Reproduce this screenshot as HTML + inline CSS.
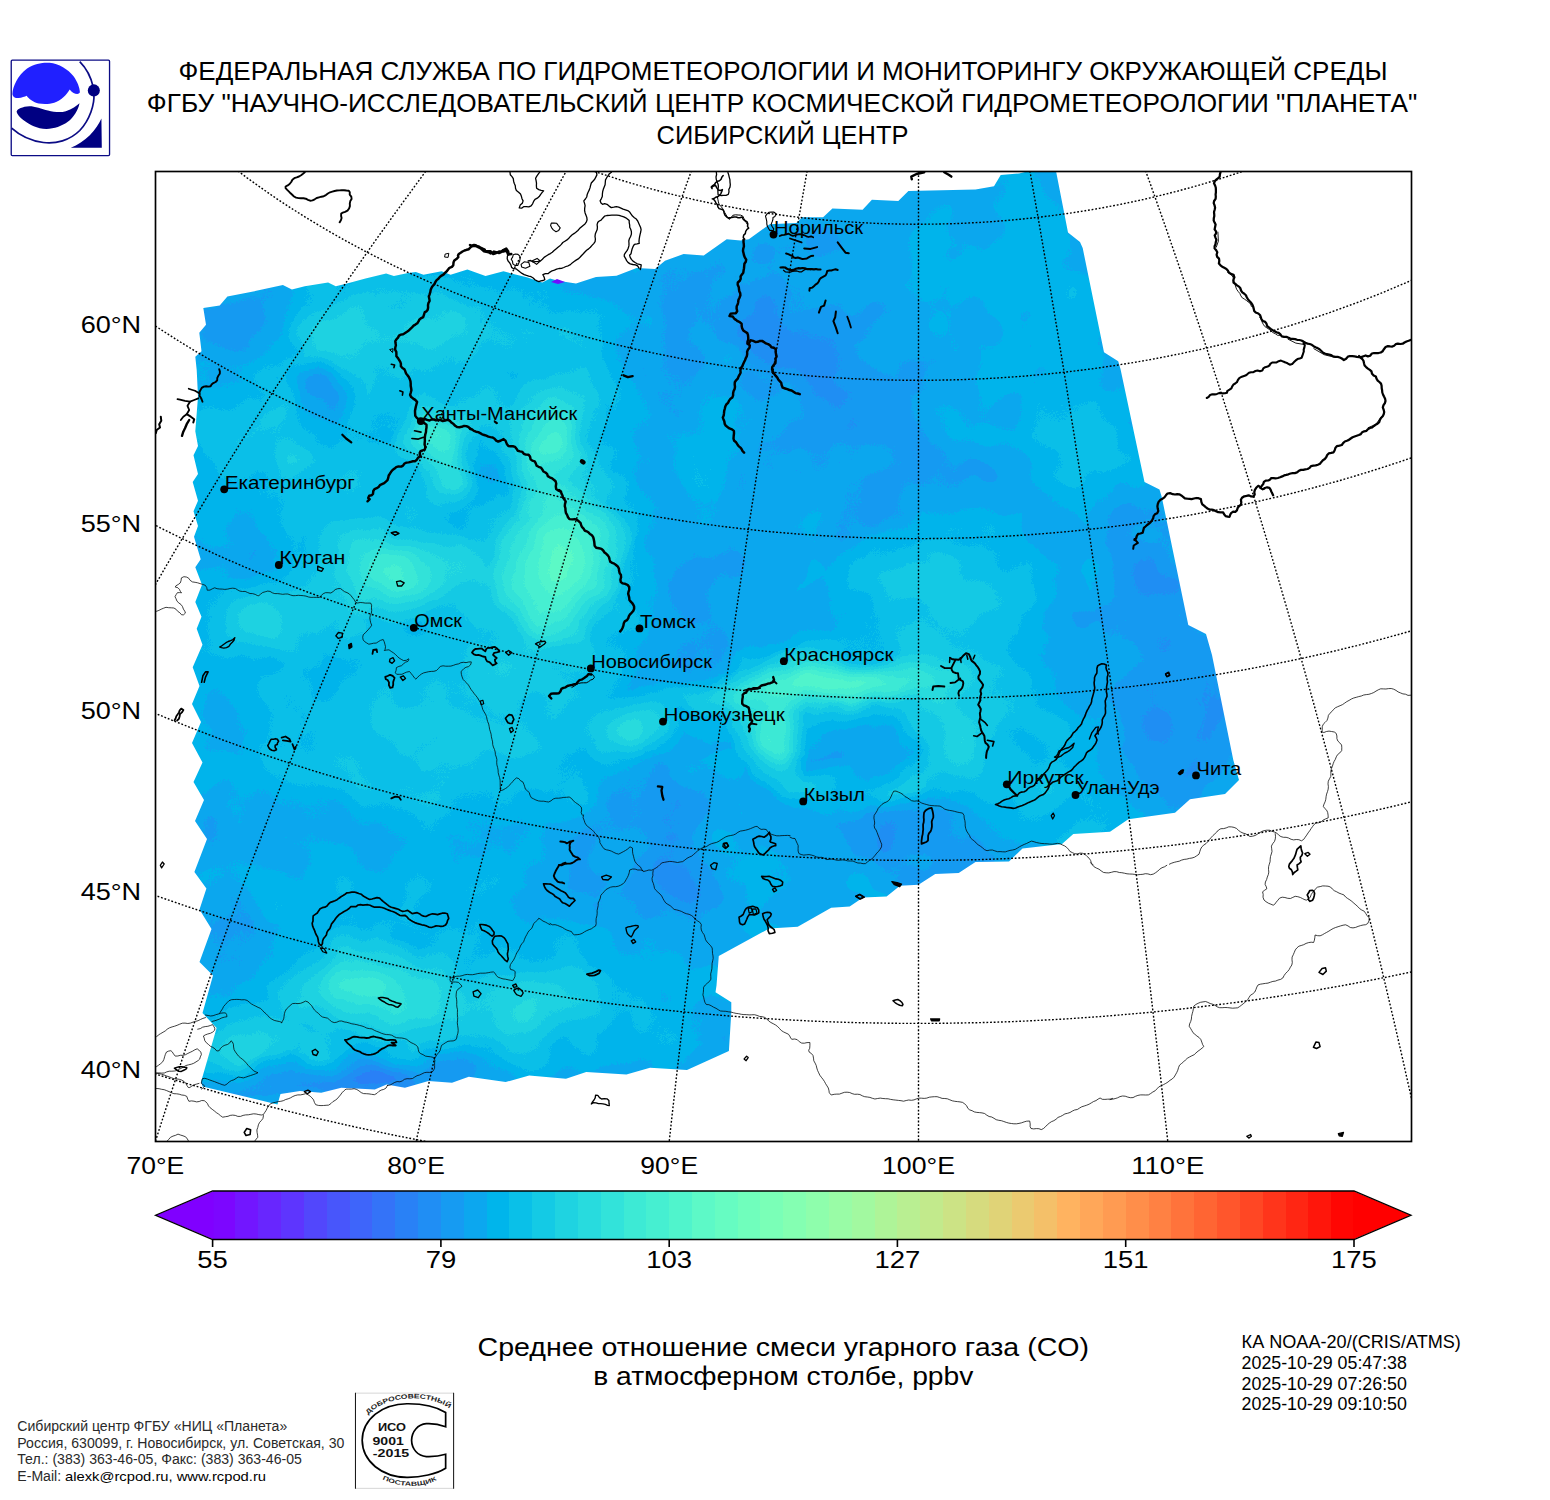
<!DOCTYPE html>
<html><head><meta charset="utf-8"><title>CO map</title>
<style>html,body{margin:0;padding:0;background:#fff;width:1550px;height:1500px;overflow:hidden}svg{display:block}text{font-family:"Liberation Sans",sans-serif}</style>
</head><body>
<svg width="1550" height="1500" viewBox="0 0 1550 1500">
<rect width="1550" height="1500" fill="#fff"/>
<g font-family="Liberation Sans, sans-serif">
<text x="783.0" y="79.7" font-size="25.50" text-anchor="middle" textLength="1209.0" lengthAdjust="spacingAndGlyphs" fill="#000" >ФЕДЕРАЛЬНАЯ СЛУЖБА ПО ГИДРОМЕТЕОРОЛОГИИ И МОНИТОРИНГУ ОКРУЖАЮЩЕЙ СРЕДЫ</text>
<text x="782.0" y="111.9" font-size="25.50" text-anchor="middle" textLength="1270.4" lengthAdjust="spacingAndGlyphs" fill="#000" >ФГБУ &quot;НАУЧНО-ИССЛЕДОВАТЕЛЬСКИЙ ЦЕНТР КОСМИЧЕСКОЙ ГИДРОМЕТЕОРОЛОГИИ &quot;ПЛАНЕТА&quot;</text>
<text x="782.5" y="144.0" font-size="25.50" text-anchor="middle" textLength="252.0" lengthAdjust="spacingAndGlyphs" fill="#000" >СИБИРСКИЙ ЦЕНТР</text>
<text x="783.3" y="1355.6" font-size="25.50" text-anchor="middle" textLength="611.4" lengthAdjust="spacingAndGlyphs" fill="#000" >Среднее отношение смеси угарного газа (CO)</text>
<text x="783.3" y="1385.0" font-size="25.50" text-anchor="middle" textLength="380.2" lengthAdjust="spacingAndGlyphs" fill="#000" >в атмосферном столбе, ppbv</text>
</g>
<g transform="translate(0,50) scale(0.077419)">
<rect x="145" y="130" width="1270" height="1235" rx="14" fill="#fff" stroke="#0b0b85" stroke-width="17"/>
<path d="M160 570 C165 470 230 330 350 240 C450 170 560 160 640 165 C760 175 880 250 950 340 C1000 410 1030 490 1032 545 C1020 575 985 570 950 555 C930 545 915 525 900 510 C860 580 790 650 700 680 C640 700 560 700 500 690 C430 675 370 630 345 590 C320 600 280 615 240 620 C200 622 165 610 160 570Z" fill="#2020ff"/>
<path d="M215 790 C225 760 290 730 380 725 C450 725 540 760 620 780 C700 800 780 810 850 790 C930 765 990 720 1027 688 C1010 780 950 870 880 925 C800 985 700 1020 600 1020 C480 1020 380 960 310 910 C250 865 215 820 215 790Z" fill="#000082"/>
<path d="M1030 150 C1120 240 1180 370 1205 480" fill="none" stroke="#0b0b85" stroke-width="22"/>
<path d="M1212 560 C1225 700 1160 900 1030 1040 C900 1170 720 1215 560 1195 C400 1175 250 1100 150 1010" fill="none" stroke="#0b0b85" stroke-width="22"/>
<circle cx="1212" cy="522" r="78" fill="#000082"/>
<path d="M1310 885 L1315 1262 L915 1262 C1000 1225 1090 1170 1160 1100 C1230 1030 1280 950 1310 885Z" fill="#000082"/>
</g>
<defs>
<clipPath id="frameclip"><rect x="155.5" y="171.5" width="1256.0" height="970.0"/></clipPath>
<clipPath id="dataclip"><path d="M203.3 308.1 L219.7 305.6 L227.4 296.6 L253.2 291.5 L282.9 285.0 L291.9 289.4 L304.8 286.3 L328.1 282.4 L335.8 286.3 L346.1 283.7 L365.5 278.5 L386.1 273.4 L393.9 276.0 L408.1 272.9 L415.8 272.1 L423.5 274.7 L441.6 271.3 L450.6 274.7 L467.4 269.5 L485.5 276.0 L503.5 271.3 L511.3 273.4 L526.8 277.3 L542.3 282.4 L550.0 278.5 L557.8 280.8 L576.0 283.5 L596.0 277.0 L616.5 275.8 L636.6 268.0 L655.0 269.0 L665.0 260.7 L683.6 254.0 L703.7 255.6 L726.7 239.3 L740.6 240.5 L748.8 239.3 L769.7 224.2 L796.4 223.1 L802.2 217.3 L823.1 217.3 L832.4 208.6 L862.6 209.7 L871.9 199.8 L898.3 200.9 L908.4 190.9 L975.5 189.5 L994.0 186.2 L1000.7 175.1 L1019.0 173.4 L1029.0 171.0 L1056.0 171.0 L1068.0 232.5 L1080.0 242.0 L1082.7 248.0 L1104.0 352.3 L1118.2 361.2 L1120.5 369.0 L1144.5 482.0 L1159.5 489.5 L1161.7 496.7 L1188.3 625.0 L1206.0 634.0 L1212.0 655.0 L1233.3 760.0 L1239.0 780.0 L1225.0 794.0 L1190.0 799.3 L1175.0 812.7 L1128.3 819.3 L1110.0 831.7 L1073.3 834.0 L1062.0 844.0 L1022.5 848.6 L1009.0 861.4 L975.5 862.0 L958.7 873.1 L935.2 874.1 L918.5 884.8 L900.0 885.8 L886.6 896.6 L863.0 897.6 L849.7 906.6 L831.2 907.7 L797.7 926.8 L769.2 928.5 L718.8 956.0 L716.5 985.5 L715.5 992.2 L731.3 1002.3 L731.3 1012.3 L728.9 1050.9 L687.0 1070.0 L650.0 1067.7 L626.4 1074.4 L586.2 1072.0 L566.0 1078.7 L529.2 1075.4 L505.7 1082.1 L468.8 1076.7 L452.0 1082.8 L428.5 1081.1 L405.0 1087.8 L386.6 1084.4 L374.8 1089.5 L341.3 1087.8 L321.2 1092.8 L300.0 1091.0 L280.5 1094.0 L277.5 1104.5 L202.5 1086.5 L201.0 1082.0 L216.6 1028.0 L202.5 1013.0 L213.0 975.5 L199.5 962.0 L211.5 929.0 L199.5 909.5 L206.4 888.5 L194.4 872.0 L207.0 839.0 L195.0 821.0 L204.0 800.0 L193.5 782.0 L202.5 762.5 L192.0 743.0 L201.0 722.0 L192.0 704.0 L199.5 686.0 L192.7 667.3 L202.5 644.7 L196.7 628.7 L201.5 616.7 L195.3 602.0 L202.0 584.7 L195.3 567.3 L200.7 559.3 L194.0 536.7 L198.0 526.0 L193.5 511.3 L198.0 500.7 L192.7 482.0 L198.0 474.0 L193.5 455.3 L198.0 446.0 L195.3 431.3 L198.0 396.7 L196.7 370.0 L195.3 356.7 L201.5 351.3 L199.3 332.7 L206.0 324.7Z"/></clipPath>
<filter id="cm" filterUnits="userSpaceOnUse" x="90" y="100" width="1390" height="1110" color-interpolation-filters="sRGB">
<feTurbulence type="fractalNoise" baseFrequency="0.011" numOctaves="3" seed="11" result="n"/>
<feDisplacementMap in="SourceGraphic" in2="n" scale="46" xChannelSelector="R" yChannelSelector="G" result="d"/>
<feTurbulence type="fractalNoise" baseFrequency="0.02" numOctaves="2" seed="5" result="n2"/>
<feColorMatrix in="n2" type="matrix" values="1 0 0 0 0  1 0 0 0 0  1 0 0 0 0  0 0 0 0 1" result="n3"/>
<feComposite in="d" in2="n3" operator="arithmetic" k1="0" k2="1" k3="0.10" k4="-0.05" result="e"/>
<feComponentTransfer in="e"><feFuncR type="discrete" tableValues="0.3196 0.2804 0.2412 0.2020 0.1627 0.1235 0.0843 0.0451 0.0020 0.0412 0.0804 0.1196 0.1588 0.1980 0.2373 0.2765 0.3157 0.3627 0.4020 0.4412 0.4804 0.5196 0.5588 0.5980 0.6373"/><feFuncG type="discrete" tableValues="0.2796 0.3382 0.3955 0.4512 0.5053 0.5575 0.6075 0.6553 0.7093 0.7513 0.7905 0.8267 0.8598 0.8896 0.9160 0.9390 0.9584 0.9768 0.9882 0.9957 0.9995 0.9995 0.9957 0.9882 0.9768"/><feFuncB type="discrete" tableValues="0.9900 0.9852 0.9794 0.9727 0.9651 0.9566 0.9472 0.9369 0.9233 0.9110 0.8979 0.8839 0.8691 0.8534 0.8370 0.8197 0.8017 0.7791 0.7594 0.7390 0.7179 0.6961 0.6737 0.6506 0.6269"/><feFuncA type="linear" slope="0" intercept="1"/></feComponentTransfer></filter>
<radialGradient id="b0"><stop offset="0" stop-color="#686868" stop-opacity="0.820"/><stop offset="0.15" stop-color="#686868" stop-opacity="0.777"/><stop offset="0.3" stop-color="#686868" stop-opacity="0.660"/><stop offset="0.45" stop-color="#686868" stop-opacity="0.502"/><stop offset="0.6" stop-color="#686868" stop-opacity="0.343"/><stop offset="0.75" stop-color="#686868" stop-opacity="0.210"/><stop offset="0.9" stop-color="#686868" stop-opacity="0.115"/><stop offset="1" stop-color="#686868" stop-opacity="0"/></radialGradient>
<radialGradient id="b1"><stop offset="0" stop-color="#4a4a4a" stop-opacity="0.600"/><stop offset="0.15" stop-color="#4a4a4a" stop-opacity="0.568"/><stop offset="0.3" stop-color="#4a4a4a" stop-opacity="0.483"/><stop offset="0.45" stop-color="#4a4a4a" stop-opacity="0.368"/><stop offset="0.6" stop-color="#4a4a4a" stop-opacity="0.251"/><stop offset="0.75" stop-color="#4a4a4a" stop-opacity="0.154"/><stop offset="0.9" stop-color="#4a4a4a" stop-opacity="0.084"/><stop offset="1" stop-color="#4a4a4a" stop-opacity="0"/></radialGradient>
<radialGradient id="b2"><stop offset="0" stop-color="#707070" stop-opacity="0.900"/><stop offset="0.15" stop-color="#707070" stop-opacity="0.852"/><stop offset="0.3" stop-color="#707070" stop-opacity="0.724"/><stop offset="0.45" stop-color="#707070" stop-opacity="0.551"/><stop offset="0.6" stop-color="#707070" stop-opacity="0.377"/><stop offset="0.75" stop-color="#707070" stop-opacity="0.231"/><stop offset="0.9" stop-color="#707070" stop-opacity="0.127"/><stop offset="1" stop-color="#707070" stop-opacity="0"/></radialGradient>
<radialGradient id="b3"><stop offset="0" stop-color="#636363" stop-opacity="0.800"/><stop offset="0.15" stop-color="#636363" stop-opacity="0.758"/><stop offset="0.3" stop-color="#636363" stop-opacity="0.643"/><stop offset="0.45" stop-color="#636363" stop-opacity="0.490"/><stop offset="0.6" stop-color="#636363" stop-opacity="0.335"/><stop offset="0.75" stop-color="#636363" stop-opacity="0.205"/><stop offset="0.9" stop-color="#636363" stop-opacity="0.113"/><stop offset="1" stop-color="#636363" stop-opacity="0"/></radialGradient>
<radialGradient id="b4"><stop offset="0" stop-color="#3d3d3d" stop-opacity="0.850"/><stop offset="0.15" stop-color="#3d3d3d" stop-opacity="0.805"/><stop offset="0.3" stop-color="#3d3d3d" stop-opacity="0.684"/><stop offset="0.45" stop-color="#3d3d3d" stop-opacity="0.521"/><stop offset="0.6" stop-color="#3d3d3d" stop-opacity="0.356"/><stop offset="0.75" stop-color="#3d3d3d" stop-opacity="0.218"/><stop offset="0.9" stop-color="#3d3d3d" stop-opacity="0.120"/><stop offset="1" stop-color="#3d3d3d" stop-opacity="0"/></radialGradient>
<radialGradient id="b5"><stop offset="0" stop-color="#393939" stop-opacity="0.850"/><stop offset="0.15" stop-color="#393939" stop-opacity="0.805"/><stop offset="0.3" stop-color="#393939" stop-opacity="0.684"/><stop offset="0.45" stop-color="#393939" stop-opacity="0.521"/><stop offset="0.6" stop-color="#393939" stop-opacity="0.356"/><stop offset="0.75" stop-color="#393939" stop-opacity="0.218"/><stop offset="0.9" stop-color="#393939" stop-opacity="0.120"/><stop offset="1" stop-color="#393939" stop-opacity="0"/></radialGradient>
<radialGradient id="b6"><stop offset="0" stop-color="#7d7d7d" stop-opacity="0.700"/><stop offset="0.15" stop-color="#7d7d7d" stop-opacity="0.663"/><stop offset="0.3" stop-color="#7d7d7d" stop-opacity="0.563"/><stop offset="0.45" stop-color="#7d7d7d" stop-opacity="0.429"/><stop offset="0.6" stop-color="#7d7d7d" stop-opacity="0.293"/><stop offset="0.75" stop-color="#7d7d7d" stop-opacity="0.179"/><stop offset="0.9" stop-color="#7d7d7d" stop-opacity="0.099"/><stop offset="1" stop-color="#7d7d7d" stop-opacity="0"/></radialGradient>
<radialGradient id="b7"><stop offset="0" stop-color="#7d7d7d" stop-opacity="0.700"/><stop offset="0.15" stop-color="#7d7d7d" stop-opacity="0.663"/><stop offset="0.3" stop-color="#7d7d7d" stop-opacity="0.563"/><stop offset="0.45" stop-color="#7d7d7d" stop-opacity="0.429"/><stop offset="0.6" stop-color="#7d7d7d" stop-opacity="0.293"/><stop offset="0.75" stop-color="#7d7d7d" stop-opacity="0.179"/><stop offset="0.9" stop-color="#7d7d7d" stop-opacity="0.099"/><stop offset="1" stop-color="#7d7d7d" stop-opacity="0"/></radialGradient>
<radialGradient id="b8"><stop offset="0" stop-color="#6c6c6c" stop-opacity="0.800"/><stop offset="0.15" stop-color="#6c6c6c" stop-opacity="0.758"/><stop offset="0.3" stop-color="#6c6c6c" stop-opacity="0.643"/><stop offset="0.45" stop-color="#6c6c6c" stop-opacity="0.490"/><stop offset="0.6" stop-color="#6c6c6c" stop-opacity="0.335"/><stop offset="0.75" stop-color="#6c6c6c" stop-opacity="0.205"/><stop offset="0.9" stop-color="#6c6c6c" stop-opacity="0.113"/><stop offset="1" stop-color="#6c6c6c" stop-opacity="0"/></radialGradient>
<radialGradient id="b9"><stop offset="0" stop-color="#444444" stop-opacity="0.800"/><stop offset="0.15" stop-color="#444444" stop-opacity="0.758"/><stop offset="0.3" stop-color="#444444" stop-opacity="0.643"/><stop offset="0.45" stop-color="#444444" stop-opacity="0.490"/><stop offset="0.6" stop-color="#444444" stop-opacity="0.335"/><stop offset="0.75" stop-color="#444444" stop-opacity="0.205"/><stop offset="0.9" stop-color="#444444" stop-opacity="0.113"/><stop offset="1" stop-color="#444444" stop-opacity="0"/></radialGradient>
<radialGradient id="b10"><stop offset="0" stop-color="#505050" stop-opacity="0.800"/><stop offset="0.15" stop-color="#505050" stop-opacity="0.758"/><stop offset="0.3" stop-color="#505050" stop-opacity="0.643"/><stop offset="0.45" stop-color="#505050" stop-opacity="0.490"/><stop offset="0.6" stop-color="#505050" stop-opacity="0.335"/><stop offset="0.75" stop-color="#505050" stop-opacity="0.205"/><stop offset="0.9" stop-color="#505050" stop-opacity="0.113"/><stop offset="1" stop-color="#505050" stop-opacity="0"/></radialGradient>
<radialGradient id="b11"><stop offset="0" stop-color="#a7a7a7" stop-opacity="0.920"/><stop offset="0.15" stop-color="#a7a7a7" stop-opacity="0.871"/><stop offset="0.3" stop-color="#a7a7a7" stop-opacity="0.740"/><stop offset="0.45" stop-color="#a7a7a7" stop-opacity="0.564"/><stop offset="0.6" stop-color="#a7a7a7" stop-opacity="0.385"/><stop offset="0.75" stop-color="#a7a7a7" stop-opacity="0.236"/><stop offset="0.9" stop-color="#a7a7a7" stop-opacity="0.130"/><stop offset="1" stop-color="#a7a7a7" stop-opacity="0"/></radialGradient>
<radialGradient id="b12"><stop offset="0" stop-color="#8e8e8e" stop-opacity="0.800"/><stop offset="0.15" stop-color="#8e8e8e" stop-opacity="0.758"/><stop offset="0.3" stop-color="#8e8e8e" stop-opacity="0.643"/><stop offset="0.45" stop-color="#8e8e8e" stop-opacity="0.490"/><stop offset="0.6" stop-color="#8e8e8e" stop-opacity="0.335"/><stop offset="0.75" stop-color="#8e8e8e" stop-opacity="0.205"/><stop offset="0.9" stop-color="#8e8e8e" stop-opacity="0.113"/><stop offset="1" stop-color="#8e8e8e" stop-opacity="0"/></radialGradient>
<radialGradient id="b13"><stop offset="0" stop-color="#9b9b9b" stop-opacity="0.920"/><stop offset="0.15" stop-color="#9b9b9b" stop-opacity="0.871"/><stop offset="0.3" stop-color="#9b9b9b" stop-opacity="0.740"/><stop offset="0.45" stop-color="#9b9b9b" stop-opacity="0.564"/><stop offset="0.6" stop-color="#9b9b9b" stop-opacity="0.385"/><stop offset="0.75" stop-color="#9b9b9b" stop-opacity="0.236"/><stop offset="0.9" stop-color="#9b9b9b" stop-opacity="0.130"/><stop offset="1" stop-color="#9b9b9b" stop-opacity="0"/></radialGradient>
<radialGradient id="b14"><stop offset="0" stop-color="#8a8a8a" stop-opacity="0.700"/><stop offset="0.15" stop-color="#8a8a8a" stop-opacity="0.663"/><stop offset="0.3" stop-color="#8a8a8a" stop-opacity="0.563"/><stop offset="0.45" stop-color="#8a8a8a" stop-opacity="0.429"/><stop offset="0.6" stop-color="#8a8a8a" stop-opacity="0.293"/><stop offset="0.75" stop-color="#8a8a8a" stop-opacity="0.179"/><stop offset="0.9" stop-color="#8a8a8a" stop-opacity="0.099"/><stop offset="1" stop-color="#8a8a8a" stop-opacity="0"/></radialGradient>
<radialGradient id="b15"><stop offset="0" stop-color="#858585" stop-opacity="0.900"/><stop offset="0.15" stop-color="#858585" stop-opacity="0.852"/><stop offset="0.3" stop-color="#858585" stop-opacity="0.724"/><stop offset="0.45" stop-color="#858585" stop-opacity="0.551"/><stop offset="0.6" stop-color="#858585" stop-opacity="0.377"/><stop offset="0.75" stop-color="#858585" stop-opacity="0.231"/><stop offset="0.9" stop-color="#858585" stop-opacity="0.127"/><stop offset="1" stop-color="#858585" stop-opacity="0"/></radialGradient>
<radialGradient id="b16"><stop offset="0" stop-color="#b6b6b6" stop-opacity="0.940"/><stop offset="0.15" stop-color="#b6b6b6" stop-opacity="0.890"/><stop offset="0.3" stop-color="#b6b6b6" stop-opacity="0.756"/><stop offset="0.45" stop-color="#b6b6b6" stop-opacity="0.576"/><stop offset="0.6" stop-color="#b6b6b6" stop-opacity="0.393"/><stop offset="0.75" stop-color="#b6b6b6" stop-opacity="0.241"/><stop offset="0.9" stop-color="#b6b6b6" stop-opacity="0.132"/><stop offset="1" stop-color="#b6b6b6" stop-opacity="0"/></radialGradient>
<radialGradient id="b17"><stop offset="0" stop-color="#9f9f9f" stop-opacity="0.900"/><stop offset="0.15" stop-color="#9f9f9f" stop-opacity="0.852"/><stop offset="0.3" stop-color="#9f9f9f" stop-opacity="0.724"/><stop offset="0.45" stop-color="#9f9f9f" stop-opacity="0.551"/><stop offset="0.6" stop-color="#9f9f9f" stop-opacity="0.377"/><stop offset="0.75" stop-color="#9f9f9f" stop-opacity="0.231"/><stop offset="0.9" stop-color="#9f9f9f" stop-opacity="0.127"/><stop offset="1" stop-color="#9f9f9f" stop-opacity="0"/></radialGradient>
<radialGradient id="b18"><stop offset="0" stop-color="#7d7d7d" stop-opacity="0.880"/><stop offset="0.15" stop-color="#7d7d7d" stop-opacity="0.833"/><stop offset="0.3" stop-color="#7d7d7d" stop-opacity="0.708"/><stop offset="0.45" stop-color="#7d7d7d" stop-opacity="0.539"/><stop offset="0.6" stop-color="#7d7d7d" stop-opacity="0.368"/><stop offset="0.75" stop-color="#7d7d7d" stop-opacity="0.226"/><stop offset="0.9" stop-color="#7d7d7d" stop-opacity="0.124"/><stop offset="1" stop-color="#7d7d7d" stop-opacity="0"/></radialGradient>
<radialGradient id="b19"><stop offset="0" stop-color="#707070" stop-opacity="0.700"/><stop offset="0.15" stop-color="#707070" stop-opacity="0.663"/><stop offset="0.3" stop-color="#707070" stop-opacity="0.563"/><stop offset="0.45" stop-color="#707070" stop-opacity="0.429"/><stop offset="0.6" stop-color="#707070" stop-opacity="0.293"/><stop offset="0.75" stop-color="#707070" stop-opacity="0.179"/><stop offset="0.9" stop-color="#707070" stop-opacity="0.099"/><stop offset="1" stop-color="#707070" stop-opacity="0"/></radialGradient>
<radialGradient id="b20"><stop offset="0" stop-color="#747474" stop-opacity="0.700"/><stop offset="0.15" stop-color="#747474" stop-opacity="0.663"/><stop offset="0.3" stop-color="#747474" stop-opacity="0.563"/><stop offset="0.45" stop-color="#747474" stop-opacity="0.429"/><stop offset="0.6" stop-color="#747474" stop-opacity="0.293"/><stop offset="0.75" stop-color="#747474" stop-opacity="0.179"/><stop offset="0.9" stop-color="#747474" stop-opacity="0.099"/><stop offset="1" stop-color="#747474" stop-opacity="0"/></radialGradient>
<radialGradient id="b21"><stop offset="0" stop-color="#6c6c6c" stop-opacity="0.850"/><stop offset="0.15" stop-color="#6c6c6c" stop-opacity="0.805"/><stop offset="0.3" stop-color="#6c6c6c" stop-opacity="0.684"/><stop offset="0.45" stop-color="#6c6c6c" stop-opacity="0.521"/><stop offset="0.6" stop-color="#6c6c6c" stop-opacity="0.356"/><stop offset="0.75" stop-color="#6c6c6c" stop-opacity="0.218"/><stop offset="0.9" stop-color="#6c6c6c" stop-opacity="0.120"/><stop offset="1" stop-color="#6c6c6c" stop-opacity="0"/></radialGradient>
<radialGradient id="b22"><stop offset="0" stop-color="#707070" stop-opacity="0.600"/><stop offset="0.15" stop-color="#707070" stop-opacity="0.568"/><stop offset="0.3" stop-color="#707070" stop-opacity="0.483"/><stop offset="0.45" stop-color="#707070" stop-opacity="0.368"/><stop offset="0.6" stop-color="#707070" stop-opacity="0.251"/><stop offset="0.75" stop-color="#707070" stop-opacity="0.154"/><stop offset="0.9" stop-color="#707070" stop-opacity="0.084"/><stop offset="1" stop-color="#707070" stop-opacity="0"/></radialGradient>
<radialGradient id="b23"><stop offset="0" stop-color="#858585" stop-opacity="0.850"/><stop offset="0.15" stop-color="#858585" stop-opacity="0.805"/><stop offset="0.3" stop-color="#858585" stop-opacity="0.684"/><stop offset="0.45" stop-color="#858585" stop-opacity="0.521"/><stop offset="0.6" stop-color="#858585" stop-opacity="0.356"/><stop offset="0.75" stop-color="#858585" stop-opacity="0.218"/><stop offset="0.9" stop-color="#858585" stop-opacity="0.120"/><stop offset="1" stop-color="#858585" stop-opacity="0"/></radialGradient>
<radialGradient id="b24"><stop offset="0" stop-color="#3d3d3d" stop-opacity="0.700"/><stop offset="0.15" stop-color="#3d3d3d" stop-opacity="0.663"/><stop offset="0.3" stop-color="#3d3d3d" stop-opacity="0.563"/><stop offset="0.45" stop-color="#3d3d3d" stop-opacity="0.429"/><stop offset="0.6" stop-color="#3d3d3d" stop-opacity="0.293"/><stop offset="0.75" stop-color="#3d3d3d" stop-opacity="0.179"/><stop offset="0.9" stop-color="#3d3d3d" stop-opacity="0.099"/><stop offset="1" stop-color="#3d3d3d" stop-opacity="0"/></radialGradient>
<radialGradient id="b25"><stop offset="0" stop-color="#636363" stop-opacity="0.700"/><stop offset="0.15" stop-color="#636363" stop-opacity="0.663"/><stop offset="0.3" stop-color="#636363" stop-opacity="0.563"/><stop offset="0.45" stop-color="#636363" stop-opacity="0.429"/><stop offset="0.6" stop-color="#636363" stop-opacity="0.293"/><stop offset="0.75" stop-color="#636363" stop-opacity="0.179"/><stop offset="0.9" stop-color="#636363" stop-opacity="0.099"/><stop offset="1" stop-color="#636363" stop-opacity="0"/></radialGradient>
<radialGradient id="b26"><stop offset="0" stop-color="#444444" stop-opacity="0.700"/><stop offset="0.15" stop-color="#444444" stop-opacity="0.663"/><stop offset="0.3" stop-color="#444444" stop-opacity="0.563"/><stop offset="0.45" stop-color="#444444" stop-opacity="0.429"/><stop offset="0.6" stop-color="#444444" stop-opacity="0.293"/><stop offset="0.75" stop-color="#444444" stop-opacity="0.179"/><stop offset="0.9" stop-color="#444444" stop-opacity="0.099"/><stop offset="1" stop-color="#444444" stop-opacity="0"/></radialGradient>
<radialGradient id="b27"><stop offset="0" stop-color="#444444" stop-opacity="0.600"/><stop offset="0.15" stop-color="#444444" stop-opacity="0.568"/><stop offset="0.3" stop-color="#444444" stop-opacity="0.483"/><stop offset="0.45" stop-color="#444444" stop-opacity="0.368"/><stop offset="0.6" stop-color="#444444" stop-opacity="0.251"/><stop offset="0.75" stop-color="#444444" stop-opacity="0.154"/><stop offset="0.9" stop-color="#444444" stop-opacity="0.084"/><stop offset="1" stop-color="#444444" stop-opacity="0"/></radialGradient>
<radialGradient id="b28"><stop offset="0" stop-color="#2e2e2e" stop-opacity="0.950"/><stop offset="0.15" stop-color="#2e2e2e" stop-opacity="0.900"/><stop offset="0.3" stop-color="#2e2e2e" stop-opacity="0.764"/><stop offset="0.45" stop-color="#2e2e2e" stop-opacity="0.582"/><stop offset="0.6" stop-color="#2e2e2e" stop-opacity="0.398"/><stop offset="0.75" stop-color="#2e2e2e" stop-opacity="0.244"/><stop offset="0.9" stop-color="#2e2e2e" stop-opacity="0.134"/><stop offset="1" stop-color="#2e2e2e" stop-opacity="0"/></radialGradient>
<radialGradient id="b29"><stop offset="0" stop-color="#333333" stop-opacity="0.800"/><stop offset="0.15" stop-color="#333333" stop-opacity="0.758"/><stop offset="0.3" stop-color="#333333" stop-opacity="0.643"/><stop offset="0.45" stop-color="#333333" stop-opacity="0.490"/><stop offset="0.6" stop-color="#333333" stop-opacity="0.335"/><stop offset="0.75" stop-color="#333333" stop-opacity="0.205"/><stop offset="0.9" stop-color="#333333" stop-opacity="0.113"/><stop offset="1" stop-color="#333333" stop-opacity="0"/></radialGradient>
<radialGradient id="b30"><stop offset="0" stop-color="#595959" stop-opacity="0.800"/><stop offset="0.15" stop-color="#595959" stop-opacity="0.758"/><stop offset="0.3" stop-color="#595959" stop-opacity="0.643"/><stop offset="0.45" stop-color="#595959" stop-opacity="0.490"/><stop offset="0.6" stop-color="#595959" stop-opacity="0.335"/><stop offset="0.75" stop-color="#595959" stop-opacity="0.205"/><stop offset="0.9" stop-color="#595959" stop-opacity="0.113"/><stop offset="1" stop-color="#595959" stop-opacity="0"/></radialGradient>
<radialGradient id="b31"><stop offset="0" stop-color="#464646" stop-opacity="0.600"/><stop offset="0.15" stop-color="#464646" stop-opacity="0.568"/><stop offset="0.3" stop-color="#464646" stop-opacity="0.483"/><stop offset="0.45" stop-color="#464646" stop-opacity="0.368"/><stop offset="0.6" stop-color="#464646" stop-opacity="0.251"/><stop offset="0.75" stop-color="#464646" stop-opacity="0.154"/><stop offset="0.9" stop-color="#464646" stop-opacity="0.084"/><stop offset="1" stop-color="#464646" stop-opacity="0"/></radialGradient>
<radialGradient id="b32"><stop offset="0" stop-color="#686868" stop-opacity="0.800"/><stop offset="0.15" stop-color="#686868" stop-opacity="0.758"/><stop offset="0.3" stop-color="#686868" stop-opacity="0.643"/><stop offset="0.45" stop-color="#686868" stop-opacity="0.490"/><stop offset="0.6" stop-color="#686868" stop-opacity="0.335"/><stop offset="0.75" stop-color="#686868" stop-opacity="0.205"/><stop offset="0.9" stop-color="#686868" stop-opacity="0.113"/><stop offset="1" stop-color="#686868" stop-opacity="0"/></radialGradient>
<radialGradient id="b33"><stop offset="0" stop-color="#666666" stop-opacity="0.700"/><stop offset="0.15" stop-color="#666666" stop-opacity="0.663"/><stop offset="0.3" stop-color="#666666" stop-opacity="0.563"/><stop offset="0.45" stop-color="#666666" stop-opacity="0.429"/><stop offset="0.6" stop-color="#666666" stop-opacity="0.293"/><stop offset="0.75" stop-color="#666666" stop-opacity="0.179"/><stop offset="0.9" stop-color="#666666" stop-opacity="0.099"/><stop offset="1" stop-color="#666666" stop-opacity="0"/></radialGradient>
<radialGradient id="b34"><stop offset="0" stop-color="#747474" stop-opacity="0.850"/><stop offset="0.15" stop-color="#747474" stop-opacity="0.805"/><stop offset="0.3" stop-color="#747474" stop-opacity="0.684"/><stop offset="0.45" stop-color="#747474" stop-opacity="0.521"/><stop offset="0.6" stop-color="#747474" stop-opacity="0.356"/><stop offset="0.75" stop-color="#747474" stop-opacity="0.218"/><stop offset="0.9" stop-color="#747474" stop-opacity="0.120"/><stop offset="1" stop-color="#747474" stop-opacity="0"/></radialGradient>
<radialGradient id="b35"><stop offset="0" stop-color="#393939" stop-opacity="0.700"/><stop offset="0.15" stop-color="#393939" stop-opacity="0.663"/><stop offset="0.3" stop-color="#393939" stop-opacity="0.563"/><stop offset="0.45" stop-color="#393939" stop-opacity="0.429"/><stop offset="0.6" stop-color="#393939" stop-opacity="0.293"/><stop offset="0.75" stop-color="#393939" stop-opacity="0.179"/><stop offset="0.9" stop-color="#393939" stop-opacity="0.099"/><stop offset="1" stop-color="#393939" stop-opacity="0"/></radialGradient>
<radialGradient id="b36"><stop offset="0" stop-color="#7d7d7d" stop-opacity="0.900"/><stop offset="0.15" stop-color="#7d7d7d" stop-opacity="0.852"/><stop offset="0.3" stop-color="#7d7d7d" stop-opacity="0.724"/><stop offset="0.45" stop-color="#7d7d7d" stop-opacity="0.551"/><stop offset="0.6" stop-color="#7d7d7d" stop-opacity="0.377"/><stop offset="0.75" stop-color="#7d7d7d" stop-opacity="0.231"/><stop offset="0.9" stop-color="#7d7d7d" stop-opacity="0.127"/><stop offset="1" stop-color="#7d7d7d" stop-opacity="0"/></radialGradient>
<radialGradient id="b37"><stop offset="0" stop-color="#acacac" stop-opacity="0.950"/><stop offset="0.15" stop-color="#acacac" stop-opacity="0.900"/><stop offset="0.3" stop-color="#acacac" stop-opacity="0.764"/><stop offset="0.45" stop-color="#acacac" stop-opacity="0.582"/><stop offset="0.6" stop-color="#acacac" stop-opacity="0.398"/><stop offset="0.75" stop-color="#acacac" stop-opacity="0.244"/><stop offset="0.9" stop-color="#acacac" stop-opacity="0.134"/><stop offset="1" stop-color="#acacac" stop-opacity="0"/></radialGradient>
<radialGradient id="b38"><stop offset="0" stop-color="#a3a3a3" stop-opacity="0.900"/><stop offset="0.15" stop-color="#a3a3a3" stop-opacity="0.852"/><stop offset="0.3" stop-color="#a3a3a3" stop-opacity="0.724"/><stop offset="0.45" stop-color="#a3a3a3" stop-opacity="0.551"/><stop offset="0.6" stop-color="#a3a3a3" stop-opacity="0.377"/><stop offset="0.75" stop-color="#a3a3a3" stop-opacity="0.231"/><stop offset="0.9" stop-color="#a3a3a3" stop-opacity="0.127"/><stop offset="1" stop-color="#a3a3a3" stop-opacity="0"/></radialGradient>
<radialGradient id="b39"><stop offset="0" stop-color="#797979" stop-opacity="0.800"/><stop offset="0.15" stop-color="#797979" stop-opacity="0.758"/><stop offset="0.3" stop-color="#797979" stop-opacity="0.643"/><stop offset="0.45" stop-color="#797979" stop-opacity="0.490"/><stop offset="0.6" stop-color="#797979" stop-opacity="0.335"/><stop offset="0.75" stop-color="#797979" stop-opacity="0.205"/><stop offset="0.9" stop-color="#797979" stop-opacity="0.113"/><stop offset="1" stop-color="#797979" stop-opacity="0"/></radialGradient>
<radialGradient id="b40"><stop offset="0" stop-color="#464646" stop-opacity="0.850"/><stop offset="0.15" stop-color="#464646" stop-opacity="0.805"/><stop offset="0.3" stop-color="#464646" stop-opacity="0.684"/><stop offset="0.45" stop-color="#464646" stop-opacity="0.521"/><stop offset="0.6" stop-color="#464646" stop-opacity="0.356"/><stop offset="0.75" stop-color="#464646" stop-opacity="0.218"/><stop offset="0.9" stop-color="#464646" stop-opacity="0.120"/><stop offset="1" stop-color="#464646" stop-opacity="0"/></radialGradient>
<radialGradient id="b41"><stop offset="0" stop-color="#747474" stop-opacity="0.800"/><stop offset="0.15" stop-color="#747474" stop-opacity="0.758"/><stop offset="0.3" stop-color="#747474" stop-opacity="0.643"/><stop offset="0.45" stop-color="#747474" stop-opacity="0.490"/><stop offset="0.6" stop-color="#747474" stop-opacity="0.335"/><stop offset="0.75" stop-color="#747474" stop-opacity="0.205"/><stop offset="0.9" stop-color="#747474" stop-opacity="0.113"/><stop offset="1" stop-color="#747474" stop-opacity="0"/></radialGradient>
<radialGradient id="b42"><stop offset="0" stop-color="#707070" stop-opacity="0.750"/><stop offset="0.15" stop-color="#707070" stop-opacity="0.710"/><stop offset="0.3" stop-color="#707070" stop-opacity="0.603"/><stop offset="0.45" stop-color="#707070" stop-opacity="0.459"/><stop offset="0.6" stop-color="#707070" stop-opacity="0.314"/><stop offset="0.75" stop-color="#707070" stop-opacity="0.192"/><stop offset="0.9" stop-color="#707070" stop-opacity="0.106"/><stop offset="1" stop-color="#707070" stop-opacity="0"/></radialGradient>
<radialGradient id="b43"><stop offset="0" stop-color="#797979" stop-opacity="0.700"/><stop offset="0.15" stop-color="#797979" stop-opacity="0.663"/><stop offset="0.3" stop-color="#797979" stop-opacity="0.563"/><stop offset="0.45" stop-color="#797979" stop-opacity="0.429"/><stop offset="0.6" stop-color="#797979" stop-opacity="0.293"/><stop offset="0.75" stop-color="#797979" stop-opacity="0.179"/><stop offset="0.9" stop-color="#797979" stop-opacity="0.099"/><stop offset="1" stop-color="#797979" stop-opacity="0"/></radialGradient>
<radialGradient id="b44"><stop offset="0" stop-color="#3d3d3d" stop-opacity="0.700"/><stop offset="0.15" stop-color="#3d3d3d" stop-opacity="0.663"/><stop offset="0.3" stop-color="#3d3d3d" stop-opacity="0.563"/><stop offset="0.45" stop-color="#3d3d3d" stop-opacity="0.429"/><stop offset="0.6" stop-color="#3d3d3d" stop-opacity="0.293"/><stop offset="0.75" stop-color="#3d3d3d" stop-opacity="0.179"/><stop offset="0.9" stop-color="#3d3d3d" stop-opacity="0.099"/><stop offset="1" stop-color="#3d3d3d" stop-opacity="0"/></radialGradient>
<radialGradient id="b45"><stop offset="0" stop-color="#3f3f3f" stop-opacity="0.700"/><stop offset="0.15" stop-color="#3f3f3f" stop-opacity="0.663"/><stop offset="0.3" stop-color="#3f3f3f" stop-opacity="0.563"/><stop offset="0.45" stop-color="#3f3f3f" stop-opacity="0.429"/><stop offset="0.6" stop-color="#3f3f3f" stop-opacity="0.293"/><stop offset="0.75" stop-color="#3f3f3f" stop-opacity="0.179"/><stop offset="0.9" stop-color="#3f3f3f" stop-opacity="0.099"/><stop offset="1" stop-color="#3f3f3f" stop-opacity="0"/></radialGradient>
<radialGradient id="b46"><stop offset="0" stop-color="#3b3b3b" stop-opacity="0.750"/><stop offset="0.15" stop-color="#3b3b3b" stop-opacity="0.710"/><stop offset="0.3" stop-color="#3b3b3b" stop-opacity="0.603"/><stop offset="0.45" stop-color="#3b3b3b" stop-opacity="0.459"/><stop offset="0.6" stop-color="#3b3b3b" stop-opacity="0.314"/><stop offset="0.75" stop-color="#3b3b3b" stop-opacity="0.192"/><stop offset="0.9" stop-color="#3b3b3b" stop-opacity="0.106"/><stop offset="1" stop-color="#3b3b3b" stop-opacity="0"/></radialGradient>
<radialGradient id="b47"><stop offset="0" stop-color="#393939" stop-opacity="0.850"/><stop offset="0.15" stop-color="#393939" stop-opacity="0.805"/><stop offset="0.3" stop-color="#393939" stop-opacity="0.684"/><stop offset="0.45" stop-color="#393939" stop-opacity="0.521"/><stop offset="0.6" stop-color="#393939" stop-opacity="0.356"/><stop offset="0.75" stop-color="#393939" stop-opacity="0.218"/><stop offset="0.9" stop-color="#393939" stop-opacity="0.120"/><stop offset="1" stop-color="#393939" stop-opacity="0"/></radialGradient>
<radialGradient id="b48"><stop offset="0" stop-color="#686868" stop-opacity="0.800"/><stop offset="0.15" stop-color="#686868" stop-opacity="0.758"/><stop offset="0.3" stop-color="#686868" stop-opacity="0.643"/><stop offset="0.45" stop-color="#686868" stop-opacity="0.490"/><stop offset="0.6" stop-color="#686868" stop-opacity="0.335"/><stop offset="0.75" stop-color="#686868" stop-opacity="0.205"/><stop offset="0.9" stop-color="#686868" stop-opacity="0.113"/><stop offset="1" stop-color="#686868" stop-opacity="0"/></radialGradient>
<radialGradient id="b49"><stop offset="0" stop-color="#666666" stop-opacity="0.700"/><stop offset="0.15" stop-color="#666666" stop-opacity="0.663"/><stop offset="0.3" stop-color="#666666" stop-opacity="0.563"/><stop offset="0.45" stop-color="#666666" stop-opacity="0.429"/><stop offset="0.6" stop-color="#666666" stop-opacity="0.293"/><stop offset="0.75" stop-color="#666666" stop-opacity="0.179"/><stop offset="0.9" stop-color="#666666" stop-opacity="0.099"/><stop offset="1" stop-color="#666666" stop-opacity="0"/></radialGradient>
<radialGradient id="b50"><stop offset="0" stop-color="#393939" stop-opacity="0.800"/><stop offset="0.15" stop-color="#393939" stop-opacity="0.758"/><stop offset="0.3" stop-color="#393939" stop-opacity="0.643"/><stop offset="0.45" stop-color="#393939" stop-opacity="0.490"/><stop offset="0.6" stop-color="#393939" stop-opacity="0.335"/><stop offset="0.75" stop-color="#393939" stop-opacity="0.205"/><stop offset="0.9" stop-color="#393939" stop-opacity="0.113"/><stop offset="1" stop-color="#393939" stop-opacity="0"/></radialGradient>
<radialGradient id="b51"><stop offset="0" stop-color="#5b5b5b" stop-opacity="0.600"/><stop offset="0.15" stop-color="#5b5b5b" stop-opacity="0.568"/><stop offset="0.3" stop-color="#5b5b5b" stop-opacity="0.483"/><stop offset="0.45" stop-color="#5b5b5b" stop-opacity="0.368"/><stop offset="0.6" stop-color="#5b5b5b" stop-opacity="0.251"/><stop offset="0.75" stop-color="#5b5b5b" stop-opacity="0.154"/><stop offset="0.9" stop-color="#5b5b5b" stop-opacity="0.084"/><stop offset="1" stop-color="#5b5b5b" stop-opacity="0"/></radialGradient>
<radialGradient id="b52"><stop offset="0" stop-color="#303030" stop-opacity="0.800"/><stop offset="0.15" stop-color="#303030" stop-opacity="0.758"/><stop offset="0.3" stop-color="#303030" stop-opacity="0.643"/><stop offset="0.45" stop-color="#303030" stop-opacity="0.490"/><stop offset="0.6" stop-color="#303030" stop-opacity="0.335"/><stop offset="0.75" stop-color="#303030" stop-opacity="0.205"/><stop offset="0.9" stop-color="#303030" stop-opacity="0.113"/><stop offset="1" stop-color="#303030" stop-opacity="0"/></radialGradient>
<radialGradient id="b53"><stop offset="0" stop-color="#414141" stop-opacity="0.500"/><stop offset="0.15" stop-color="#414141" stop-opacity="0.474"/><stop offset="0.3" stop-color="#414141" stop-opacity="0.402"/><stop offset="0.45" stop-color="#414141" stop-opacity="0.306"/><stop offset="0.6" stop-color="#414141" stop-opacity="0.209"/><stop offset="0.75" stop-color="#414141" stop-opacity="0.128"/><stop offset="0.9" stop-color="#414141" stop-opacity="0.070"/><stop offset="1" stop-color="#414141" stop-opacity="0"/></radialGradient>
<radialGradient id="b54"><stop offset="0" stop-color="#464646" stop-opacity="0.600"/><stop offset="0.15" stop-color="#464646" stop-opacity="0.568"/><stop offset="0.3" stop-color="#464646" stop-opacity="0.483"/><stop offset="0.45" stop-color="#464646" stop-opacity="0.368"/><stop offset="0.6" stop-color="#464646" stop-opacity="0.251"/><stop offset="0.75" stop-color="#464646" stop-opacity="0.154"/><stop offset="0.9" stop-color="#464646" stop-opacity="0.084"/><stop offset="1" stop-color="#464646" stop-opacity="0"/></radialGradient>
<radialGradient id="b55"><stop offset="0" stop-color="#393939" stop-opacity="0.700"/><stop offset="0.15" stop-color="#393939" stop-opacity="0.663"/><stop offset="0.3" stop-color="#393939" stop-opacity="0.563"/><stop offset="0.45" stop-color="#393939" stop-opacity="0.429"/><stop offset="0.6" stop-color="#393939" stop-opacity="0.293"/><stop offset="0.75" stop-color="#393939" stop-opacity="0.179"/><stop offset="0.9" stop-color="#393939" stop-opacity="0.099"/><stop offset="1" stop-color="#393939" stop-opacity="0"/></radialGradient>
<radialGradient id="b56"><stop offset="0" stop-color="#747474" stop-opacity="0.850"/><stop offset="0.15" stop-color="#747474" stop-opacity="0.805"/><stop offset="0.3" stop-color="#747474" stop-opacity="0.684"/><stop offset="0.45" stop-color="#747474" stop-opacity="0.521"/><stop offset="0.6" stop-color="#747474" stop-opacity="0.356"/><stop offset="0.75" stop-color="#747474" stop-opacity="0.218"/><stop offset="0.9" stop-color="#747474" stop-opacity="0.120"/><stop offset="1" stop-color="#747474" stop-opacity="0"/></radialGradient>
<radialGradient id="b57"><stop offset="0" stop-color="#616161" stop-opacity="0.600"/><stop offset="0.15" stop-color="#616161" stop-opacity="0.568"/><stop offset="0.3" stop-color="#616161" stop-opacity="0.483"/><stop offset="0.45" stop-color="#616161" stop-opacity="0.368"/><stop offset="0.6" stop-color="#616161" stop-opacity="0.251"/><stop offset="0.75" stop-color="#616161" stop-opacity="0.154"/><stop offset="0.9" stop-color="#616161" stop-opacity="0.084"/><stop offset="1" stop-color="#616161" stop-opacity="0"/></radialGradient>
<radialGradient id="b58"><stop offset="0" stop-color="#999999" stop-opacity="0.880"/><stop offset="0.15" stop-color="#999999" stop-opacity="0.833"/><stop offset="0.3" stop-color="#999999" stop-opacity="0.708"/><stop offset="0.45" stop-color="#999999" stop-opacity="0.539"/><stop offset="0.6" stop-color="#999999" stop-opacity="0.368"/><stop offset="0.75" stop-color="#999999" stop-opacity="0.226"/><stop offset="0.9" stop-color="#999999" stop-opacity="0.124"/><stop offset="1" stop-color="#999999" stop-opacity="0"/></radialGradient>
<radialGradient id="b59"><stop offset="0" stop-color="#818181" stop-opacity="0.800"/><stop offset="0.15" stop-color="#818181" stop-opacity="0.758"/><stop offset="0.3" stop-color="#818181" stop-opacity="0.643"/><stop offset="0.45" stop-color="#818181" stop-opacity="0.490"/><stop offset="0.6" stop-color="#818181" stop-opacity="0.335"/><stop offset="0.75" stop-color="#818181" stop-opacity="0.205"/><stop offset="0.9" stop-color="#818181" stop-opacity="0.113"/><stop offset="1" stop-color="#818181" stop-opacity="0"/></radialGradient>
<radialGradient id="b60"><stop offset="0" stop-color="#818181" stop-opacity="0.800"/><stop offset="0.15" stop-color="#818181" stop-opacity="0.758"/><stop offset="0.3" stop-color="#818181" stop-opacity="0.643"/><stop offset="0.45" stop-color="#818181" stop-opacity="0.490"/><stop offset="0.6" stop-color="#818181" stop-opacity="0.335"/><stop offset="0.75" stop-color="#818181" stop-opacity="0.205"/><stop offset="0.9" stop-color="#818181" stop-opacity="0.113"/><stop offset="1" stop-color="#818181" stop-opacity="0"/></radialGradient>
<radialGradient id="b61"><stop offset="0" stop-color="#2c2c2c" stop-opacity="0.900"/><stop offset="0.15" stop-color="#2c2c2c" stop-opacity="0.852"/><stop offset="0.3" stop-color="#2c2c2c" stop-opacity="0.724"/><stop offset="0.45" stop-color="#2c2c2c" stop-opacity="0.551"/><stop offset="0.6" stop-color="#2c2c2c" stop-opacity="0.377"/><stop offset="0.75" stop-color="#2c2c2c" stop-opacity="0.231"/><stop offset="0.9" stop-color="#2c2c2c" stop-opacity="0.127"/><stop offset="1" stop-color="#2c2c2c" stop-opacity="0"/></radialGradient>
<radialGradient id="b62"><stop offset="0" stop-color="#5f5f5f" stop-opacity="0.600"/><stop offset="0.15" stop-color="#5f5f5f" stop-opacity="0.568"/><stop offset="0.3" stop-color="#5f5f5f" stop-opacity="0.483"/><stop offset="0.45" stop-color="#5f5f5f" stop-opacity="0.368"/><stop offset="0.6" stop-color="#5f5f5f" stop-opacity="0.251"/><stop offset="0.75" stop-color="#5f5f5f" stop-opacity="0.154"/><stop offset="0.9" stop-color="#5f5f5f" stop-opacity="0.084"/><stop offset="1" stop-color="#5f5f5f" stop-opacity="0"/></radialGradient>
</defs>
<g clip-path="url(#dataclip)"><g filter="url(#cm)">
<rect x="90" y="100" width="1390" height="1110" fill="#4e4e4e"/>
<ellipse cx="400" cy="560" rx="330" ry="380" transform="rotate(0 400 560)" fill="url(#b0)"/>
<ellipse cx="640" cy="420" rx="60" ry="260" transform="rotate(0 640 420)" fill="url(#b1)"/>
<ellipse cx="390" cy="335" rx="175" ry="95" transform="rotate(-10 390 335)" fill="url(#b2)"/>
<ellipse cx="260" cy="445" rx="110" ry="110" transform="rotate(0 260 445)" fill="url(#b3)"/>
<ellipse cx="235" cy="320" rx="85" ry="60" transform="rotate(0 235 320)" fill="url(#b4)"/>
<ellipse cx="320" cy="388" rx="42" ry="36" transform="rotate(0 320 388)" fill="url(#b5)"/>
<ellipse cx="349" cy="332" rx="60" ry="40" transform="rotate(0 349 332)" fill="url(#b6)"/>
<ellipse cx="434" cy="335" rx="30" ry="35" transform="rotate(0 434 335)" fill="url(#b7)"/>
<ellipse cx="540" cy="400" rx="120" ry="120" transform="rotate(0 540 400)" fill="url(#b8)"/>
<ellipse cx="235" cy="545" rx="75" ry="75" transform="rotate(0 235 545)" fill="url(#b9)"/>
<ellipse cx="487" cy="480" rx="62" ry="62" transform="rotate(0 487 480)" fill="url(#b10)"/>
<ellipse cx="554" cy="449" rx="62" ry="78" transform="rotate(0 554 449)" fill="url(#b11)"/>
<ellipse cx="560" cy="505" rx="45" ry="60" transform="rotate(0 560 505)" fill="url(#b12)"/>
<ellipse cx="441" cy="440" rx="40" ry="56" transform="rotate(0 441 440)" fill="url(#b13)"/>
<ellipse cx="443" cy="472" rx="30" ry="42" transform="rotate(0 443 472)" fill="url(#b14)"/>
<ellipse cx="552" cy="582" rx="112" ry="138" transform="rotate(15 552 582)" fill="url(#b15)"/>
<ellipse cx="560" cy="566" rx="74" ry="84" transform="rotate(15 560 566)" fill="url(#b16)"/>
<ellipse cx="391" cy="566" rx="92" ry="50" transform="rotate(0 391 566)" fill="url(#b17)"/>
<ellipse cx="270" cy="617" rx="92" ry="50" transform="rotate(0 270 617)" fill="url(#b18)"/>
<ellipse cx="274" cy="417" rx="30" ry="30" transform="rotate(0 274 417)" fill="url(#b19)"/>
<ellipse cx="296" cy="452" rx="30" ry="35" transform="rotate(0 296 452)" fill="url(#b20)"/>
<ellipse cx="455" cy="745" rx="225" ry="95" transform="rotate(-5 455 745)" fill="url(#b21)"/>
<ellipse cx="512" cy="686" rx="65" ry="42" transform="rotate(0 512 686)" fill="url(#b22)"/>
<ellipse cx="632" cy="727" rx="58" ry="46" transform="rotate(0 632 727)" fill="url(#b23)"/>
<ellipse cx="682" cy="320" rx="40" ry="60" transform="rotate(0 682 320)" fill="url(#b24)"/>
<ellipse cx="707" cy="450" rx="50" ry="75" transform="rotate(0 707 450)" fill="url(#b25)"/>
<ellipse cx="790" cy="330" rx="150" ry="210" transform="rotate(0 790 330)" fill="url(#b26)"/>
<ellipse cx="880" cy="500" rx="120" ry="70" transform="rotate(20 880 500)" fill="url(#b27)"/>
<ellipse cx="822" cy="368" rx="172" ry="38" transform="rotate(38 822 368)" fill="url(#b28)"/>
<ellipse cx="878" cy="415" rx="62" ry="30" transform="rotate(35 878 415)" fill="url(#b29)"/>
<ellipse cx="1030" cy="300" rx="130" ry="170" transform="rotate(0 1030 300)" fill="url(#b30)"/>
<ellipse cx="830" cy="430" rx="150" ry="130" transform="rotate(0 830 430)" fill="url(#b31)"/>
<ellipse cx="1091" cy="435" rx="65" ry="78" transform="rotate(0 1091 435)" fill="url(#b32)"/>
<ellipse cx="958" cy="675" rx="105" ry="175" transform="rotate(0 958 675)" fill="url(#b33)"/>
<ellipse cx="938" cy="588" rx="120" ry="78" transform="rotate(0 938 588)" fill="url(#b34)"/>
<ellipse cx="1150" cy="575" rx="70" ry="80" transform="rotate(0 1150 575)" fill="url(#b35)"/>
<ellipse cx="850" cy="690" rx="205" ry="66" transform="rotate(-3 850 690)" fill="url(#b36)"/>
<ellipse cx="828" cy="685" rx="168" ry="33" transform="rotate(-3 828 685)" fill="url(#b37)"/>
<ellipse cx="768" cy="735" rx="42" ry="72" transform="rotate(-10 768 735)" fill="url(#b38)"/>
<ellipse cx="965" cy="725" rx="52" ry="62" transform="rotate(0 965 725)" fill="url(#b39)"/>
<ellipse cx="867" cy="742" rx="72" ry="36" transform="rotate(10 867 742)" fill="url(#b40)"/>
<ellipse cx="815" cy="790" rx="75" ry="32" transform="rotate(5 815 790)" fill="url(#b41)"/>
<ellipse cx="915" cy="776" rx="62" ry="30" transform="rotate(-20 915 776)" fill="url(#b42)"/>
<ellipse cx="968" cy="740" rx="40" ry="55" transform="rotate(0 968 740)" fill="url(#b43)"/>
<ellipse cx="707" cy="630" rx="40" ry="50" transform="rotate(0 707 630)" fill="url(#b44)"/>
<ellipse cx="689" cy="590" rx="70" ry="105" transform="rotate(0 689 590)" fill="url(#b45)"/>
<ellipse cx="664" cy="802" rx="75" ry="45" transform="rotate(0 664 802)" fill="url(#b46)"/>
<ellipse cx="1180" cy="700" rx="90" ry="165" transform="rotate(0 1180 700)" fill="url(#b47)"/>
<ellipse cx="1050" cy="800" rx="115" ry="70" transform="rotate(0 1050 800)" fill="url(#b48)"/>
<ellipse cx="1032" cy="742" rx="62" ry="52" transform="rotate(0 1032 742)" fill="url(#b49)"/>
<ellipse cx="920" cy="840" rx="95" ry="60" transform="rotate(0 920 840)" fill="url(#b50)"/>
<ellipse cx="761" cy="872" rx="50" ry="40" transform="rotate(0 761 872)" fill="url(#b51)"/>
<ellipse cx="675" cy="884" rx="52" ry="52" transform="rotate(0 675 884)" fill="url(#b52)"/>
<ellipse cx="620" cy="900" rx="90" ry="110" transform="rotate(0 620 900)" fill="url(#b53)"/>
<ellipse cx="330" cy="850" rx="235" ry="70" transform="rotate(0 330 850)" fill="url(#b54)"/>
<ellipse cx="230" cy="960" rx="62" ry="85" transform="rotate(0 230 960)" fill="url(#b55)"/>
<ellipse cx="430" cy="1000" rx="310" ry="92" transform="rotate(0 430 1000)" fill="url(#b56)"/>
<ellipse cx="380" cy="905" rx="200" ry="90" transform="rotate(0 380 905)" fill="url(#b57)"/>
<ellipse cx="370" cy="983" rx="105" ry="56" transform="rotate(0 370 983)" fill="url(#b58)"/>
<ellipse cx="533" cy="1006" rx="100" ry="40" transform="rotate(0 533 1006)" fill="url(#b59)"/>
<ellipse cx="256" cy="1047" rx="82" ry="46" transform="rotate(0 256 1047)" fill="url(#b60)"/>
<ellipse cx="370" cy="1076" rx="165" ry="28" transform="rotate(-3 370 1076)" fill="url(#b61)"/>
<ellipse cx="600" cy="1040" rx="150" ry="50" transform="rotate(0 600 1040)" fill="url(#b62)"/>
</g></g>
<path d="M551 282 L557 279 L565 282 L558 284Z" fill="#7010ff"/>
<g clip-path="url(#frameclip)">
<g fill="none" stroke="#000" stroke-width="1.4" stroke-dasharray="1.8 1.85">
<path d="M-744.6 746.0 L-736.1 754.7 L-727.5 763.4 L-718.9 771.9 L-710.2 780.4 L-701.4 788.9 L-692.5 797.2 L-683.6 805.5 L-674.6 813.8 L-665.5 822.0 L-656.3 830.1 L-647.1 838.1 L-637.8 846.1 L-628.4 854.1 L-619.0 861.9 L-609.5 869.7 L-599.9 877.5 L-590.3 885.1 L-580.6 892.7 L-570.8 900.3 L-561.0 907.8 L-551.1 915.2 L-541.1 922.5 L-531.1 929.8 L-521.0 937.0 L-510.8 944.2 L-500.6 951.3 L-490.3 958.4 L-480.0 965.3 L-469.6 972.2 L-459.2 979.1 L-448.6 985.9 L-438.1 992.6 L-427.5 999.2 L-416.8 1005.8 L-406.0 1012.4 L-395.3 1018.8 L-384.4 1025.2 L-373.5 1031.6 L-362.6 1037.9 L-351.6 1044.1 L-340.5 1050.2 L-329.4 1056.3 L-318.2 1062.4 L-307.0 1068.3 L-295.8 1074.2 L-284.5 1080.1 L-273.1 1085.8 L-261.7 1091.5 L-250.3 1097.2 L-238.8 1102.8 L-227.3 1108.3 L-215.7 1113.8 L-204.0 1119.2 L-192.4 1124.5 L-180.7 1129.8 L-168.9 1135.0 L-157.1 1140.1 L-145.2 1145.2 L-133.4 1150.3 L-121.4 1155.2 L-109.5 1160.1 L-97.5 1165.0 L-85.4 1169.7 L-73.3 1174.4 L-61.2 1179.1 L-49.1 1183.7 L-36.9 1188.2 L-24.6 1192.7 L-12.4 1197.1 L-0.1 1201.4 L12.3 1205.7 L24.7 1209.9 L37.1 1214.0 L49.5 1218.1 L62.0 1222.2 L74.5 1226.1 L87.0 1230.0 L99.6 1233.9 L112.2 1237.7 L124.8 1241.4 L137.5 1245.0 L150.1 1248.6 L162.9 1252.2 L175.6 1255.6 L188.4 1259.0 L201.2 1262.4 L214.0 1265.7 L226.8 1268.9 L239.7 1272.1 L252.6 1275.2 L265.5 1278.2 L278.5 1281.2 L291.5 1284.1 L304.5 1286.9 L317.5 1289.7 L330.5 1292.5 L343.6 1295.1 L356.7 1297.7 L369.8 1300.3 L382.9 1302.8 L396.0 1305.2 L409.2 1307.5 L422.4 1309.8 L435.6 1312.1 L448.8 1314.3 L462.0 1316.4 L475.3 1318.4 L488.5 1320.4 L501.8 1322.3 L515.1 1324.2 L528.4 1326.0 L541.7 1327.8 L555.1 1329.5 L568.4 1331.1 L581.8 1332.6 L595.2 1334.1 L608.5 1335.6 L621.9 1337.0 L635.3 1338.3 L648.8 1339.5 L662.2 1340.7 L675.6 1341.9 L689.1 1342.9 L702.5 1343.9 L716.0 1344.9 L729.5 1345.8 L742.9 1346.6 L756.4 1347.4 L769.9 1348.1 L783.4 1348.7 L796.9 1349.3 L810.4 1349.8 L823.9 1350.3 L837.4 1350.7 L850.9 1351.0 L864.4 1351.3 L877.9 1351.5 L891.5 1351.7 L905.0 1351.7 L918.5 1351.8 L932.0 1351.7 L945.5 1351.7 L959.0 1351.5 L972.6 1351.3 L986.1 1351.0 L999.6 1350.7 L1013.1 1350.3 L1026.6 1349.8 L1040.1 1349.3 L1053.6 1348.7 L1067.1 1348.1 L1080.6 1347.4 L1094.1 1346.6 L1107.5 1345.8 L1121.0 1344.9 L1134.5 1343.9 L1147.9 1342.9 L1161.4 1341.9 L1174.8 1340.7 L1188.2 1339.5 L1201.6 1338.3 L1215.1 1337.0 L1228.4 1335.6 L1241.8 1334.1 L1255.2 1332.6 L1268.6 1331.1 L1281.9 1329.5 L1295.3 1327.8 L1308.6 1326.0 L1321.9 1324.2 L1335.2 1322.3 L1348.5 1320.4 L1361.7 1318.4 L1375.0 1316.4 L1388.2 1314.3 L1401.4 1312.1 L1414.6 1309.8 L1427.8 1307.5 L1441.0 1305.2 L1454.1 1302.8 L1467.2 1300.3 L1480.3 1297.7 L1493.4 1295.1 L1506.5 1292.5 L1519.5 1289.7 L1532.5 1286.9 L1545.5 1284.1 L1558.5 1281.2 L1571.4 1278.2 L1584.4 1275.2 L1597.3 1272.1 L1610.1 1268.9 L1623.0 1265.7 L1635.8 1262.4 L1648.6 1259.0 L1661.4 1255.6 L1674.1 1252.2 L1686.8 1248.6 L1699.5 1245.0 L1712.2 1241.4 L1724.8 1237.7 L1737.4 1233.9 L1750.0 1230.0 L1762.5 1226.1 L1775.0 1222.2 L1787.5 1218.1 L1799.9 1214.0 L1812.3 1209.9 L1824.7 1205.7 L1837.0 1201.4 L1849.4 1197.1 L1861.6 1192.7 L1873.9 1188.2 L1886.0 1183.7 L1898.2 1179.1 L1910.3 1174.4 L1922.4 1169.7 L1934.5 1165.0 L1946.5 1160.1 L1958.4 1155.2 L1970.4 1150.3 L1982.2 1145.2 L1994.1 1140.1 L2005.9 1135.0 L2017.6 1129.8 L2029.4 1124.5 L2041.0 1119.2 L2052.7 1113.8 L2064.2 1108.3 L2075.8 1102.8 L2087.3 1097.2 L2098.7 1091.5 L2110.1 1085.8 L2121.5 1080.1 L2132.8 1074.2 L2144.0 1068.3 L2155.2 1062.4 L2166.4 1056.3 L2177.5 1050.2 L2188.5 1044.1 L2199.5 1037.9 L2210.5 1031.6 L2221.4 1025.2 L2232.2 1018.8 L2243.0 1012.4 L2253.8 1005.8 L2264.4 999.2 L2275.1 992.6 L2285.6 985.9 L2296.1 979.1 L2306.6 972.2 L2317.0 965.3 L2327.3 958.4 L2337.6 951.3 L2347.8 944.2 L2358.0 937.0 L2368.1 929.8 L2378.1 922.5 L2388.0 915.2 L2397.9 907.8 L2407.8 900.3 L2417.6 892.7 L2427.3 885.1 L2436.9 877.5 L2446.5 869.7 L2456.0 861.9 L2465.4 854.1 L2474.8 846.1 L2484.1 838.1 L2493.3 830.1 L2502.5 822.0 L2511.6 813.8 L2520.6 805.5 L2529.5 797.2 L2538.4 788.9 L2547.2 780.4 L2555.9 771.9 L2564.5 763.4 L2573.1 754.7 L2581.6 746.0"/>
<path d="M-627.3 602.6 L-619.6 610.9 L-611.8 619.1 L-604.0 627.3 L-596.1 635.5 L-588.2 643.6 L-580.1 651.6 L-572.0 659.6 L-563.8 667.5 L-555.6 675.3 L-547.2 683.1 L-538.8 690.8 L-530.4 698.5 L-521.8 706.1 L-513.2 713.7 L-504.5 721.2 L-495.8 728.6 L-487.0 736.0 L-478.1 743.3 L-469.2 750.6 L-460.2 757.7 L-451.1 764.9 L-442.0 772.0 L-432.8 779.0 L-423.5 785.9 L-414.2 792.8 L-404.8 799.7 L-395.4 806.5 L-385.9 813.2 L-376.3 819.8 L-366.7 826.4 L-357.0 833.0 L-347.3 839.4 L-337.5 845.9 L-327.7 852.2 L-317.8 858.5 L-307.8 864.8 L-297.8 870.9 L-287.8 877.1 L-277.7 883.1 L-267.5 889.1 L-257.3 895.1 L-247.0 901.0 L-236.7 906.8 L-226.3 912.5 L-215.9 918.2 L-205.5 923.9 L-195.0 929.5 L-184.4 935.0 L-173.8 940.4 L-163.1 945.8 L-152.4 951.2 L-141.7 956.5 L-130.9 961.7 L-120.1 966.9 L-109.2 972.0 L-98.3 977.0 L-87.3 982.0 L-76.3 986.9 L-65.3 991.8 L-54.2 996.6 L-43.1 1001.3 L-31.9 1006.0 L-20.7 1010.6 L-9.4 1015.2 L1.8 1019.7 L13.1 1024.1 L24.5 1028.5 L35.9 1032.8 L47.3 1037.1 L58.8 1041.3 L70.3 1045.5 L81.8 1049.5 L93.4 1053.6 L105.0 1057.5 L116.6 1061.4 L128.3 1065.3 L140.0 1069.1 L151.7 1072.8 L163.5 1076.5 L175.2 1080.1 L187.1 1083.6 L198.9 1087.1 L210.8 1090.5 L222.7 1093.9 L234.6 1097.2 L246.6 1100.4 L258.5 1103.6 L270.6 1106.8 L282.6 1109.8 L294.6 1112.8 L306.7 1115.8 L318.8 1118.7 L331.0 1121.5 L343.1 1124.3 L355.3 1127.0 L367.5 1129.6 L379.7 1132.2 L392.0 1134.8 L404.2 1137.2 L416.5 1139.6 L428.8 1142.0 L441.1 1144.3 L453.5 1146.5 L465.8 1148.7 L478.2 1150.8 L490.6 1152.9 L503.0 1154.9 L515.4 1156.8 L527.9 1158.7 L540.3 1160.5 L552.8 1162.2 L565.3 1163.9 L577.8 1165.6 L590.3 1167.1 L602.8 1168.7 L615.3 1170.1 L627.9 1171.5 L640.4 1172.9 L653.0 1174.1 L665.6 1175.4 L678.2 1176.5 L690.7 1177.6 L703.4 1178.7 L716.0 1179.6 L728.6 1180.6 L741.2 1181.4 L753.8 1182.2 L766.5 1183.0 L779.1 1183.7 L791.8 1184.3 L804.4 1184.9 L817.1 1185.4 L829.8 1185.8 L842.4 1186.2 L855.1 1186.5 L867.8 1186.8 L880.5 1187.0 L893.1 1187.1 L905.8 1187.2 L918.5 1187.3 L931.2 1187.2 L943.8 1187.1 L956.5 1187.0 L969.2 1186.8 L981.9 1186.5 L994.5 1186.2 L1007.2 1185.8 L1019.9 1185.4 L1032.5 1184.9 L1045.2 1184.3 L1057.9 1183.7 L1070.5 1183.0 L1083.1 1182.2 L1095.8 1181.4 L1108.4 1180.6 L1121.0 1179.6 L1133.6 1178.7 L1146.2 1177.6 L1158.8 1176.5 L1171.4 1175.4 L1184.0 1174.1 L1196.6 1172.9 L1209.1 1171.5 L1221.7 1170.1 L1234.2 1168.7 L1246.7 1167.1 L1259.2 1165.6 L1271.7 1163.9 L1284.2 1162.2 L1296.7 1160.5 L1309.1 1158.7 L1321.6 1156.8 L1334.0 1154.9 L1346.4 1152.9 L1358.8 1150.8 L1371.2 1148.7 L1383.5 1146.5 L1395.9 1144.3 L1408.2 1142.0 L1420.5 1139.6 L1432.8 1137.2 L1445.0 1134.8 L1457.3 1132.2 L1469.5 1129.6 L1481.7 1127.0 L1493.9 1124.3 L1506.0 1121.5 L1518.1 1118.7 L1530.3 1115.8 L1542.3 1112.8 L1554.4 1109.8 L1566.4 1106.8 L1578.4 1103.6 L1590.4 1100.4 L1602.4 1097.2 L1614.3 1093.9 L1626.2 1090.5 L1638.1 1087.1 L1649.9 1083.6 L1661.7 1080.1 L1673.5 1076.5 L1685.3 1072.8 L1697.0 1069.1 L1708.7 1065.3 L1720.4 1061.4 L1732.0 1057.5 L1743.6 1053.6 L1755.2 1049.5 L1766.7 1045.5 L1778.2 1041.3 L1789.7 1037.1 L1801.1 1032.8 L1812.5 1028.5 L1823.8 1024.1 L1835.2 1019.7 L1846.4 1015.2 L1857.7 1010.6 L1868.9 1006.0 L1880.0 1001.3 L1891.2 996.6 L1902.3 991.8 L1913.3 986.9 L1924.3 982.0 L1935.3 977.0 L1946.2 972.0 L1957.1 966.9 L1967.9 961.7 L1978.7 956.5 L1989.4 951.2 L2000.1 945.8 L2010.8 940.4 L2021.4 935.0 L2031.9 929.5 L2042.5 923.9 L2052.9 918.2 L2063.3 912.5 L2073.7 906.8 L2084.0 901.0 L2094.3 895.1 L2104.5 889.1 L2114.7 883.1 L2124.8 877.1 L2134.8 870.9 L2144.8 864.8 L2154.8 858.5 L2164.7 852.2 L2174.5 845.9 L2184.3 839.4 L2194.0 833.0 L2203.7 826.4 L2213.3 819.8 L2222.9 813.2 L2232.4 806.5 L2241.8 799.7 L2251.2 792.8 L2260.5 785.9 L2269.8 779.0 L2279.0 772.0 L2288.1 764.9 L2297.2 757.7 L2306.2 750.6 L2315.1 743.3 L2324.0 736.0 L2332.8 728.6 L2341.5 721.2 L2350.2 713.7 L2358.8 706.1 L2367.4 698.5 L2375.8 690.8 L2384.2 683.1 L2392.6 675.3 L2400.8 667.5 L2409.0 659.6 L2417.1 651.6 L2425.2 643.6 L2433.1 635.5 L2441.0 627.3 L2448.8 619.1 L2456.6 610.9 L2464.2 602.6"/>
<path d="M-501.6 466.3 L-494.8 474.1 L-487.9 481.9 L-480.9 489.7 L-473.8 497.4 L-466.7 505.0 L-459.5 512.6 L-452.2 520.1 L-444.9 527.6 L-437.5 535.1 L-430.0 542.4 L-422.5 549.8 L-414.9 557.0 L-407.2 564.2 L-399.4 571.4 L-391.6 578.5 L-383.7 585.5 L-375.8 592.5 L-367.8 599.5 L-359.7 606.4 L-351.6 613.2 L-343.4 620.0 L-335.1 626.7 L-326.8 633.3 L-318.4 639.9 L-309.9 646.5 L-301.4 653.0 L-292.9 659.4 L-284.3 665.8 L-275.6 672.2 L-266.8 678.4 L-258.0 684.7 L-249.2 690.8 L-240.3 696.9 L-231.3 703.0 L-222.3 709.0 L-213.3 714.9 L-204.1 720.8 L-195.0 726.6 L-185.7 732.4 L-176.5 738.1 L-167.1 743.8 L-157.8 749.4 L-148.3 754.9 L-138.9 760.4 L-129.3 765.9 L-119.8 771.3 L-110.1 776.6 L-100.5 781.8 L-90.8 787.1 L-81.0 792.2 L-71.2 797.3 L-61.4 802.4 L-51.5 807.3 L-41.5 812.3 L-31.6 817.1 L-21.5 822.0 L-11.5 826.7 L-1.4 831.4 L8.8 836.1 L18.9 840.7 L29.2 845.2 L39.4 849.7 L49.7 854.1 L60.1 858.5 L70.4 862.8 L80.9 867.0 L91.3 871.2 L101.8 875.3 L112.3 879.4 L122.9 883.4 L133.5 887.4 L144.1 891.3 L154.7 895.2 L165.4 899.0 L176.2 902.7 L186.9 906.4 L197.7 910.0 L208.5 913.6 L219.4 917.1 L230.2 920.5 L241.1 923.9 L252.1 927.3 L263.0 930.6 L274.0 933.8 L285.0 937.0 L296.1 940.1 L307.2 943.1 L318.3 946.1 L329.4 949.1 L340.5 952.0 L351.7 954.8 L362.9 957.6 L374.1 960.3 L385.3 962.9 L396.6 965.5 L407.9 968.1 L419.2 970.6 L430.5 973.0 L441.9 975.4 L453.2 977.7 L464.6 979.9 L476.0 982.1 L487.4 984.3 L498.9 986.4 L510.3 988.4 L521.8 990.4 L533.3 992.3 L544.8 994.1 L556.3 995.9 L567.9 997.7 L579.4 999.4 L591.0 1001.0 L602.6 1002.6 L614.2 1004.1 L625.8 1005.5 L637.4 1006.9 L649.0 1008.3 L660.6 1009.6 L672.3 1010.8 L683.9 1012.0 L695.6 1013.1 L707.3 1014.1 L719.0 1015.1 L730.7 1016.1 L742.4 1017.0 L754.1 1017.8 L765.8 1018.6 L777.5 1019.3 L789.2 1019.9 L801.0 1020.5 L812.7 1021.1 L824.5 1021.6 L836.2 1022.0 L848.0 1022.4 L859.7 1022.7 L871.5 1022.9 L883.2 1023.1 L895.0 1023.3 L906.7 1023.4 L918.5 1023.4 L930.3 1023.4 L942.0 1023.3 L953.8 1023.1 L965.5 1022.9 L977.3 1022.7 L989.0 1022.4 L1000.8 1022.0 L1012.5 1021.6 L1024.3 1021.1 L1036.0 1020.5 L1047.7 1019.9 L1059.5 1019.3 L1071.2 1018.6 L1082.9 1017.8 L1094.6 1017.0 L1106.3 1016.1 L1118.0 1015.1 L1129.7 1014.1 L1141.4 1013.1 L1153.0 1012.0 L1164.7 1010.8 L1176.3 1009.6 L1188.0 1008.3 L1199.6 1006.9 L1211.2 1005.5 L1222.8 1004.1 L1234.4 1002.6 L1246.0 1001.0 L1257.6 999.4 L1269.1 997.7 L1280.7 995.9 L1292.2 994.1 L1303.7 992.3 L1315.2 990.4 L1326.6 988.4 L1338.1 986.4 L1349.5 984.3 L1361.0 982.1 L1372.4 979.9 L1383.8 977.7 L1395.1 975.4 L1406.5 973.0 L1417.8 970.6 L1429.1 968.1 L1440.4 965.5 L1451.6 962.9 L1462.9 960.3 L1474.1 957.6 L1485.3 954.8 L1496.5 952.0 L1507.6 949.1 L1518.7 946.1 L1529.8 943.1 L1540.9 940.1 L1551.9 937.0 L1563.0 933.8 L1574.0 930.6 L1584.9 927.3 L1595.8 923.9 L1606.8 920.5 L1617.6 917.1 L1628.5 913.6 L1639.3 910.0 L1650.1 906.4 L1660.8 902.7 L1671.6 899.0 L1682.2 895.2 L1692.9 891.3 L1703.5 887.4 L1714.1 883.4 L1724.7 879.4 L1735.2 875.3 L1745.7 871.2 L1756.1 867.0 L1766.5 862.8 L1776.9 858.5 L1787.3 854.1 L1797.6 849.7 L1807.8 845.2 L1818.0 840.7 L1828.2 836.1 L1838.4 831.4 L1848.5 826.7 L1858.5 822.0 L1868.6 817.1 L1878.5 812.3 L1888.5 807.3 L1898.4 802.4 L1908.2 797.3 L1918.0 792.2 L1927.8 787.1 L1937.5 781.8 L1947.1 776.6 L1956.8 771.3 L1966.3 765.9 L1975.8 760.4 L1985.3 754.9 L1994.7 749.4 L2004.1 743.8 L2013.4 738.1 L2022.7 732.4 L2031.9 726.6 L2041.1 720.8 L2050.2 714.9 L2059.3 709.0 L2068.3 703.0 L2077.3 696.9 L2086.2 690.8 L2095.0 684.7 L2103.8 678.4 L2112.6 672.2 L2121.2 665.8 L2129.9 659.4 L2138.4 653.0 L2146.9 646.5 L2155.4 639.9 L2163.8 633.3 L2172.1 626.7 L2180.3 620.0 L2188.5 613.2 L2196.7 606.4 L2204.8 599.5 L2212.8 592.5 L2220.7 585.5 L2228.6 578.5 L2236.4 571.4 L2244.2 564.2 L2251.8 557.0 L2259.5 549.8 L2267.0 542.4 L2274.5 535.1 L2281.9 527.6 L2289.2 520.1 L2296.5 512.6 L2303.7 505.0 L2310.8 497.4 L2317.9 489.7 L2324.9 481.9 L2331.8 474.1 L2338.6 466.3"/>
<path d="M-368.1 337.6 L-362.2 344.9 L-356.1 352.2 L-350.0 359.4 L-343.8 366.5 L-337.5 373.6 L-331.2 380.7 L-324.7 387.7 L-318.3 394.7 L-311.7 401.6 L-305.1 408.5 L-298.4 415.3 L-291.7 422.1 L-284.9 428.8 L-278.0 435.5 L-271.1 442.1 L-264.1 448.7 L-257.0 455.2 L-249.9 461.7 L-242.7 468.1 L-235.5 474.5 L-228.2 480.8 L-220.8 487.1 L-213.4 493.3 L-205.9 499.5 L-198.4 505.6 L-190.8 511.7 L-183.1 517.7 L-175.4 523.7 L-167.6 529.6 L-159.8 535.5 L-151.9 541.3 L-144.0 547.1 L-136.0 552.8 L-128.0 558.5 L-119.9 564.1 L-111.7 569.7 L-103.6 575.2 L-95.3 580.7 L-87.0 586.1 L-78.7 591.5 L-70.3 596.8 L-61.8 602.1 L-53.4 607.3 L-44.8 612.4 L-36.2 617.5 L-27.6 622.6 L-18.9 627.6 L-10.2 632.5 L-1.4 637.4 L7.4 642.3 L16.2 647.1 L25.1 651.8 L34.1 656.5 L43.0 661.2 L52.1 665.7 L61.1 670.3 L70.2 674.8 L79.4 679.2 L88.6 683.6 L97.8 687.9 L107.1 692.2 L116.4 696.4 L125.7 700.5 L135.1 704.6 L144.5 708.7 L153.9 712.7 L163.4 716.7 L172.9 720.6 L182.5 724.4 L192.1 728.2 L201.7 731.9 L211.3 735.6 L221.0 739.3 L230.7 742.8 L240.5 746.4 L250.3 749.8 L260.1 753.3 L269.9 756.6 L279.8 759.9 L289.7 763.2 L299.6 766.4 L309.6 769.6 L319.6 772.7 L329.6 775.7 L339.6 778.7 L349.7 781.7 L359.8 784.5 L369.9 787.4 L380.0 790.1 L390.2 792.9 L400.4 795.5 L410.6 798.2 L420.8 800.7 L431.1 803.2 L441.3 805.7 L451.6 808.1 L462.0 810.5 L472.3 812.7 L482.6 815.0 L493.0 817.2 L503.4 819.3 L513.8 821.4 L524.3 823.4 L534.7 825.4 L545.2 827.3 L555.7 829.2 L566.2 831.0 L576.7 832.7 L587.2 834.4 L597.8 836.1 L608.3 837.7 L618.9 839.2 L629.5 840.7 L640.1 842.2 L650.7 843.5 L661.3 844.9 L671.9 846.1 L682.6 847.3 L693.2 848.5 L703.9 849.6 L714.6 850.7 L725.2 851.7 L735.9 852.6 L746.6 853.5 L757.3 854.4 L768.0 855.1 L778.8 855.9 L789.5 856.5 L800.2 857.2 L811.0 857.7 L821.7 858.2 L832.4 858.7 L843.2 859.1 L853.9 859.5 L864.7 859.8 L875.5 860.0 L886.2 860.2 L897.0 860.3 L907.7 860.4 L918.5 860.4 L929.3 860.4 L940.0 860.3 L950.8 860.2 L961.5 860.0 L972.3 859.8 L983.0 859.5 L993.8 859.1 L1004.5 858.7 L1015.3 858.2 L1026.0 857.7 L1036.8 857.2 L1047.5 856.5 L1058.2 855.9 L1068.9 855.1 L1079.7 854.4 L1090.4 853.5 L1101.1 852.6 L1111.7 851.7 L1122.4 850.7 L1133.1 849.6 L1143.8 848.5 L1154.4 847.3 L1165.1 846.1 L1175.7 844.9 L1186.3 843.5 L1196.9 842.2 L1207.5 840.7 L1218.1 839.2 L1228.7 837.7 L1239.2 836.1 L1249.8 834.4 L1260.3 832.7 L1270.8 831.0 L1281.3 829.2 L1291.8 827.3 L1302.3 825.4 L1312.7 823.4 L1323.2 821.4 L1333.6 819.3 L1344.0 817.2 L1354.3 815.0 L1364.7 812.7 L1375.0 810.5 L1385.4 808.1 L1395.7 805.7 L1405.9 803.2 L1416.2 800.7 L1426.4 798.2 L1436.6 795.5 L1446.8 792.9 L1457.0 790.1 L1467.1 787.4 L1477.2 784.5 L1487.3 781.7 L1497.4 778.7 L1507.4 775.7 L1517.4 772.7 L1527.4 769.6 L1537.4 766.4 L1547.3 763.2 L1557.2 759.9 L1567.1 756.6 L1576.9 753.3 L1586.7 749.8 L1596.5 746.4 L1606.2 742.8 L1616.0 739.3 L1625.6 735.6 L1635.3 731.9 L1644.9 728.2 L1654.5 724.4 L1664.1 720.6 L1673.6 716.7 L1683.1 712.7 L1692.5 708.7 L1701.9 704.6 L1711.3 700.5 L1720.6 696.4 L1729.9 692.2 L1739.2 687.9 L1748.4 683.6 L1757.6 679.2 L1766.8 674.8 L1775.9 670.3 L1784.9 665.7 L1793.9 661.2 L1802.9 656.5 L1811.9 651.8 L1820.8 647.1 L1829.6 642.3 L1838.4 637.4 L1847.2 632.5 L1855.9 627.6 L1864.6 622.6 L1873.2 617.5 L1881.8 612.4 L1890.3 607.3 L1898.8 602.1 L1907.3 596.8 L1915.7 591.5 L1924.0 586.1 L1932.3 580.7 L1940.5 575.2 L1948.7 569.7 L1956.9 564.1 L1965.0 558.5 L1973.0 552.8 L1981.0 547.1 L1988.9 541.3 L1996.8 535.5 L2004.6 529.6 L2012.4 523.7 L2020.1 517.7 L2027.7 511.7 L2035.3 505.6 L2042.9 499.5 L2050.4 493.3 L2057.8 487.1 L2065.2 480.8 L2072.5 474.5 L2079.7 468.1 L2086.9 461.7 L2094.0 455.2 L2101.1 448.7 L2108.1 442.1 L2115.0 435.5 L2121.9 428.8 L2128.7 422.1 L2135.4 415.3 L2142.1 408.5 L2148.7 401.6 L2155.3 394.7 L2161.7 387.7 L2168.1 380.7 L2174.5 373.6 L2180.8 366.5 L2187.0 359.4 L2193.1 352.2 L2199.1 344.9 L2205.1 337.6"/>
<path d="M-227.4 216.9 L-222.3 223.6 L-217.0 230.2 L-211.8 236.8 L-206.4 243.3 L-201.0 249.8 L-195.5 256.2 L-190.0 262.6 L-184.4 269.0 L-178.7 275.3 L-173.0 281.6 L-167.2 287.9 L-161.3 294.0 L-155.4 300.2 L-149.4 306.3 L-143.4 312.4 L-137.3 318.4 L-131.1 324.4 L-124.9 330.3 L-118.6 336.2 L-112.3 342.1 L-105.9 347.9 L-99.4 353.6 L-92.9 359.3 L-86.4 365.0 L-79.8 370.6 L-73.1 376.2 L-66.4 381.8 L-59.6 387.3 L-52.8 392.7 L-45.9 398.1 L-39.0 403.5 L-32.0 408.8 L-25.0 414.0 L-17.9 419.3 L-10.8 424.4 L-3.6 429.6 L3.6 434.7 L10.9 439.7 L18.2 444.7 L25.6 449.6 L33.0 454.5 L40.5 459.4 L48.0 464.2 L55.6 468.9 L63.2 473.6 L70.8 478.3 L78.5 482.9 L86.2 487.5 L94.0 492.0 L101.8 496.5 L109.7 500.9 L117.6 505.3 L125.5 509.6 L133.5 513.9 L141.5 518.2 L149.6 522.3 L157.7 526.5 L165.8 530.6 L174.0 534.6 L182.2 538.6 L190.5 542.6 L198.7 546.5 L207.1 550.3 L215.4 554.1 L223.8 557.9 L232.2 561.6 L240.7 565.3 L249.2 568.9 L257.7 572.4 L266.3 575.9 L274.9 579.4 L283.5 582.8 L292.1 586.2 L300.8 589.5 L309.5 592.8 L318.3 596.0 L327.1 599.2 L335.9 602.3 L344.7 605.4 L353.5 608.4 L362.4 611.4 L371.3 614.3 L380.3 617.2 L389.2 620.0 L398.2 622.8 L407.3 625.5 L416.3 628.2 L425.4 630.8 L434.4 633.4 L443.6 635.9 L452.7 638.4 L461.8 640.8 L471.0 643.2 L480.2 645.6 L489.4 647.8 L498.7 650.1 L507.9 652.3 L517.2 654.4 L526.5 656.5 L535.8 658.5 L545.2 660.5 L554.5 662.4 L563.9 664.3 L573.3 666.1 L582.7 667.9 L592.1 669.7 L601.5 671.3 L611.0 673.0 L620.4 674.6 L629.9 676.1 L639.4 677.6 L648.9 679.0 L658.4 680.4 L668.0 681.7 L677.5 683.0 L687.1 684.2 L696.6 685.4 L706.2 686.6 L715.8 687.6 L725.4 688.7 L735.0 689.7 L744.6 690.6 L754.2 691.5 L763.8 692.3 L773.4 693.1 L783.1 693.8 L792.7 694.5 L802.4 695.1 L812.0 695.7 L821.7 696.2 L831.4 696.7 L841.0 697.1 L850.7 697.5 L860.4 697.8 L870.1 698.1 L879.8 698.3 L889.4 698.5 L899.1 698.6 L908.8 698.7 L918.5 698.7 L928.2 698.7 L937.9 698.6 L947.6 698.5 L957.2 698.3 L966.9 698.1 L976.6 697.8 L986.3 697.5 L995.9 697.1 L1005.6 696.7 L1015.3 696.2 L1024.9 695.7 L1034.6 695.1 L1044.3 694.5 L1053.9 693.8 L1063.5 693.1 L1073.2 692.3 L1082.8 691.5 L1092.4 690.6 L1102.0 689.7 L1111.6 688.7 L1121.2 687.6 L1130.8 686.6 L1140.4 685.4 L1149.9 684.2 L1159.5 683.0 L1169.0 681.7 L1178.6 680.4 L1188.1 679.0 L1197.6 677.6 L1207.1 676.1 L1216.5 674.6 L1226.0 673.0 L1235.5 671.3 L1244.9 669.7 L1254.3 667.9 L1263.7 666.1 L1273.1 664.3 L1282.5 662.4 L1291.8 660.5 L1301.2 658.5 L1310.5 656.5 L1319.8 654.4 L1329.0 652.3 L1338.3 650.1 L1347.5 647.8 L1356.8 645.6 L1366.0 643.2 L1375.1 640.8 L1384.3 638.4 L1393.4 635.9 L1402.5 633.4 L1411.6 630.8 L1420.7 628.2 L1429.7 625.5 L1438.7 622.8 L1447.7 620.0 L1456.7 617.2 L1465.6 614.3 L1474.6 611.4 L1483.4 608.4 L1492.3 605.4 L1501.1 602.3 L1509.9 599.2 L1518.7 596.0 L1527.4 592.8 L1536.2 589.5 L1544.8 586.2 L1553.5 582.8 L1562.1 579.4 L1570.7 575.9 L1579.3 572.4 L1587.8 568.9 L1596.3 565.3 L1604.8 561.6 L1613.2 557.9 L1621.6 554.1 L1629.9 550.3 L1638.2 546.5 L1646.5 542.6 L1654.8 538.6 L1663.0 534.6 L1671.2 530.6 L1679.3 526.5 L1687.4 522.3 L1695.5 518.2 L1703.5 513.9 L1711.5 509.6 L1719.4 505.3 L1727.3 500.9 L1735.2 496.5 L1743.0 492.0 L1750.8 487.5 L1758.5 482.9 L1766.2 478.3 L1773.8 473.6 L1781.4 468.9 L1789.0 464.2 L1796.5 459.4 L1803.9 454.5 L1811.4 449.6 L1818.7 444.7 L1826.1 439.7 L1833.3 434.7 L1840.6 429.6 L1847.8 424.4 L1854.9 419.3 L1862.0 414.0 L1869.0 408.8 L1876.0 403.5 L1882.9 398.1 L1889.8 392.7 L1896.6 387.3 L1903.4 381.8 L1910.1 376.2 L1916.8 370.6 L1923.4 365.0 L1929.9 359.3 L1936.4 353.6 L1942.9 347.9 L1949.3 342.1 L1955.6 336.2 L1961.9 330.3 L1968.1 324.4 L1974.2 318.4 L1980.3 312.4 L1986.4 306.3 L1992.4 300.2 L1998.3 294.0 L2004.1 287.9 L2009.9 281.6 L2015.7 275.3 L2021.3 269.0 L2027.0 262.6 L2032.5 256.2 L2038.0 249.8 L2043.4 243.3 L2048.7 236.8 L2054.0 230.2 L2059.2 223.6 L2064.4 216.9"/>
<path d="M-79.9 104.6 L-75.6 110.5 L-71.2 116.4 L-66.7 122.3 L-62.2 128.1 L-57.7 133.9 L-53.1 139.6 L-48.4 145.3 L-43.6 151.0 L-38.8 156.7 L-34.0 162.3 L-29.1 167.9 L-24.1 173.4 L-19.1 178.9 L-14.0 184.4 L-8.8 189.8 L-3.7 195.2 L1.6 200.5 L6.9 205.8 L12.2 211.1 L17.7 216.4 L23.1 221.6 L28.6 226.7 L34.2 231.8 L39.8 236.9 L45.5 242.0 L51.2 247.0 L56.9 252.0 L62.8 256.9 L68.6 261.8 L74.5 266.6 L80.5 271.4 L86.5 276.2 L92.5 281.0 L98.6 285.6 L104.8 290.3 L111.0 294.9 L117.2 299.5 L123.5 304.0 L129.8 308.5 L136.2 313.0 L142.6 317.4 L149.0 321.7 L155.5 326.1 L162.1 330.4 L168.7 334.6 L175.3 338.8 L181.9 343.0 L188.7 347.1 L195.4 351.2 L202.2 355.2 L209.0 359.2 L215.9 363.2 L222.8 367.1 L229.7 371.0 L236.7 374.8 L243.7 378.6 L250.7 382.3 L257.8 386.0 L264.9 389.7 L272.1 393.3 L279.2 396.9 L286.5 400.4 L293.7 403.9 L301.0 407.3 L308.3 410.7 L315.7 414.1 L323.1 417.4 L330.5 420.7 L337.9 423.9 L345.4 427.1 L352.9 430.2 L360.4 433.3 L368.0 436.4 L375.6 439.4 L383.2 442.3 L390.8 445.2 L398.5 448.1 L406.2 451.0 L414.0 453.7 L421.7 456.5 L429.5 459.2 L437.3 461.8 L445.1 464.4 L453.0 467.0 L460.9 469.5 L468.8 472.0 L476.7 474.4 L484.6 476.8 L492.6 479.2 L500.6 481.5 L508.6 483.7 L516.7 485.9 L524.7 488.1 L532.8 490.2 L540.9 492.3 L549.0 494.3 L557.1 496.3 L565.3 498.2 L573.4 500.1 L581.6 502.0 L589.8 503.8 L598.1 505.6 L606.3 507.3 L614.5 508.9 L622.8 510.6 L631.1 512.1 L639.4 513.7 L647.7 515.2 L656.0 516.6 L664.4 518.0 L672.7 519.3 L681.1 520.6 L689.4 521.9 L697.8 523.1 L706.2 524.3 L714.6 525.4 L723.1 526.5 L731.5 527.5 L739.9 528.5 L748.4 529.4 L756.8 530.3 L765.3 531.2 L773.8 532.0 L782.2 532.7 L790.7 533.4 L799.2 534.1 L807.7 534.7 L816.2 535.3 L824.7 535.8 L833.2 536.3 L841.7 536.7 L850.3 537.1 L858.8 537.5 L867.3 537.8 L875.8 538.0 L884.4 538.2 L892.9 538.4 L901.4 538.5 L910.0 538.6 L918.5 538.6 L927.0 538.6 L935.6 538.5 L944.1 538.4 L952.6 538.2 L961.2 538.0 L969.7 537.8 L978.2 537.5 L986.7 537.1 L995.3 536.7 L1003.8 536.3 L1012.3 535.8 L1020.8 535.3 L1029.3 534.7 L1037.8 534.1 L1046.3 533.4 L1054.8 532.7 L1063.2 532.0 L1071.7 531.2 L1080.2 530.3 L1088.6 529.4 L1097.1 528.5 L1105.5 527.5 L1113.9 526.5 L1122.3 525.4 L1130.8 524.3 L1139.2 523.1 L1147.5 521.9 L1155.9 520.6 L1164.3 519.3 L1172.6 518.0 L1181.0 516.6 L1189.3 515.2 L1197.6 513.7 L1205.9 512.1 L1214.2 510.6 L1222.4 508.9 L1230.7 507.3 L1238.9 505.6 L1247.1 503.8 L1255.4 502.0 L1263.5 500.1 L1271.7 498.2 L1279.9 496.3 L1288.0 494.3 L1296.1 492.3 L1304.2 490.2 L1312.3 488.1 L1320.3 485.9 L1328.4 483.7 L1336.4 481.5 L1344.4 479.2 L1352.3 476.8 L1360.3 474.4 L1368.2 472.0 L1376.1 469.5 L1384.0 467.0 L1391.9 464.4 L1399.7 461.8 L1407.5 459.2 L1415.3 456.5 L1423.0 453.7 L1430.8 451.0 L1438.5 448.1 L1446.1 445.2 L1453.8 442.3 L1461.4 439.4 L1469.0 436.4 L1476.6 433.3 L1484.1 430.2 L1491.6 427.1 L1499.1 423.9 L1506.5 420.7 L1513.9 417.4 L1521.3 414.1 L1528.7 410.7 L1536.0 407.3 L1543.3 403.9 L1550.5 400.4 L1557.7 396.9 L1564.9 393.3 L1572.1 389.7 L1579.2 386.0 L1586.3 382.3 L1593.3 378.6 L1600.3 374.8 L1607.3 371.0 L1614.2 367.1 L1621.1 363.2 L1628.0 359.2 L1634.8 355.2 L1641.6 351.2 L1648.3 347.1 L1655.0 343.0 L1661.7 338.8 L1668.3 334.6 L1674.9 330.4 L1681.4 326.1 L1687.9 321.7 L1694.4 317.4 L1700.8 313.0 L1707.2 308.5 L1713.5 304.0 L1719.8 299.5 L1726.0 294.9 L1732.2 290.3 L1738.4 285.6 L1744.4 281.0 L1750.5 276.2 L1756.5 271.4 L1762.5 266.6 L1768.4 261.8 L1774.2 256.9 L1780.0 252.0 L1785.8 247.0 L1791.5 242.0 L1797.2 236.9 L1802.8 231.8 L1808.4 226.7 L1813.9 221.6 L1819.3 216.4 L1824.7 211.1 L1830.1 205.8 L1835.4 200.5 L1840.6 195.2 L1845.8 189.8 L1851.0 184.4 L1856.0 178.9 L1861.1 173.4 L1866.0 167.9 L1871.0 162.3 L1875.8 156.7 L1880.6 151.0 L1885.4 145.3 L1890.0 139.6 L1894.7 133.9 L1899.2 128.1 L1903.7 122.3 L1908.2 116.4 L1912.6 110.5 L1916.9 104.6"/>
<path d="M73.9 1.0 L77.4 6.1 L81.0 11.2 L84.6 16.3 L88.2 21.3 L92.0 26.3 L95.8 31.3 L99.6 36.2 L103.5 41.1 L107.4 46.0 L111.4 50.9 L115.4 55.7 L119.5 60.5 L123.6 65.3 L127.8 70.0 L132.1 74.7 L136.4 79.4 L140.7 84.0 L145.1 88.6 L149.5 93.2 L154.0 97.8 L158.5 102.3 L163.1 106.8 L167.7 111.2 L172.3 115.7 L177.0 120.0 L181.8 124.4 L186.6 128.7 L191.4 133.0 L196.3 137.3 L201.2 141.5 L206.2 145.7 L211.2 149.9 L216.3 154.0 L221.4 158.1 L226.5 162.2 L231.7 166.2 L236.9 170.2 L242.1 174.1 L247.4 178.1 L252.8 181.9 L258.2 185.8 L263.6 189.6 L269.0 193.4 L274.5 197.2 L280.0 200.9 L285.6 204.5 L291.2 208.2 L296.9 211.8 L302.5 215.4 L308.2 218.9 L314.0 222.4 L319.8 225.9 L325.6 229.3 L331.4 232.7 L337.3 236.0 L343.2 239.4 L349.2 242.7 L355.2 245.9 L361.2 249.1 L367.2 252.3 L373.3 255.4 L379.4 258.5 L385.5 261.6 L391.7 264.6 L397.9 267.6 L404.1 270.5 L410.4 273.4 L416.7 276.3 L423.0 279.2 L429.3 282.0 L435.7 284.7 L442.1 287.4 L448.5 290.1 L454.9 292.8 L461.4 295.4 L467.9 297.9 L474.4 300.5 L481.0 303.0 L487.5 305.4 L494.1 307.8 L500.7 310.2 L507.4 312.6 L514.0 314.9 L520.7 317.1 L527.4 319.3 L534.2 321.5 L540.9 323.7 L547.7 325.8 L554.5 327.8 L561.3 329.9 L568.1 331.9 L575.0 333.8 L581.8 335.7 L588.7 337.6 L595.6 339.4 L602.5 341.2 L609.5 343.0 L616.4 344.7 L623.4 346.3 L630.4 348.0 L637.4 349.6 L644.4 351.1 L651.4 352.6 L658.5 354.1 L665.6 355.5 L672.6 356.9 L679.7 358.3 L686.8 359.6 L693.9 360.9 L701.1 362.1 L708.2 363.3 L715.3 364.4 L722.5 365.6 L729.7 366.6 L736.9 367.7 L744.0 368.7 L751.2 369.6 L758.4 370.5 L765.7 371.4 L772.9 372.2 L780.1 373.0 L787.4 373.8 L794.6 374.5 L801.9 375.1 L809.1 375.8 L816.4 376.4 L823.7 376.9 L830.9 377.4 L838.2 377.9 L845.5 378.3 L852.8 378.7 L860.1 379.0 L867.4 379.3 L874.7 379.6 L882.0 379.8 L889.3 380.0 L896.6 380.1 L903.9 380.2 L911.2 380.3 L918.5 380.3 L925.8 380.3 L933.1 380.2 L940.4 380.1 L947.7 380.0 L955.0 379.8 L962.3 379.6 L969.6 379.3 L976.9 379.0 L984.2 378.7 L991.5 378.3 L998.8 377.9 L1006.1 377.4 L1013.3 376.9 L1020.6 376.4 L1027.9 375.8 L1035.1 375.1 L1042.4 374.5 L1049.6 373.8 L1056.9 373.0 L1064.1 372.2 L1071.3 371.4 L1078.5 370.5 L1085.7 369.6 L1092.9 368.7 L1100.1 367.7 L1107.3 366.6 L1114.5 365.6 L1121.6 364.4 L1128.8 363.3 L1135.9 362.1 L1143.1 360.9 L1150.2 359.6 L1157.3 358.3 L1164.4 356.9 L1171.4 355.5 L1178.5 354.1 L1185.5 352.6 L1192.6 351.1 L1199.6 349.6 L1206.6 348.0 L1213.6 346.3 L1220.6 344.7 L1227.5 343.0 L1234.4 341.2 L1241.4 339.4 L1248.3 337.6 L1255.2 335.7 L1262.0 333.8 L1268.9 331.9 L1275.7 329.9 L1282.5 327.8 L1289.3 325.8 L1296.1 323.7 L1302.8 321.5 L1309.5 319.3 L1316.3 317.1 L1322.9 314.9 L1329.6 312.6 L1336.2 310.2 L1342.9 307.8 L1349.5 305.4 L1356.0 303.0 L1362.6 300.5 L1369.1 297.9 L1375.6 295.4 L1382.1 292.8 L1388.5 290.1 L1394.9 287.4 L1401.3 284.7 L1407.7 282.0 L1414.0 279.2 L1420.3 276.3 L1426.6 273.4 L1432.9 270.5 L1439.1 267.6 L1445.3 264.6 L1451.5 261.6 L1457.6 258.5 L1463.7 255.4 L1469.8 252.3 L1475.8 249.1 L1481.8 245.9 L1487.8 242.7 L1493.8 239.4 L1499.7 236.0 L1505.6 232.7 L1511.4 229.3 L1517.2 225.9 L1523.0 222.4 L1528.8 218.9 L1534.5 215.4 L1540.1 211.8 L1545.8 208.2 L1551.4 204.5 L1556.9 200.9 L1562.5 197.2 L1568.0 193.4 L1573.4 189.6 L1578.8 185.8 L1584.2 181.9 L1589.5 178.1 L1594.8 174.1 L1600.1 170.2 L1605.3 166.2 L1610.5 162.2 L1615.6 158.1 L1620.7 154.0 L1625.8 149.9 L1630.8 145.7 L1635.8 141.5 L1640.7 137.3 L1645.6 133.0 L1650.4 128.7 L1655.2 124.4 L1660.0 120.0 L1664.7 115.7 L1669.3 111.2 L1673.9 106.8 L1678.5 102.3 L1683.0 97.8 L1687.5 93.2 L1691.9 88.6 L1696.3 84.0 L1700.6 79.4 L1704.9 74.7 L1709.2 70.0 L1713.3 65.3 L1717.5 60.5 L1721.6 55.7 L1725.6 50.9 L1729.6 46.0 L1733.5 41.1 L1737.4 36.2 L1741.2 31.3 L1745.0 26.3 L1748.7 21.3 L1752.4 16.3 L1756.0 11.2 L1759.6 6.1 L1763.1 1.0"/>
<path d="M233.4 -93.5 L236.1 -89.2 L238.9 -85.0 L241.7 -80.8 L244.6 -76.7 L247.5 -72.6 L250.4 -68.4 L253.4 -64.3 L256.5 -60.3 L259.6 -56.2 L262.7 -52.2 L265.9 -48.2 L269.1 -44.2 L272.3 -40.3 L275.6 -36.3 L279.0 -32.4 L282.4 -28.5 L285.8 -24.7 L289.2 -20.8 L292.8 -17.0 L296.3 -13.3 L299.9 -9.5 L303.5 -5.8 L307.2 -2.0 L310.9 1.6 L314.6 5.3 L318.4 8.9 L322.2 12.5 L326.1 16.1 L330.0 19.7 L333.9 23.2 L337.9 26.7 L341.9 30.2 L345.9 33.6 L350.0 37.0 L354.1 40.4 L358.2 43.8 L362.4 47.1 L366.6 50.5 L370.9 53.7 L375.2 57.0 L379.5 60.2 L383.9 63.4 L388.2 66.6 L392.7 69.7 L397.1 72.8 L401.6 75.9 L406.1 79.0 L410.7 82.0 L415.2 85.0 L419.8 88.0 L424.5 90.9 L429.1 93.8 L433.8 96.7 L438.6 99.6 L443.3 102.4 L448.1 105.2 L452.9 107.9 L457.8 110.7 L462.6 113.4 L467.5 116.0 L472.5 118.7 L477.4 121.3 L482.4 123.8 L487.4 126.4 L492.4 128.9 L497.5 131.4 L502.6 133.8 L507.7 136.3 L512.8 138.7 L517.9 141.0 L523.1 143.3 L528.3 145.6 L533.5 147.9 L538.8 150.1 L544.1 152.3 L549.4 154.5 L554.7 156.6 L560.0 158.7 L565.4 160.8 L570.7 162.9 L576.1 164.9 L581.5 166.8 L587.0 168.8 L592.4 170.7 L597.9 172.6 L603.4 174.4 L608.9 176.2 L614.5 178.0 L620.0 179.8 L625.6 181.5 L631.1 183.2 L636.7 184.8 L642.4 186.4 L648.0 188.0 L653.6 189.5 L659.3 191.1 L665.0 192.5 L670.7 194.0 L676.4 195.4 L682.1 196.8 L687.8 198.1 L693.6 199.5 L699.3 200.7 L705.1 202.0 L710.9 203.2 L716.7 204.4 L722.5 205.5 L728.3 206.6 L734.2 207.7 L740.0 208.8 L745.9 209.8 L751.7 210.7 L757.6 211.7 L763.5 212.6 L769.4 213.5 L775.3 214.3 L781.2 215.1 L787.1 215.9 L793.0 216.6 L798.9 217.3 L804.9 218.0 L810.8 218.6 L816.8 219.2 L822.7 219.8 L828.7 220.3 L834.6 220.8 L840.6 221.3 L846.6 221.7 L852.6 222.1 L858.5 222.5 L864.5 222.8 L870.5 223.1 L876.5 223.4 L882.5 223.6 L888.5 223.8 L894.5 223.9 L900.5 224.1 L906.5 224.1 L912.5 224.2 L918.5 224.2 L924.5 224.2 L930.5 224.1 L936.5 224.1 L942.5 223.9 L948.5 223.8 L954.5 223.6 L960.5 223.4 L966.5 223.1 L972.5 222.8 L978.4 222.5 L984.4 222.1 L990.4 221.7 L996.4 221.3 L1002.4 220.8 L1008.3 220.3 L1014.3 219.8 L1020.2 219.2 L1026.2 218.6 L1032.1 218.0 L1038.1 217.3 L1044.0 216.6 L1049.9 215.9 L1055.8 215.1 L1061.7 214.3 L1067.6 213.5 L1073.5 212.6 L1079.4 211.7 L1085.3 210.7 L1091.1 209.8 L1097.0 208.8 L1102.8 207.7 L1108.7 206.6 L1114.5 205.5 L1120.3 204.4 L1126.1 203.2 L1131.9 202.0 L1137.6 200.7 L1143.4 199.5 L1149.2 198.1 L1154.9 196.8 L1160.6 195.4 L1166.3 194.0 L1172.0 192.5 L1177.7 191.1 L1183.3 189.5 L1189.0 188.0 L1194.6 186.4 L1200.2 184.8 L1205.8 183.2 L1211.4 181.5 L1217.0 179.8 L1222.5 178.0 L1228.1 176.2 L1233.6 174.4 L1239.1 172.6 L1244.5 170.7 L1250.0 168.8 L1255.4 166.8 L1260.9 164.9 L1266.3 162.9 L1271.6 160.8 L1277.0 158.7 L1282.3 156.6 L1287.6 154.5 L1292.9 152.3 L1298.2 150.1 L1303.4 147.9 L1308.7 145.6 L1313.9 143.3 L1319.0 141.0 L1324.2 138.7 L1329.3 136.3 L1334.4 133.8 L1339.5 131.4 L1344.6 128.9 L1349.6 126.4 L1354.6 123.8 L1359.6 121.3 L1364.5 118.7 L1369.5 116.0 L1374.3 113.4 L1379.2 110.7 L1384.1 107.9 L1388.9 105.2 L1393.7 102.4 L1398.4 99.6 L1403.1 96.7 L1407.8 93.8 L1412.5 90.9 L1417.1 88.0 L1421.8 85.0 L1426.3 82.0 L1430.9 79.0 L1435.4 75.9 L1439.9 72.8 L1444.3 69.7 L1448.7 66.6 L1453.1 63.4 L1457.5 60.2 L1461.8 57.0 L1466.1 53.7 L1470.3 50.5 L1474.6 47.1 L1478.7 43.8 L1482.9 40.4 L1487.0 37.0 L1491.1 33.6 L1495.1 30.2 L1499.1 26.7 L1503.1 23.2 L1507.0 19.7 L1510.9 16.1 L1514.8 12.5 L1518.6 8.9 L1522.4 5.3 L1526.1 1.6 L1529.8 -2.0 L1533.5 -5.8 L1537.1 -9.5 L1540.7 -13.3 L1544.2 -17.0 L1547.7 -20.8 L1551.2 -24.7 L1554.6 -28.5 L1558.0 -32.4 L1561.3 -36.3 L1564.6 -40.3 L1567.9 -44.2 L1571.1 -48.2 L1574.3 -52.2 L1577.4 -56.2 L1580.5 -60.3 L1583.5 -64.3 L1586.5 -68.4 L1589.5 -72.6 L1592.4 -76.7 L1595.3 -80.8 L1598.1 -85.0 L1600.9 -89.2 L1603.6 -93.5"/>
<path d="M398.1 -178.4 L400.1 -175.2 L402.1 -171.9 L404.2 -168.7 L406.3 -165.5 L408.4 -162.3 L410.5 -159.1 L412.7 -155.9 L415.0 -152.8 L417.2 -149.6 L419.5 -146.5 L421.8 -143.4 L424.2 -140.3 L426.6 -137.3 L429.0 -134.2 L431.5 -131.2 L434.0 -128.2 L436.5 -125.2 L439.1 -122.2 L441.7 -119.2 L444.3 -116.3 L446.9 -113.3 L449.6 -110.4 L452.4 -107.5 L455.1 -104.7 L457.9 -101.8 L460.7 -99.0 L463.5 -96.2 L466.4 -93.4 L469.3 -90.6 L472.3 -87.9 L475.2 -85.1 L478.2 -82.4 L481.2 -79.7 L484.3 -77.0 L487.4 -74.4 L490.5 -71.7 L493.6 -69.1 L496.8 -66.5 L500.0 -64.0 L503.2 -61.4 L506.4 -58.9 L509.7 -56.4 L513.0 -53.9 L516.3 -51.4 L519.7 -49.0 L523.1 -46.6 L526.5 -44.2 L529.9 -41.8 L533.3 -39.4 L536.8 -37.1 L540.3 -34.8 L543.9 -32.5 L547.4 -30.3 L551.0 -28.0 L554.6 -25.8 L558.2 -23.6 L561.9 -21.4 L565.5 -19.3 L569.2 -17.2 L572.9 -15.1 L576.7 -13.0 L580.4 -10.9 L584.2 -8.9 L588.0 -6.9 L591.8 -4.9 L595.7 -2.9 L599.5 -1.0 L603.4 0.9 L607.3 2.8 L611.2 4.6 L615.2 6.5 L619.1 8.3 L623.1 10.1 L627.1 11.8 L631.1 13.6 L635.2 15.3 L639.2 17.0 L643.3 18.6 L647.4 20.3 L651.5 21.9 L655.6 23.5 L659.8 25.1 L663.9 26.6 L668.1 28.1 L672.3 29.6 L676.5 31.0 L680.7 32.5 L684.9 33.9 L689.2 35.3 L693.4 36.6 L697.7 38.0 L702.0 39.3 L706.3 40.6 L710.6 41.8 L714.9 43.0 L719.3 44.2 L723.6 45.4 L728.0 46.6 L732.4 47.7 L736.7 48.8 L741.1 49.8 L745.6 50.9 L750.0 51.9 L754.4 52.9 L758.8 53.9 L763.3 54.8 L767.8 55.7 L772.2 56.6 L776.7 57.4 L781.2 58.3 L785.7 59.1 L790.2 59.9 L794.7 60.6 L799.2 61.3 L803.8 62.0 L808.3 62.7 L812.8 63.3 L817.4 63.9 L821.9 64.5 L826.5 65.1 L831.1 65.6 L835.6 66.1 L840.2 66.6 L844.8 67.1 L849.4 67.5 L854.0 67.9 L858.6 68.2 L863.1 68.6 L867.7 68.9 L872.4 69.2 L877.0 69.5 L881.6 69.7 L886.2 69.9 L890.8 70.1 L895.4 70.2 L900.0 70.3 L904.6 70.4 L909.3 70.5 L913.9 70.5 L918.5 70.6 L923.1 70.5 L927.7 70.5 L932.3 70.4 L937.0 70.3 L941.6 70.2 L946.2 70.1 L950.8 69.9 L955.4 69.7 L960.0 69.5 L964.6 69.2 L969.2 68.9 L973.8 68.6 L978.4 68.2 L983.0 67.9 L987.6 67.5 L992.2 67.1 L996.8 66.6 L1001.4 66.1 L1005.9 65.6 L1010.5 65.1 L1015.1 64.5 L1019.6 63.9 L1024.2 63.3 L1028.7 62.7 L1033.2 62.0 L1037.8 61.3 L1042.3 60.6 L1046.8 59.9 L1051.3 59.1 L1055.8 58.3 L1060.3 57.4 L1064.8 56.6 L1069.2 55.7 L1073.7 54.8 L1078.1 53.9 L1082.6 52.9 L1087.0 51.9 L1091.4 50.9 L1095.8 49.8 L1100.2 48.8 L1104.6 47.7 L1109.0 46.6 L1113.4 45.4 L1117.7 44.2 L1122.1 43.0 L1126.4 41.8 L1130.7 40.6 L1135.0 39.3 L1139.3 38.0 L1143.6 36.6 L1147.8 35.3 L1152.1 33.9 L1156.3 32.5 L1160.5 31.0 L1164.7 29.6 L1168.9 28.1 L1173.1 26.6 L1177.2 25.1 L1181.4 23.5 L1185.5 21.9 L1189.6 20.3 L1193.7 18.6 L1197.8 17.0 L1201.8 15.3 L1205.8 13.6 L1209.9 11.8 L1213.9 10.1 L1217.8 8.3 L1221.8 6.5 L1225.8 4.6 L1229.7 2.8 L1233.6 0.9 L1237.5 -1.0 L1241.3 -2.9 L1245.2 -4.9 L1249.0 -6.9 L1252.8 -8.9 L1256.6 -10.9 L1260.3 -13.0 L1264.1 -15.1 L1267.8 -17.2 L1271.5 -19.3 L1275.1 -21.4 L1278.8 -23.6 L1282.4 -25.8 L1286.0 -28.0 L1289.6 -30.3 L1293.1 -32.5 L1296.7 -34.8 L1300.2 -37.1 L1303.6 -39.4 L1307.1 -41.8 L1310.5 -44.2 L1313.9 -46.6 L1317.3 -49.0 L1320.7 -51.4 L1324.0 -53.9 L1327.3 -56.4 L1330.6 -58.9 L1333.8 -61.4 L1337.0 -64.0 L1340.2 -66.5 L1343.4 -69.1 L1346.5 -71.7 L1349.6 -74.4 L1352.7 -77.0 L1355.8 -79.7 L1358.8 -82.4 L1361.8 -85.1 L1364.7 -87.9 L1367.7 -90.6 L1370.6 -93.4 L1373.4 -96.2 L1376.3 -99.0 L1379.1 -101.8 L1381.9 -104.7 L1384.6 -107.5 L1387.4 -110.4 L1390.0 -113.3 L1392.7 -116.3 L1395.3 -119.2 L1397.9 -122.2 L1400.5 -125.2 L1403.0 -128.2 L1405.5 -131.2 L1408.0 -134.2 L1410.4 -137.3 L1412.8 -140.3 L1415.1 -143.4 L1417.5 -146.5 L1419.8 -149.6 L1422.0 -152.8 L1424.3 -155.9 L1426.4 -159.1 L1428.6 -162.3 L1430.7 -165.5 L1432.8 -168.7 L1434.9 -171.9 L1436.9 -175.2 L1438.8 -178.4"/>
<path d="M-182.7 1316.2 L-176.8 1300.0 L-170.9 1283.8 L-164.9 1267.7 L-158.9 1251.5 L-152.8 1235.4 L-146.7 1219.3 L-140.4 1203.3 L-134.2 1187.2 L-127.8 1171.2 L-121.4 1155.2 L-115.0 1139.2 L-108.4 1123.2 L-101.9 1107.3 L-95.2 1091.4 L-88.5 1075.5 L-81.8 1059.7 L-75.0 1043.8 L-68.1 1028.0 L-61.2 1012.3 L-54.2 996.5 L-47.1 980.8 L-40.0 965.1 L-32.8 949.4 L-25.6 933.8 L-18.3 918.2 L-11.0 902.6 L-3.6 887.0 L3.9 871.5 L11.4 856.0 L19.0 840.6 L26.6 825.1 L34.3 809.7 L42.1 794.4 L49.9 779.0 L57.7 763.7 L65.6 748.5 L73.6 733.3 L81.6 718.1 L89.7 702.9 L97.9 687.8 L106.1 672.7 L114.3 657.6 L122.6 642.6 L131.0 627.6 L139.4 612.7 L147.9 597.7 L156.4 582.9 L165.0 568.0 L173.6 553.2 L182.3 538.5 L191.0 523.8 L199.8 509.1 L208.7 494.4 L217.6 479.8 L226.6 465.3 L235.6 450.8 L244.6 436.3 L253.8 421.9 L262.9 407.5 L272.2 393.1 L281.5 378.8 L290.8 364.5 L300.2 350.3 L309.6 336.2 L319.1 322.0 L328.6 308.0 L338.2 293.9 L347.9 279.9 L357.6 266.0 L367.3 252.1 L377.1 238.2 L387.0 224.4 L396.9 210.7 L406.9 197.0 L416.9 183.3 L426.9 169.7 L437.1 156.2 L447.2 142.7 L457.4 129.2 L467.7 115.8 L478.0 102.5 L488.4 89.2 L498.8 75.9 L509.3 62.7 L519.8 49.6 L530.4 36.5 L541.0 23.5 L551.6 10.5 L562.4 -2.4 L573.1 -15.3 L583.9 -28.1 L594.8 -40.9 L605.7 -53.5 L616.7 -66.2 L627.7 -78.8 L638.8 -91.3 L649.9 -103.7 L661.0 -116.1 L672.2 -128.5 L683.5 -140.8"/>
<path d="M79.0 1404.1 L83.4 1387.8 L87.8 1371.5 L92.3 1355.2 L96.8 1338.9 L101.3 1322.6 L105.9 1306.3 L110.6 1290.0 L115.3 1273.8 L120.0 1257.6 L124.8 1241.3 L129.6 1225.1 L134.5 1208.9 L139.5 1192.8 L144.4 1176.6 L149.5 1160.5 L154.5 1144.3 L159.6 1128.2 L164.8 1112.1 L170.0 1096.1 L175.3 1080.0 L180.6 1064.0 L185.9 1047.9 L191.3 1031.9 L196.7 1015.9 L202.2 1000.0 L207.7 984.0 L213.3 968.1 L218.9 952.2 L224.6 936.3 L230.3 920.5 L236.0 904.6 L241.8 888.8 L247.6 873.0 L253.5 857.2 L259.5 841.5 L265.4 825.7 L271.4 810.0 L277.5 794.4 L283.6 778.7 L289.7 763.1 L295.9 747.5 L302.2 731.9 L308.4 716.3 L314.8 700.8 L321.1 685.3 L327.5 669.9 L334.0 654.4 L340.5 639.0 L347.0 623.6 L353.6 608.2 L360.2 592.9 L366.9 577.6 L373.6 562.3 L380.4 547.1 L387.2 531.9 L394.0 516.7 L400.9 501.6 L407.8 486.4 L414.8 471.4 L421.8 456.3 L428.9 441.3 L435.9 426.3 L443.1 411.3 L450.3 396.4 L457.5 381.5 L464.8 366.7 L472.1 351.9 L479.4 337.1 L486.8 322.3 L494.2 307.6 L501.7 293.0 L509.2 278.3 L516.8 263.7 L524.4 249.2 L532.0 234.7 L539.7 220.2 L547.4 205.7 L555.2 191.3 L563.0 177.0 L570.9 162.6 L578.8 148.3 L586.7 134.1 L594.7 119.9 L602.7 105.7 L610.7 91.6 L618.8 77.5 L627.0 63.5 L635.2 49.5 L643.4 35.6 L651.6 21.7 L659.9 7.8 L668.3 -6.0 L676.7 -19.8 L685.1 -33.5 L693.6 -47.2 L702.1 -60.8 L710.6 -74.4 L719.2 -88.0 L727.9 -101.4 L736.5 -114.9"/>
<path d="M352.4 1466.7 L355.3 1450.3 L358.3 1433.9 L361.2 1417.4 L364.2 1401.0 L367.3 1384.6 L370.3 1368.2 L373.4 1351.8 L376.5 1335.5 L379.7 1319.1 L382.9 1302.7 L386.1 1286.4 L389.4 1270.0 L392.7 1253.7 L396.0 1237.4 L399.3 1221.0 L402.7 1204.7 L406.1 1188.4 L409.5 1172.1 L413.0 1155.8 L416.5 1139.6 L420.1 1123.3 L423.6 1107.1 L427.2 1090.8 L430.8 1074.6 L434.5 1058.4 L438.2 1042.2 L441.9 1026.0 L445.7 1009.9 L449.4 993.7 L453.3 977.6 L457.1 961.4 L461.0 945.3 L464.9 929.2 L468.8 913.2 L472.8 897.1 L476.8 881.1 L480.8 865.0 L484.9 849.0 L488.9 833.0 L493.1 817.0 L497.2 801.1 L501.4 785.2 L505.6 769.2 L509.8 753.3 L514.1 737.4 L518.4 721.6 L522.7 705.7 L527.1 689.9 L531.5 674.1 L535.9 658.3 L540.3 642.6 L544.8 626.9 L549.3 611.1 L553.8 595.5 L558.4 579.8 L563.0 564.1 L567.6 548.5 L572.3 532.9 L577.0 517.4 L581.7 501.8 L586.4 486.3 L591.2 470.8 L596.0 455.3 L600.8 439.9 L605.7 424.4 L610.6 409.1 L615.5 393.7 L620.5 378.4 L625.5 363.0 L630.5 347.8 L635.5 332.5 L640.6 317.3 L645.7 302.1 L650.8 286.9 L656.0 271.8 L661.1 256.7 L666.4 241.6 L671.6 226.5 L676.9 211.5 L682.2 196.5 L687.5 181.6 L692.9 166.7 L698.3 151.8 L703.7 136.9 L709.1 122.1 L714.6 107.3 L720.1 92.6 L725.7 77.9 L731.2 63.2 L736.8 48.5 L742.5 33.9 L748.1 19.3 L753.8 4.8 L759.5 -9.7 L765.3 -24.2 L771.1 -38.6 L776.9 -53.0 L782.7 -67.4 L788.6 -81.7 L794.5 -96.0"/>
<path d="M633.6 1504.1 L635.0 1487.7 L636.5 1471.2 L637.9 1454.7 L639.4 1438.2 L641.0 1421.8 L642.5 1405.3 L644.0 1388.9 L645.6 1372.4 L647.2 1355.9 L648.8 1339.5 L650.4 1323.1 L652.0 1306.6 L653.6 1290.2 L655.3 1273.7 L657.0 1257.3 L658.7 1240.9 L660.4 1224.5 L662.1 1208.1 L663.8 1191.7 L665.6 1175.3 L667.3 1158.9 L669.1 1142.5 L670.9 1126.2 L672.7 1109.8 L674.6 1093.5 L676.4 1077.1 L678.3 1060.8 L680.2 1044.5 L682.1 1028.2 L684.0 1011.9 L685.9 995.6 L687.8 979.3 L689.8 963.0 L691.8 946.8 L693.7 930.5 L695.7 914.3 L697.8 898.1 L699.8 881.9 L701.8 865.7 L703.9 849.5 L706.0 833.3 L708.1 817.2 L710.2 801.0 L712.3 784.9 L714.5 768.8 L716.6 752.7 L718.8 736.6 L721.0 720.6 L723.2 704.5 L725.4 688.5 L727.6 672.5 L729.9 656.5 L732.1 640.5 L734.4 624.6 L736.7 608.6 L739.0 592.7 L741.3 576.8 L743.7 560.9 L746.0 545.1 L748.4 529.2 L750.8 513.4 L753.2 497.6 L755.6 481.8 L758.0 466.1 L760.5 450.4 L762.9 434.6 L765.4 418.9 L767.9 403.3 L770.4 387.6 L772.9 372.0 L775.5 356.4 L778.0 340.8 L780.6 325.3 L783.2 309.7 L785.8 294.2 L788.4 278.8 L791.0 263.3 L793.6 247.9 L796.3 232.5 L799.0 217.1 L801.7 201.7 L804.4 186.4 L807.1 171.1 L809.8 155.8 L812.6 140.6 L815.3 125.4 L818.1 110.2 L820.9 95.0 L823.7 79.9 L826.5 64.8 L829.4 49.8 L832.2 34.7 L835.1 19.7 L838.0 4.7 L840.9 -10.2 L843.8 -25.1 L846.8 -40.0 L849.7 -54.9 L852.7 -69.7 L855.6 -84.5"/>
<path d="M918.5 1516.6 L918.5 1500.1 L918.5 1483.6 L918.5 1467.1 L918.5 1450.6 L918.5 1434.2 L918.5 1417.7 L918.5 1401.2 L918.5 1384.7 L918.5 1368.2 L918.5 1351.7 L918.5 1335.3 L918.5 1318.8 L918.5 1302.3 L918.5 1285.9 L918.5 1269.4 L918.5 1253.0 L918.5 1236.5 L918.5 1220.1 L918.5 1203.6 L918.5 1187.2 L918.5 1170.8 L918.5 1154.4 L918.5 1137.9 L918.5 1121.5 L918.5 1105.1 L918.5 1088.8 L918.5 1072.4 L918.5 1056.0 L918.5 1039.6 L918.5 1023.3 L918.5 1006.9 L918.5 990.6 L918.5 974.3 L918.5 958.0 L918.5 941.7 L918.5 925.4 L918.5 909.1 L918.5 892.8 L918.5 876.6 L918.5 860.3 L918.5 844.1 L918.5 827.9 L918.5 811.6 L918.5 795.5 L918.5 779.3 L918.5 763.1 L918.5 747.0 L918.5 730.8 L918.5 714.7 L918.5 698.6 L918.5 682.5 L918.5 666.4 L918.5 650.4 L918.5 634.3 L918.5 618.3 L918.5 602.3 L918.5 586.3 L918.5 570.3 L918.5 554.4 L918.5 538.4 L918.5 522.5 L918.5 506.6 L918.5 490.7 L918.5 474.9 L918.5 459.0 L918.5 443.2 L918.5 427.4 L918.5 411.6 L918.5 395.8 L918.5 380.1 L918.5 364.4 L918.5 348.7 L918.5 333.0 L918.5 317.4 L918.5 301.7 L918.5 286.1 L918.5 270.6 L918.5 255.0 L918.5 239.5 L918.5 224.0 L918.5 208.5 L918.5 193.0 L918.5 177.6 L918.5 162.2 L918.5 146.8 L918.5 131.4 L918.5 116.1 L918.5 100.8 L918.5 85.5 L918.5 70.3 L918.5 55.1 L918.5 39.9 L918.5 24.7 L918.5 9.6 L918.5 -5.5 L918.5 -20.6 L918.5 -35.7 L918.5 -50.7 L918.5 -65.7 L918.5 -80.6"/>
<path d="M1203.4 1504.1 L1202.0 1487.7 L1200.5 1471.2 L1199.0 1454.7 L1197.5 1438.2 L1196.0 1421.8 L1194.5 1405.3 L1193.0 1388.9 L1191.4 1372.4 L1189.8 1355.9 L1188.2 1339.5 L1186.6 1323.1 L1185.0 1306.6 L1183.3 1290.2 L1181.7 1273.7 L1180.0 1257.3 L1178.3 1240.9 L1176.6 1224.5 L1174.9 1208.1 L1173.2 1191.7 L1171.4 1175.3 L1169.6 1158.9 L1167.9 1142.5 L1166.1 1126.2 L1164.2 1109.8 L1162.4 1093.5 L1160.6 1077.1 L1158.7 1060.8 L1156.8 1044.5 L1154.9 1028.2 L1153.0 1011.9 L1151.1 995.6 L1149.2 979.3 L1147.2 963.0 L1145.2 946.8 L1143.2 930.5 L1141.2 914.3 L1139.2 898.1 L1137.2 881.9 L1135.1 865.7 L1133.1 849.5 L1131.0 833.3 L1128.9 817.2 L1126.8 801.0 L1124.7 784.9 L1122.5 768.8 L1120.4 752.7 L1118.2 736.6 L1116.0 720.6 L1113.8 704.5 L1111.6 688.5 L1109.4 672.5 L1107.1 656.5 L1104.9 640.5 L1102.6 624.6 L1100.3 608.6 L1098.0 592.7 L1095.7 576.8 L1093.3 560.9 L1091.0 545.1 L1088.6 529.2 L1086.2 513.4 L1083.8 497.6 L1081.4 481.8 L1079.0 466.1 L1076.5 450.4 L1074.1 434.6 L1071.6 418.9 L1069.1 403.3 L1066.6 387.6 L1064.1 372.0 L1061.5 356.4 L1059.0 340.8 L1056.4 325.3 L1053.8 309.7 L1051.2 294.2 L1048.6 278.8 L1046.0 263.3 L1043.3 247.9 L1040.7 232.5 L1038.0 217.1 L1035.3 201.7 L1032.6 186.4 L1029.9 171.1 L1027.2 155.8 L1024.4 140.6 L1021.7 125.4 L1018.9 110.2 L1016.1 95.0 L1013.3 79.9 L1010.4 64.8 L1007.6 49.8 L1004.7 34.7 L1001.9 19.7 L999.0 4.7 L996.1 -10.2 L993.2 -25.1 L990.2 -40.0 L987.3 -54.9 L984.3 -69.7 L981.3 -84.5"/>
<path d="M1484.6 1466.7 L1481.6 1450.3 L1478.7 1433.9 L1475.7 1417.4 L1472.8 1401.0 L1469.7 1384.6 L1466.7 1368.2 L1463.6 1351.8 L1460.4 1335.5 L1457.3 1319.1 L1454.1 1302.7 L1450.9 1286.4 L1447.6 1270.0 L1444.3 1253.7 L1441.0 1237.4 L1437.7 1221.0 L1434.3 1204.7 L1430.9 1188.4 L1427.4 1172.1 L1424.0 1155.8 L1420.5 1139.6 L1416.9 1123.3 L1413.4 1107.1 L1409.8 1090.8 L1406.1 1074.6 L1402.5 1058.4 L1398.8 1042.2 L1395.1 1026.0 L1391.3 1009.9 L1387.5 993.7 L1383.7 977.6 L1379.9 961.4 L1376.0 945.3 L1372.1 929.2 L1368.2 913.2 L1364.2 897.1 L1360.2 881.1 L1356.2 865.0 L1352.1 849.0 L1348.0 833.0 L1343.9 817.0 L1339.8 801.1 L1335.6 785.2 L1331.4 769.2 L1327.2 753.3 L1322.9 737.4 L1318.6 721.6 L1314.3 705.7 L1309.9 689.9 L1305.5 674.1 L1301.1 658.3 L1296.7 642.6 L1292.2 626.9 L1287.7 611.1 L1283.1 595.5 L1278.6 579.8 L1274.0 564.1 L1269.4 548.5 L1264.7 532.9 L1260.0 517.4 L1255.3 501.8 L1250.6 486.3 L1245.8 470.8 L1241.0 455.3 L1236.1 439.9 L1231.3 424.4 L1226.4 409.1 L1221.5 393.7 L1216.5 378.4 L1211.5 363.0 L1206.5 347.8 L1201.5 332.5 L1196.4 317.3 L1191.3 302.1 L1186.2 286.9 L1181.0 271.8 L1175.8 256.7 L1170.6 241.6 L1165.4 226.5 L1160.1 211.5 L1154.8 196.5 L1149.5 181.6 L1144.1 166.7 L1138.7 151.8 L1133.3 136.9 L1127.8 122.1 L1122.4 107.3 L1116.8 92.6 L1111.3 77.9 L1105.7 63.2 L1100.1 48.5 L1094.5 33.9 L1088.9 19.3 L1083.2 4.8 L1077.5 -9.7 L1071.7 -24.2 L1065.9 -38.6 L1060.1 -53.0 L1054.3 -67.4 L1048.4 -81.7 L1042.5 -96.0"/>
</g>
<g fill="none" stroke="#000" stroke-width="0.75" stroke-linejoin="round" stroke-linecap="round">
<path d="M156.5 611.3 L158.9 610.4 L161.2 609.2 L163.6 608.2 L166.0 607.3 L168.7 607.7 L171.3 607.8 L173.9 608.0 L176.1 609.3 L177.7 611.3 L179.9 612.8 L181.6 614.8 L183.5 614.8 L185.4 613.1 L184.8 611.2 L183.4 609.1 L182.5 606.6 L181.0 604.5 L178.9 603.0 L177.0 601.2 L176.0 598.7 L175.0 596.7 L176.2 594.5 L177.4 592.7 L179.5 592.6 L181.6 592.7 L180.4 591.5 L179.4 589.3 L177.8 587.7 L175.3 587.1 L175.9 585.8 L178.2 584.5 L180.2 583.0 L181.0 580.8 L181.4 577.9 L183.9 576.7 L186.7 577.1 L188.8 578.3 L190.1 580.3 L192.4 581.9 L195.1 582.3 L197.6 582.8 L200.1 583.6 L202.6 584.4 L205.3 585.3 L206.8 587.6 L207.2 590.2 L210.0 590.1 L212.3 588.8 L214.7 587.8 L217.1 588.7 L219.7 589.0 L222.3 589.1 L224.9 589.4 L227.5 589.1 L230.1 588.5 L232.7 588.2 L235.3 588.5 L237.6 589.9 L239.9 591.1 L242.5 591.5 L245.1 591.4 L247.6 592.5 L250.0 593.5 L252.6 593.6 L255.2 594.4 L257.3 595.5 L258.8 595.7 L260.6 594.1 L262.7 592.5 L265.2 591.8 L267.6 591.1 L270.0 591.4 L272.3 592.8 L274.8 593.6 L277.5 593.6 L280.1 593.9 L282.7 594.3 L285.3 594.0 L287.9 594.0 L290.5 595.0 L293.0 595.7 L295.6 595.6 L298.3 595.3 L300.9 595.5 L303.4 595.7 L306.0 596.1 L308.6 597.0 L311.1 597.4 L313.8 597.3 L316.4 597.4 L319.1 597.5 L321.2 595.6 L323.1 593.8 L325.4 592.7 L328.1 592.7 L330.9 593.0 L333.3 591.4 L335.2 589.6 L337.7 588.7 L340.4 588.5 L342.5 590.1 L344.6 591.7 L347.0 592.6 L349.3 593.9 L351.1 595.8 L352.7 597.9 L354.3 599.8 L355.5 602.1 L357.6 603.0 L360.2 602.5 L362.8 602.7 L365.3 603.1 L367.9 603.1 L370.7 603.1 L371.6 605.2 L371.5 607.8 L371.7 610.4 L371.4 613.0 L370.3 615.4 L369.8 617.9 L370.2 620.3 L370.7 622.8 L371.7 625.2 L370.4 627.2 L368.7 629.1 L367.0 631.1 L365.2 632.9 L363.2 634.8 L362.7 637.3 L363.2 639.9 L364.5 641.5 L366.6 642.9 L368.8 644.2 L371.1 643.8 L373.6 643.2 L376.2 643.1 L378.2 641.8 L380.4 640.4 L383.2 639.5 L384.2 641.7 L384.9 644.2 L385.5 646.7 L385.1 649.4 L384.3 650.5 L386.3 650.1 L389.0 649.8 L391.2 651.4 L393.4 652.8 L395.5 654.5 L397.3 656.4 L399.1 658.0 L401.2 659.3 L403.6 660.6 L406.3 660.3 L408.4 658.9 L409.0 659.1 L407.9 661.4 L405.5 662.2 L403.4 663.9 L401.5 665.7 L398.9 666.4 L396.4 667.6 L396.1 670.3 L395.3 672.8 L396.7 674.3 L399.4 674.3 L401.9 674.3 L404.3 673.1 L406.7 672.1 L409.5 671.5 L411.3 673.7 L412.9 675.7 L414.4 677.8 L415.9 679.2 L417.5 677.3 L419.4 675.6 L421.3 674.1 L423.6 672.9 L426.1 672.3 L428.7 671.7 L431.3 671.4 L433.9 671.3 L436.5 670.5 L438.4 668.6 L440.3 666.4 L443.0 665.8 L445.7 666.2 L448.3 666.2 L450.9 666.1 L453.5 665.3 L455.9 664.4 L458.5 663.9 L460.9 662.7 L463.5 662.3 L466.1 662.6 L468.7 662.0 L471.3 661.9 L471.3 662.5 L470.5 664.9 L468.5 666.6 L465.9 667.3 L463.8 668.7 L462.2 670.3 L461.1 671.8 L461.4 674.4 L462.1 676.9 L463.1 679.4 L464.9 681.3 L466.8 683.2 L468.5 685.1 L469.8 687.4 L471.2 689.7 L472.8 691.7 L474.3 693.8 L476.0 695.8 L477.6 697.9 L478.9 700.1 L480.3 702.3 L481.5 704.6 L482.1 707.1 L482.8 709.6 L484.1 711.9 L485.5 714.2 L486.5 716.6 L487.0 719.2 L487.7 721.7 L488.7 724.1 L489.2 726.7 L489.6 729.3 L490.4 731.7 L491.1 734.2 L491.4 736.8 L492.0 739.4 L492.6 741.9 L492.7 744.5 L493.4 747.0 L494.5 749.5 L495.2 752.0 L495.4 754.6 L496.3 757.1 L496.9 759.6 L496.7 762.3 L496.9 764.9 L497.6 767.4 L498.1 770.0 L498.2 772.6 L498.8 775.1 L499.6 777.6 L500.1 780.2 L500.2 782.8 L500.2 785.4 L500.3 788.0 L500.5 790.6"/>
<path d="M500.5 790.6 L503.0 790.0 L505.3 788.6 L507.4 787.3 L509.1 785.4 L511.1 783.5 L512.7 781.6 L514.3 779.7 L516.5 777.9 L518.8 778.6 L520.5 780.7 L522.8 781.9 L523.9 784.3 L524.7 786.8 L525.5 789.3 L527.6 790.9 L529.3 792.8 L530.0 795.2 L531.3 797.7 L533.5 798.8 L535.9 800.0 L538.4 800.9 L541.1 801.2 L543.8 801.2 L546.3 801.7 L548.7 802.0 L551.0 800.8 L553.2 799.0 L555.8 798.2 L558.6 798.2 L561.2 797.9 L563.8 797.4 L566.4 797.3 L569.2 797.0 L571.6 798.5 L573.3 800.7 L575.3 802.4 L577.5 803.9 L579.6 805.5 L581.3 807.2 L581.7 809.9 L581.2 812.6 L582.3 815.2"/>
<path d="M790.0 837.1 L792.4 838.3 L795.0 838.5 L796.0 840.8 L797.1 843.2 L798.2 845.6 L798.1 848.3 L798.1 851.0 L798.9 853.5 L801.1 854.5 L803.7 855.1 L806.4 854.8 L809.0 854.6 L811.6 855.1 L814.2 855.9 L816.6 857.0 L819.2 857.4 L821.9 857.3 L824.4 858.3 L826.8 859.6 L829.5 859.3 L832.2 859.0 L834.7 859.7 L837.3 860.3 L839.9 860.2 L842.6 859.9 L845.2 860.2 L847.7 860.9 L850.4 861.0 L853.0 861.0 L855.5 862.2 L857.9 863.0 L860.6 863.1 L863.1 863.7 L865.5 863.6 L867.5 861.9 L869.6 860.3 L871.8 859.0 L873.5 857.2 L875.2 855.2 L876.8 853.1 L878.6 851.3 L880.2 849.2 L881.5 846.9 L881.7 844.2 L880.8 842.2 L879.9 839.8 L879.0 837.4 L878.0 835.0 L877.1 832.5 L876.1 830.0 L874.6 828.0 L874.2 825.6 L874.7 823.0 L874.4 820.7 L873.9 818.0 L874.2 815.3 L875.7 813.1 L877.1 810.8 L878.2 808.4 L880.0 806.4 L881.8 804.5 L884.0 803.0 L886.4 802.0 L888.7 800.6 L890.2 798.4 L891.3 796.0 L892.4 793.6 L893.7 791.2 L896.0 791.1 L898.4 792.1 L900.9 793.2 L903.1 794.6 L904.9 796.5 L907.2 797.6 L909.3 799.1 L911.5 800.7 L914.2 801.2 L916.9 800.9 L919.4 801.7 L921.8 803.1 L924.3 803.9 L926.8 804.6 L929.3 805.3 L931.9 805.6 L934.6 805.8 L937.3 805.9 L940.0 806.1 L942.3 807.4 L944.5 809.0 L947.0 809.9 L949.6 810.4 L952.1 810.8 L954.7 811.4 L957.2 812.1 L959.8 812.6 L962.6 813.1 L964.0 815.4 L964.2 818.1 L964.9 820.7 L965.2 823.2 L965.2 825.9 L965.7 828.4 L966.6 831.0 L968.0 833.2 L969.5 835.4 L970.5 837.9 L972.4 839.6 L974.5 841.1 L976.2 843.1 L978.2 844.8 L980.4 846.2 L982.5 847.8 L984.5 849.6 L987.0 850.7 L989.8 850.1 L992.4 850.0 L994.9 850.9 L997.5 851.7 L1000.1 851.6 L1002.7 851.8 L1005.3 851.9 L1007.6 851.1 L1010.0 850.4 L1012.6 850.0 L1015.1 849.4 L1017.4 848.1 L1019.6 846.7 L1021.9 845.5 L1024.3 844.4 L1026.7 843.4 L1029.1 842.2 L1031.5 841.1 L1034.2 841.8 L1036.7 842.6 L1039.3 843.1 L1041.9 843.5 L1044.5 843.7 L1047.1 843.8 L1049.7 844.1 L1052.3 844.2 L1054.9 843.8 L1057.5 843.4 L1060.1 843.8 L1062.5 845.0 L1064.6 845.9 L1066.6 847.3 L1068.4 849.2 L1069.9 851.4 L1072.3 852.6 L1074.7 853.7 L1077.3 853.9 L1080.0 853.1 L1082.7 853.3 L1085.2 854.6 L1087.1 856.5 L1089.1 858.2 L1090.6 860.4 L1091.4 863.1 L1093.2 865.0"/>
<path d="M1410.6 695.2 L1408.0 695.4 L1405.5 694.2 L1402.9 693.9 L1400.5 692.9 L1398.1 691.9 L1396.0 690.4 L1393.7 689.2 L1391.2 688.5 L1388.5 688.6 L1385.9 689.0 L1383.3 688.9 L1380.7 688.8 L1378.3 689.8 L1376.0 691.1 L1373.8 692.5 L1371.4 693.5 L1368.9 694.3 L1366.3 694.6 L1363.7 695.0 L1361.3 696.0 L1358.7 696.6 L1356.3 697.3 L1353.7 698.0 L1351.4 699.0 L1349.1 700.4 L1346.8 701.6 L1344.7 703.1 L1342.5 704.6 L1340.1 705.7 L1337.7 706.7 L1335.4 707.8 L1333.5 709.5 L1331.9 711.5 L1329.9 713.3 L1328.4 715.4 L1327.9 718.1 L1326.9 720.6 L1325.0 722.5 L1323.2 724.3 L1322.2 726.8 L1322.3 729.2 L1321.9 731.9 L1323.9 732.5 L1326.4 731.5 L1329.0 731.1 L1331.6 731.5 L1334.3 732.0 L1336.2 733.4 L1336.9 736.0 L1336.9 738.6 L1337.9 741.1 L1339.8 742.9 L1341.6 745.0 L1341.8 747.8 L1341.7 750.6 L1339.8 752.9 L1337.6 754.6 L1336.3 756.8 L1335.3 759.4 L1334.1 761.4 L1333.2 763.7 L1332.4 766.2 L1331.5 768.6 L1330.8 771.1 L1330.9 773.8 L1330.8 776.4 L1329.5 778.8 L1328.3 781.2 L1328.0 783.9 L1328.4 786.5 L1328.2 789.1 L1327.5 791.6 L1326.6 794.1 L1326.1 796.6 L1325.8 799.3 L1325.1 801.8 L1324.0 804.1 L1323.3 806.4 L1324.8 808.5 L1326.7 810.2 L1327.7 812.6 L1328.1 815.2 L1328.2 817.9 L1325.6 818.9 L1323.3 820.0 L1321.2 821.8 L1318.7 822.8 L1316.1 822.9 L1314.2 824.4 L1312.6 826.5 L1311.1 828.6 L1309.7 830.8 L1308.1 832.9 L1306.7 835.1 L1305.2 837.2 L1303.7 839.4 L1301.5 840.8 L1298.9 839.7 L1296.3 839.5 L1293.6 839.9 L1291.1 839.3 L1288.6 838.0 L1286.1 837.3 L1283.5 837.3 L1280.9 836.6 L1278.7 835.1 L1276.8 833.1 L1274.4 832.0 L1271.9 831.3 L1269.4 830.2 L1266.7 830.2 L1264.0 830.7 L1261.6 831.5 L1259.4 832.9 L1257.2 834.3 L1255.1 835.5 L1252.6 836.2 L1250.0 836.5 L1247.7 835.1 L1245.5 833.7 L1243.0 833.1 L1240.6 831.9 L1238.5 830.4 L1236.6 828.5 L1234.1 827.4 L1231.5 826.9 L1228.8 826.8 L1226.2 827.9 L1223.7 828.6 L1220.9 828.7 L1218.5 830.0 L1216.8 832.0 L1214.9 833.8 L1212.9 835.6 L1211.2 837.5 L1209.4 839.5 L1207.9 841.6 L1206.1 843.5 L1203.9 845.0 L1201.9 846.8 L1200.6 849.1 L1199.8 851.6 L1199.0 854.2 L1196.7 855.8 L1194.5 857.2 L1192.0 858.0 L1189.4 858.4 L1186.8 859.1 L1184.2 859.4 L1181.6 860.1 L1179.3 861.2 L1176.8 861.7 L1174.3 862.3 L1171.8 863.1 L1169.4 864.2"/>
<path d="M205.5 1015.0 L208.1 1015.5 L210.6 1016.0 L213.1 1015.7 L215.5 1014.8 L218.0 1014.1 L220.5 1013.3 L223.0 1012.9 L225.5 1012.9 L226.6 1014.5 L227.0 1016.7 L224.3 1017.2 L221.8 1017.9 L219.4 1019.1 L217.0 1020.0 L214.5 1020.8 L211.9 1021.5"/>
<path d="M219.7 1013.2 L221.0 1011.0 L222.5 1008.8 L223.6 1006.5 L225.3 1004.6 L227.1 1002.6 L229.0 1000.7 L231.5 999.7 L234.2 999.5 L236.8 999.4 L239.2 999.5 L241.8 999.8 L244.5 999.7 L247.1 1000.4 L249.2 1002.1 L251.2 1003.8 L253.5 1005.1 L255.8 1006.2 L258.1 1007.4 L260.5 1008.4 L262.3 1010.2 L264.1 1012.2 L266.1 1013.8 L267.9 1015.7 L269.7 1017.7 L271.9 1019.2 L274.2 1020.4 L276.8 1021.0 L279.3 1021.5 L281.6 1022.3 L281.5 1023.1 L282.4 1021.3 L283.7 1018.9 L284.1 1016.3 L284.4 1013.7 L285.2 1011.2 L286.5 1008.9 L288.5 1007.2 L290.3 1005.2 L292.5 1003.6 L295.3 1003.4 L298.0 1003.6 L300.6 1003.3 L303.0 1002.4 L305.5 1001.1 L308.0 1002.0 L309.8 1003.9 L311.7 1005.8 L313.1 1008.1 L314.6 1010.2 L316.5 1011.9 L318.6 1013.5 L320.3 1015.5 L322.5 1017.0 L325.1 1017.6 L327.6 1018.2 L329.6 1019.9 L331.7 1021.7 L334.2 1022.6 L336.8 1022.2 L339.1 1021.1 L341.7 1021.0 L344.2 1021.9 L346.8 1022.3 L349.3 1023.0 L351.8 1023.8 L354.3 1024.2 L356.9 1024.7 L359.4 1025.4 L362.0 1026.0 L364.4 1026.9 L366.8 1028.1 L369.3 1028.6 L372.0 1028.9 L374.3 1030.3 L376.6 1031.3 L379.1 1032.2 L381.5 1033.3 L384.0 1034.1 L386.6 1034.6 L389.2 1034.7 L391.8 1035.2 L394.1 1036.7 L396.6 1037.7 L399.2 1037.9 L401.8 1038.0 L404.3 1038.5 L406.8 1039.4 L408.9 1041.1 L411.0 1042.6 L413.5 1043.7 L415.8 1045.0 L417.8 1046.9 L418.3 1049.7 L419.0 1052.3 L420.9 1053.7 L423.1 1054.7 L425.4 1056.1 L428.0 1056.5 L430.7 1056.8 L433.6 1057.5 L434.9 1060.1 L434.6 1062.9 L434.6 1065.6 L434.6 1068.1 L433.7 1070.0 L432.2 1072.0 L429.5 1072.4 L426.9 1072.3 L424.3 1072.7 L421.9 1073.9 L419.6 1075.0 L417.0 1075.7 L414.8 1077.0 L412.5 1078.5 L409.9 1078.8 L407.1 1078.7 L404.5 1079.3 L402.3 1080.9 L399.9 1081.8 L397.1 1081.6 L394.7 1082.4 L392.3 1083.8 L390.1 1085.1 L387.4 1085.5"/>
<path d="M433.9 1058.9 L435.6 1056.9 L436.9 1054.5 L438.8 1052.7 L440.1 1050.5 L440.8 1047.9 L441.5 1045.4 L443.5 1044.1 L445.7 1042.6 L448.0 1041.3 L450.6 1041.0 L453.2 1040.9 L455.7 1039.9 L456.7 1038.1 L457.1 1035.7 L457.9 1033.2 L458.2 1030.6 L458.0 1028.0 L457.6 1025.4 L457.3 1022.8 L457.6 1020.2 L457.7 1017.5 L457.4 1014.9 L457.4 1012.3 L457.5 1009.7 L456.9 1007.1 L456.7 1004.5 L456.8 1001.9 L456.6 999.2 L456.1 996.6 L456.2 994.0 L456.6 991.2 L458.1 989.1 L460.3 987.6 L462.0 986.2 L460.3 984.2 L458.3 982.3 L455.6 982.0 L452.9 982.0 L450.4 981.4 L449.9 978.6 L451.9 977.6 L454.4 976.8 L456.9 976.2 L459.6 976.2 L462.1 975.7 L464.7 974.8 L467.3 974.4 L469.9 974.7 L472.6 974.7 L475.2 974.2 L477.7 973.6 L480.3 973.2 L482.9 973.2 L485.6 973.1 L488.2 972.7 L490.7 972.2 L493.4 971.9 L495.1 973.3 L496.3 975.6 L498.1 977.2 L500.5 978.1 L503.0 978.9 L505.6 979.2 L508.1 979.8 L510.7 980.3 L512.7 980.7 L514.0 978.6 L515.0 976.4 L515.0 974.2 L515.2 971.5 L513.2 970.1 L510.6 969.5 L509.9 967.3 L510.4 964.6 L511.9 962.3 L513.5 960.1 L514.7 957.8 L515.7 955.4 L516.7 953.0 L518.2 950.8 L519.5 948.5 L520.4 946.0 L521.8 943.8 L523.6 941.8 L524.5 939.3 L525.5 936.9 L526.8 934.6 L528.0 932.2 L529.6 930.2 L531.7 928.4 L532.8 926.0 L533.7 923.5 L535.7 921.7 L537.6 920.0 L538.8 918.2 L540.9 919.5 L543.0 921.1 L545.4 922.1 L547.7 923.4 L550.0 924.7"/>
<path d="M156.5 1036.9 L158.3 1035.0 L160.7 1033.6 L163.1 1032.2 L165.3 1030.9 L167.2 1029.2 L169.5 1027.8 L172.1 1026.9 L174.6 1026.2 L177.1 1025.3 L179.7 1024.2 L182.3 1023.2 L185.0 1023.1 L187.8 1023.5 L190.4 1023.1 L193.0 1022.1 L195.5 1021.4 L198.1 1020.7 L200.4 1019.5 L202.9 1018.4 L205.5 1017.6"/>
<path d="M197.7 1029.2 L200.3 1028.6 L202.6 1027.2 L205.2 1026.6 L207.8 1026.3 L210.3 1025.5 L212.6 1024.6 L213.6 1026.2 L214.8 1028.2 L214.7 1030.2 L212.7 1032.1 L210.4 1033.3 L207.7 1034.0 L205.3 1034.9 L203.4 1036.0 L204.2 1038.1 L204.8 1040.7 L206.3 1042.7 L208.4 1044.4 L210.3 1046.2 L212.7 1047.3 L214.9 1048.8 L216.8 1051.0 L219.2 1050.7 L220.6 1048.3 L222.5 1046.4 L224.9 1045.2 L227.5 1044.5 L229.7 1043.0 L231.0 1040.8 L232.3 1041.8 L233.4 1044.2 L233.6 1047.0 L234.1 1049.7 L235.4 1051.9 L237.0 1054.1 L238.6 1056.2 L240.6 1057.9 L242.7 1059.5 L244.7 1061.2 L246.4 1063.2 L248.1 1065.3 L249.9 1067.1 L251.8 1069.0 L253.7 1070.9 L256.1 1072.0 L258.0 1072.7 L255.6 1073.8 L253.1 1074.7 L250.7 1075.5 L248.2 1076.3 L245.7 1077.2 L243.4 1077.9 L240.8 1077.4 L238.2 1077.0 L236.1 1078.4 L233.9 1079.8 L231.4 1080.6 L229.2 1081.9 L227.2 1083.9 L224.8 1085.3 L222.1 1084.6 L219.6 1083.6 L217.1 1082.7 L214.7 1081.7 L212.3 1080.9 L209.8 1080.0 L207.4 1079.1 L204.8 1078.3 L202.4 1078.7 L201.7 1081.4 L201.2 1083.2 L202.9 1084.6 L204.7 1086.0 L203.6 1087.4 L201.6 1089.1"/>
<path d="M156.5 1066.6 L158.6 1065.2 L160.7 1063.6 L162.7 1061.8 L163.9 1059.4 L164.6 1056.8 L165.4 1054.3 L166.5 1052.0 L168.6 1051.1 L170.9 1050.7 L172.2 1051.8 L173.5 1053.9 L175.2 1056.1 L177.8 1056.0 L180.3 1055.3 L183.0 1055.3 L185.5 1054.7 L187.9 1053.4 L190.2 1052.3 L192.5 1051.2 L194.8 1049.8 L197.2 1048.8 L198.9 1050.1 L200.8 1052.1 L201.4 1054.5 L200.3 1056.9 L199.7 1059.1 L198.2 1060.5 L196.0 1061.9 L193.7 1063.3 L191.3 1064.2 L188.7 1064.8 L186.0 1065.5 L183.8 1066.8 L181.7 1068.1 L179.5 1069.1 L177.0 1070.5 L174.5 1071.0 L171.9 1071.2 L169.2 1071.2 L166.7 1071.9 L164.3 1073.0 L161.7 1073.1 L159.1 1072.9 L156.5 1073.1"/>
<path d="M156.5 1088.5 L159.1 1088.7 L161.6 1089.3 L164.2 1089.7 L166.6 1090.6 L169.0 1091.6 L171.4 1092.7 L173.9 1093.7 L176.6 1093.8 L179.2 1094.2 L181.7 1095.0 L184.3 1095.3 L186.8 1096.4 L187.7 1099.1 L188.9 1101.3 L191.4 1100.9 L194.0 1101.2 L196.6 1101.9 L199.2 1101.5 L201.7 1100.5 L204.3 1100.7 L205.7 1101.7 L207.5 1103.7 L208.5 1105.9 L210.1 1107.7 L212.2 1109.3 L214.3 1110.9 L216.3 1112.6 L218.5 1114.0 L220.5 1115.7 L222.7 1117.2 L225.4 1116.7 L228.0 1116.3 L230.2 1115.4 L232.7 1115.1 L235.3 1115.4 L237.8 1116.4 L240.5 1116.4 L243.1 1115.4 L245.7 1114.9 L248.3 1114.8 L250.9 1114.3 L253.5 1113.8 L256.2 1114.0 L258.8 1114.6 L261.3 1115.0 L263.3 1114.7 L264.5 1112.8 L266.0 1110.6 L267.2 1108.2 L268.6 1106.0 L270.4 1103.8 L273.0 1102.8 L275.6 1102.3 L278.2 1101.6 L280.8 1101.3 L283.3 1100.7 L285.7 1099.5 L288.2 1098.8 L290.6 1097.8 L292.8 1096.5 L295.2 1095.5 L297.8 1094.9 L300.5 1094.9 L303.0 1094.4 L305.6 1093.7 L308.0 1094.7 L310.2 1096.2 L311.9 1097.8 L313.6 1099.9 L314.4 1102.4 L315.7 1104.7 L318.3 1105.4 L321.0 1105.6 L323.5 1105.5 L326.1 1105.3 L328.7 1105.1 L330.9 1103.6 L332.8 1101.7 L335.1 1100.4 L337.1 1098.9 L338.7 1097.0 L340.4 1095.0 L341.9 1092.9 L343.7 1091.0 L346.0 1089.1 L348.8 1089.1 L351.5 1089.1 L354.1 1088.7 L356.8 1089.5 L359.0 1090.9 L361.2 1092.6 L363.6 1093.6 L366.3 1093.7 L369.0 1093.9 L371.5 1094.3 L374.4 1094.7 L376.9 1093.4 L378.9 1091.4 L381.1 1090.1 L383.8 1089.4 L386.1 1088.0 L387.4 1085.5"/>
<path d="M263.5 1115.6 L262.9 1118.5 L261.4 1120.5 L259.6 1122.4 L258.4 1124.8 L257.8 1127.4 L256.9 1129.9 L257.1 1132.6 L257.6 1135.2 L257.8 1137.5 L256.0 1139.2 L254.5 1141.5"/>
<path d="M166.8 1141.5 L168.7 1139.4 L170.5 1137.3 L173.0 1136.1 L175.6 1135.3 L178.0 1134.1 L180.4 1135.0 L183.0 1135.8 L185.6 1136.8 L187.4 1139.0 L188.7 1141.5"/>
<path d="M156.5 1073.1 L159.0 1073.6 L161.6 1074.2 L164.1 1075.0 L166.6 1076.0 L169.1 1076.8 L171.6 1077.8 L174.0 1078.7 L176.7 1078.9 L179.3 1079.3 L181.8 1080.1 L184.1 1081.5 L185.7 1083.1 L186.8 1085.3 L188.3 1087.5 L189.8 1087.5 L191.9 1086.0 L194.0 1084.8 L196.5 1084.1 L199.0 1083.4"/>
<path d="M583.5 815.0 L583.1 817.7 L584.1 820.2 L584.9 822.7 L586.0 824.8 L587.9 826.6 L589.9 828.2 L592.0 829.8 L593.9 831.7 L595.4 833.8 L597.4 835.5 L598.9 837.8 L599.8 840.3 L599.9 842.7 L601.2 844.7 L602.5 846.8 L604.0 848.8 L606.4 849.8 L609.0 850.3 L611.5 851.2 L613.8 852.4 L616.2 853.5 L618.7 854.1 L621.0 852.9 L623.3 851.7 L625.6 850.4 L627.8 848.9 L630.0 846.8 L632.5 848.1 L632.5 851.1 L632.8 853.7 L633.5 856.2 L634.1 858.7 L634.9 861.3 L636.4 863.5 L638.3 865.4 L640.4 866.9 L641.6 869.3 L643.3 871.6 L646.3 870.8 L648.9 870.0 L651.5 870.2 L653.9 869.2 L656.2 867.8 L658.2 866.4 L660.0 864.5 L662.0 862.8 L664.6 862.3 L667.2 861.8 L669.8 861.4 L672.4 861.6 L675.0 862.0 L677.5 862.5 L680.1 862.0 L682.7 861.6 L684.9 860.0 L687.0 858.3 L689.3 857.1 L691.7 856.1 L693.7 854.4 L695.6 852.7 L697.6 850.9 L699.7 849.5 L701.9 848.1 L704.4 847.2 L706.9 846.3 L709.1 844.8 L711.5 843.7 L714.0 843.0 L716.6 842.4 L719.0 841.2 L721.1 839.7 L723.4 838.3 L725.7 836.9 L728.1 836.0 L730.8 835.5 L733.4 835.0 L735.8 833.9 L737.9 832.3 L740.3 831.1 L742.9 830.7 L745.5 830.2 L748.1 829.5 L750.5 828.6 L752.9 827.6 L755.2 826.6 L757.1 826.4 L759.0 828.1 L761.1 829.4 L763.8 829.2 L766.3 829.5 L767.5 831.5 L769.5 833.3 L771.7 834.4 L774.3 835.2 L776.8 835.8 L779.5 835.8 L782.1 835.6 L784.8 835.5 L787.4 835.4 L790.0 835.6"/>
<path d="M642.9 870.5 L640.3 870.0 L637.7 870.0 L635.2 869.1 L632.5 869.0 L629.7 870.0 L629.2 872.8 L628.4 875.3 L627.3 877.6 L626.0 879.8 L624.7 882.1 L622.9 883.9 L620.7 885.2 L618.3 886.2 L615.7 886.7 L613.0 886.7 L610.5 887.2 L608.1 888.4 L605.8 889.7 L604.2 891.7 L602.3 893.5 L600.7 895.6 L600.3 898.2 L599.3 900.6 L598.2 903.0 L598.2 905.6 L597.6 908.1 L597.1 910.6 L597.2 913.3 L596.9 915.8 L596.2 918.4 L596.0 921.0 L596.2 923.6 L595.6 926.0 L593.4 927.3 L591.4 928.8 L589.2 929.6 L586.8 930.6 L584.4 931.9 L582.1 933.4 L579.7 934.3 L577.1 934.7 L574.4 934.8 L572.7 933.7 L571.5 931.6 L569.3 930.9 L566.9 930.1 L564.6 928.9 L562.3 927.4 L559.9 926.4 L557.5 925.4 L555.1 924.7 L552.2 924.8 L550.0 923.4"/>
<path d="M653.2 870.5 L652.8 873.1 L652.9 875.7 L652.0 878.3 L652.3 880.9 L653.3 883.3 L654.0 885.8 L654.5 888.4 L656.1 890.5 L658.0 892.3 L660.0 894.0 L661.7 896.0 L662.9 898.4 L664.2 900.7 L665.7 902.9 L667.9 904.4 L670.2 905.7 L672.2 907.5 L674.1 909.4 L676.7 909.9 L679.2 910.6 L681.7 911.5 L684.0 912.8 L686.4 913.7 L689.1 914.3 L691.5 915.5 L693.6 917.1 L695.3 919.2 L697.4 920.8 L699.7 922.2 L701.3 924.5 L701.0 927.4 L701.3 930.0 L702.5 932.5 L704.1 934.7 L704.9 937.2 L705.6 939.8 L707.1 942.0 L708.9 943.9 L710.7 945.8 L712.2 948.0 L712.4 950.7 L712.5 953.3 L713.0 955.9 L713.2 958.4 L712.7 960.8 L712.1 963.3 L712.0 966.0 L711.9 968.7 L711.4 971.2 L710.7 973.8 L710.8 976.5 L710.9 979.2 L709.4 981.5 L707.3 983.2 L705.3 985.0 L703.6 987.2 L703.5 989.8 L703.3 992.5 L702.9 994.9 L703.6 997.2 L704.2 999.8 L704.9 1002.3 L706.3 1004.5 L708.9 1004.7 L711.3 1005.8 L713.6 1007.2 L716.0 1008.3 L718.2 1009.7 L720.5 1011.0 L723.2 1011.2 L725.8 1011.3 L728.4 1011.8 L731.0 1012.1 L733.6 1012.8 L736.1 1013.4 L738.7 1013.7 L741.3 1014.3 L743.9 1014.6 L746.5 1014.6 L749.1 1014.9 L751.7 1014.8 L754.4 1014.7 L757.0 1015.4 L759.5 1016.4 L762.2 1016.7 L764.7 1017.4 L766.9 1019.0 L768.7 1021.0 L770.9 1022.5 L773.2 1023.7 L775.6 1025.0 L777.7 1026.6 L779.5 1028.5 L781.3 1030.5 L783.5 1031.9 L786.0 1033.1 L788.4 1034.2 L790.0 1036.4"/>
<path d="M1090.6 862.7 L1092.3 864.8 L1094.1 866.8 L1096.5 868.1 L1099.0 869.2 L1101.1 870.8 L1103.4 872.4 L1106.1 872.8 L1108.8 872.9 L1111.4 872.3 L1114.0 871.6 L1116.7 871.7 L1119.3 872.5 L1121.8 872.7 L1124.4 873.2 L1127.0 873.8 L1129.6 874.0 L1132.2 874.1 L1134.9 874.4 L1137.5 874.8 L1140.2 874.5 L1142.9 874.3 L1145.3 873.7 L1147.9 873.9 L1150.6 874.7 L1153.3 874.1 L1155.6 872.7 L1157.8 871.1 L1159.7 869.2 L1162.0 867.7 L1164.5 866.8 L1166.8 865.3"/>
<path d="M790.0 1036.9 L791.7 1039.3 L794.8 1039.0 L797.3 1039.7 L799.3 1041.7 L801.7 1043.1 L804.3 1043.2 L807.0 1042.6 L809.9 1042.5 L809.9 1045.6 L809.7 1048.3 L808.7 1050.2 L809.2 1052.1 L811.4 1053.5 L813.0 1055.5 L813.5 1058.1 L813.8 1060.8 L815.1 1063.1 L816.2 1065.4 L816.8 1068.0 L817.6 1070.5 L818.7 1072.8 L819.8 1075.2 L821.3 1077.2 L822.9 1079.2 L824.4 1081.4 L825.6 1083.7 L827.0 1085.9 L828.3 1088.0 L828.9 1090.2 L829.3 1092.8 L831.2 1095.0 L834.2 1094.3 L836.8 1094.1 L839.4 1094.1 L841.9 1093.2 L844.5 1092.3 L847.1 1092.2 L849.7 1092.5 L852.1 1093.6 L854.6 1094.3 L857.3 1094.2 L859.9 1094.5 L862.3 1095.8 L864.7 1096.7 L867.3 1097.0 L869.9 1097.4 L872.4 1098.3 L874.9 1099.0 L877.6 1098.5 L880.3 1098.1 L882.9 1098.5 L885.5 1098.7 L888.1 1098.8 L890.6 1099.4 L893.2 1099.8 L895.8 1100.1 L898.4 1100.4 L901.0 1100.7 L903.6 1101.2 L906.2 1100.5 L908.7 1100.0 L911.4 1100.3 L914.0 1099.9 L916.4 1098.9 L918.9 1098.1 L921.6 1098.2 L924.2 1098.4 L926.8 1098.1 L929.3 1097.2 L931.9 1096.9 L934.5 1096.7 L937.1 1096.7 L939.7 1097.5 L942.1 1098.4 L944.8 1098.5 L947.4 1098.8 L949.8 1099.8 L952.3 1100.8 L954.8 1101.3 L957.4 1101.6 L960.0 1101.9 L962.6 1102.4 L964.8 1104.0 L966.7 1105.8 L967.8 1108.3 L969.7 1109.9 L972.1 1110.7 L974.3 1111.9 L976.8 1112.4 L979.4 1112.6 L982.0 1112.9 L984.6 1113.5 L986.8 1115.2 L989.1 1116.5 L991.7 1117.0 L994.0 1118.3 L996.2 1119.7 L998.8 1120.3 L1001.4 1120.7 L1003.8 1121.5 L1006.3 1122.4 L1008.8 1123.1 L1011.4 1123.5 L1013.9 1123.8 L1016.5 1123.8 L1019.0 1123.4 L1021.6 1122.8 L1024.1 1121.9 L1026.6 1121.2 L1029.7 1121.0 L1030.2 1123.9 L1030.1 1126.5 L1031.0 1128.5 L1033.7 1128.9 L1036.3 1128.6 L1038.9 1128.7 L1041.3 1129.6 L1043.5 1128.5 L1045.4 1126.8 L1047.2 1124.9 L1049.2 1123.2 L1051.4 1121.7 L1053.8 1120.7 L1056.0 1119.3 L1058.0 1117.4 L1060.4 1116.5 L1062.7 1115.3 L1064.9 1113.9 L1067.5 1113.3 L1070.0 1112.5 L1072.3 1111.1 L1074.6 1110.0 L1077.3 1109.5 L1079.5 1108.1 L1081.7 1106.8 L1084.2 1106.0 L1086.7 1105.2 L1089.1 1104.2 L1091.3 1102.9 L1093.6 1101.5 L1096.0 1100.6 L1098.1 1099.1 L1100.1 1098.0 L1102.3 1099.3 L1104.9 1099.4 L1107.4 1099.2 L1110.1 1099.1 L1112.6 1098.4"/>
<path d="M1275.2 833.6 L1275.5 836.3 L1275.3 838.9 L1274.5 841.4 L1272.7 843.7 L1271.4 846.1 L1271.7 848.8 L1272.0 851.5 L1271.3 854.0 L1270.5 856.5 L1270.2 859.1 L1270.1 861.7 L1269.3 864.2 L1268.6 866.7 L1268.5 869.4 L1268.8 872.1 L1268.3 874.6 L1267.3 877.1 L1266.6 879.6 L1265.4 882.0 L1265.1 884.4 L1266.3 886.8 L1266.8 888.8 L1264.7 890.2 L1262.6 891.8 L1263.2 894.5 L1263.0 897.2 L1264.0 900.0 L1266.0 901.7 L1268.4 903.2 L1270.9 904.2 L1273.2 905.2 L1274.7 904.3 L1276.2 902.2 L1277.9 900.2 L1279.6 898.1 L1282.2 897.2 L1284.9 897.5 L1287.7 898.3 L1290.4 898.5 L1292.8 897.4 L1295.2 896.3 L1297.8 896.7 L1300.4 897.5 L1302.7 898.7 L1305.0 899.8 L1306.5 900.1 L1308.5 898.9 L1310.3 897.1 L1311.2 894.6 L1312.6 892.4 L1314.3 890.7 L1315.7 888.6 L1317.6 887.1 L1320.2 886.6 L1322.7 885.9 L1325.3 886.0 L1328.0 886.2 L1330.5 887.0 L1332.3 889.0 L1334.3 890.7 L1336.7 891.8 L1339.0 893.1 L1341.4 894.0 L1343.9 894.9 L1345.6 897.0 L1347.7 898.5 L1349.9 899.9 L1351.9 901.4 L1353.9 903.2 L1355.9 904.9 L1357.8 906.6 L1359.6 908.6 L1361.7 910.0 L1364.2 911.2 L1365.7 913.4 L1367.1 915.6 L1369.2 917.9 L1369.0 920.9 L1367.7 923.5 L1365.7 924.7 L1363.1 925.0 L1360.6 925.6 L1358.1 926.4 L1355.6 927.4 L1353.0 927.9 L1350.3 927.5 L1348.0 925.9 L1345.6 924.8 L1343.1 925.2 L1340.6 925.9 L1338.1 926.7 L1335.6 927.5 L1333.2 928.5 L1330.9 929.8 L1328.9 931.1 L1326.6 932.4 L1324.4 933.6 L1322.4 934.8 L1320.1 935.8 L1317.6 935.7 L1315.1 935.0 L1314.8 937.6 L1314.4 940.2 L1313.6 942.5 L1311.2 942.2 L1308.6 942.6 L1306.1 943.4 L1303.7 944.7 L1301.2 945.5 L1298.9 946.2 L1296.9 947.9 L1295.3 949.9 L1294.3 952.3 L1293.3 954.7 L1292.1 957.1 L1292.0 959.8 L1292.3 962.5 L1291.8 965.0 L1290.4 967.2 L1289.2 969.5 L1287.6 971.5 L1285.7 973.3 L1284.2 975.4 L1282.8 978.0 L1280.6 979.4 L1277.9 980.1 L1275.4 981.1 L1272.9 981.4 L1270.5 982.2 L1268.0 983.1 L1265.4 983.4 L1262.8 983.8 L1260.3 984.2 L1258.1 984.9 L1256.8 987.1 L1255.9 989.6 L1254.8 992.0 L1252.8 993.8 L1250.4 995.3 L1249.0 997.5 L1247.6 999.8 L1245.8 1001.6 L1243.8 1003.3 L1241.8 1004.9 L1239.7 1006.5 L1237.7 1007.8 L1235.2 1008.0 L1232.6 1008.2 L1230.0 1007.9 L1227.4 1007.6 L1224.9 1007.5 L1222.2 1007.7 L1219.6 1007.7 L1217.1 1006.8 L1215.0 1005.3 L1212.6 1004.2 L1210.1 1003.5 L1207.9 1002.4 L1205.6 1001.5 L1203.0 1001.9 L1200.5 1002.3 L1198.1 1003.3 L1195.8 1004.5 L1193.8 1006.1 L1193.4 1008.7 L1192.9 1011.3 L1192.2 1013.8 L1191.6 1016.3 L1191.4 1019.0 L1190.7 1021.5 L1189.6 1023.9 L1189.2 1026.3 L1190.5 1028.3 L1191.8 1030.5 L1193.0 1032.7 L1194.9 1034.3 L1196.9 1036.0 L1199.1 1037.5 L1200.8 1039.5 L1201.8 1042.1 L1202.6 1044.5 L1203.8 1046.5 L1202.1 1048.1 L1200.1 1049.7 L1198.0 1051.2 L1196.0 1052.9 L1194.2 1054.7 L1191.8 1055.8 L1189.5 1057.0 L1187.3 1058.3 L1185.4 1060.0 L1183.5 1061.9 L1181.5 1063.5 L1179.5 1065.2 L1178.5 1067.7 L1177.8 1070.2 L1176.7 1072.6 L1175.4 1074.9 L1174.1 1077.1 L1172.2 1079.0 L1170.0 1080.3 L1168.0 1082.0 L1165.8 1083.4 L1163.5 1084.6 L1161.2 1085.8 L1158.8 1086.9 L1157.0 1088.8 L1155.1 1090.8 L1152.8 1092.0 L1150.7 1093.5 L1148.4 1094.9 L1145.7 1095.0 L1143.1 1094.9 L1140.5 1094.9 L1137.9 1095.4 L1135.5 1096.3 L1133.0 1097.6 L1130.3 1097.7 L1127.8 1097.1 L1125.2 1096.2 L1122.5 1096.0 L1120.0 1096.6 L1117.6 1097.8 L1115.1 1098.6 L1112.6 1099.2 L1110.0 1099.6"/>
</g>
<g fill="none" stroke="#000" stroke-width="1.3" stroke-linejoin="round" stroke-linecap="round">
<path d="M304.8 172.2 L303.0 173.7 L301.1 175.2 L299.0 176.5 L296.7 177.4 L294.3 178.2 L292.4 179.7 L291.2 182.0 L289.6 184.0 L287.7 185.4 L285.6 186.5 L285.6 188.2 L287.2 189.9 L289.0 191.6 L290.6 193.3 L292.2 194.8 L294.0 196.5 L296.1 197.6 L298.5 198.1 L301.0 198.3 L303.5 198.2 L305.8 198.7 L308.0 199.8 L310.1 200.7 L312.5 200.4 L314.7 199.3 L316.7 198.0 L319.0 197.3 L321.4 196.7 L323.8 196.2 L325.9 195.1 L327.9 193.5 L330.0 192.3 L332.3 191.6 L334.6 191.0 L336.9 190.5 L339.4 190.4 L341.7 190.1 L344.0 190.2 L346.4 190.5 L348.8 190.7 L349.8 192.3 L349.7 194.6 L351.3 196.6 L351.6 199.0 L350.3 201.1 L349.8 203.4 L349.9 206.1 L349.1 208.5 L347.5 210.6 L345.1 211.9 L342.8 212.6 L341.2 213.5 L341.1 216.0 L341.6 218.0 L340.9 220.2 L339.7 222.3" stroke-width="1.9"/>
<path d="M510.0 172.2 L510.3 174.8 L512.0 176.6 L513.3 178.7 L513.6 181.2 L514.3 183.5 L515.3 185.7 L515.5 188.2 L516.4 190.5 L518.6 192.2 L520.5 194.0 L521.4 196.3 L522.0 198.7 L523.1 200.9 L522.3 203.3 L520.2 205.1 L519.2 207.9 L521.6 208.2 L523.6 206.7 L526.1 206.7 L528.8 206.9 L531.1 205.8 L532.6 203.8 L533.6 201.4 L535.0 199.3 L537.3 198.2 L539.2 196.6 L540.5 194.6 L542.0 192.7 L543.6 190.8 L541.1 190.3 L538.8 189.6 L536.6 188.2 L536.4 185.6 L536.5 183.1 L536.1 180.7 L535.6 178.3 L536.8 176.1 L538.2 174.2 L539.7 172.2"/>
<path d="M445.5 254.0 L448.8 253.3 L448.1 257.4 L445.0 257.1Z" stroke-width="1.0"/>
<path d="M390.0 349.5 L393.1 348.7 L392.6 352.1Z" stroke-width="1.0"/>
<path d="M391.3 532.7 L396.5 531.5 L399.0 533.5 L395.2 535.3Z" stroke-width="1.0"/>
<path d="M551.3 223.1 L553.9 223.0 L556.7 223.3 L558.4 225.6 L560.2 227.9 L558.7 230.4 L556.0 231.7 L553.3 229.9 L551.7 227.8 L550.6 225.4Z" stroke-width="1.1"/>
<path d="M508.7 254.0 L507.4 256.2 L507.2 258.7 L508.1 261.0 L509.7 262.9 L510.9 265.0 L511.6 267.4 L513.6 268.7 L516.3 268.9 L518.2 270.4 L520.1 272.0 L522.0 273.4 L524.2 274.6 L526.5 275.4 L528.7 276.1 L531.1 276.7 L533.2 278.0 L534.9 279.7 L537.0 280.9 L538.9 281.7 L540.9 280.8 L543.2 280.5 L544.8 279.7 L544.2 277.3 L542.9 274.7 L545.4 273.6 L548.0 273.7 L550.0 272.1 L552.1 270.8 L554.4 270.2 L556.6 269.2 L559.0 268.5 L561.5 268.3 L563.8 267.5 L565.9 266.5 L568.2 265.8 L570.4 264.6 L572.2 262.9 L574.1 261.5 L576.1 260.1 L578.2 258.9 L580.0 257.3 L581.6 255.5 L583.3 253.8 L584.9 252.0 L586.6 250.3 L588.6 248.9 L590.4 247.2 L592.0 245.4 L593.7 243.6 L595.1 241.6 L595.4 239.0 L595.0 236.5 L595.3 234.1 L596.2 231.8 L597.2 229.5 L597.4 227.1 L597.1 224.6 L597.8 222.3 L599.3 221.0 L601.1 220.1 L602.7 218.2 L604.5 216.2 L606.9 215.5 L609.3 215.3 L611.8 215.2 L614.2 215.1 L616.7 215.1 L619.1 215.3 L621.5 216.1 L623.8 216.8 L625.8 217.8 L627.7 219.2 L629.2 220.6 L629.2 222.6 L629.7 225.1 L629.7 227.2 L630.7 229.2 L631.4 231.6 L631.4 234.1 L630.6 236.5 L629.4 238.7 L628.8 241.0 L629.0 243.5 L628.9 245.9 L628.2 248.3 L627.2 250.4 L625.7 252.3 L624.4 254.3 L624.2 256.2 L625.5 258.3 L626.6 260.6 L628.2 262.6 L630.2 263.9 L632.8 264.5 L635.5 264.8 L637.6 265.9 L639.0 268.2"/>
<path d="M596.5 172.2 L596.9 174.9 L595.8 177.1 L594.7 179.3 L592.9 181.2 L591.3 183.0 L590.6 185.4 L590.0 187.9 L589.2 190.1 L588.1 192.2 L587.2 194.5 L586.7 197.0 L585.4 199.0 L583.8 200.9 L584.5 203.2 L585.1 205.6 L584.7 208.1 L584.6 210.5 L585.1 212.9 L586.0 215.2 L586.8 217.4 L587.1 219.8 L586.4 221.9 L585.0 223.9 L583.1 225.4 L581.3 227.0 L579.5 228.6 L577.9 230.5 L576.1 232.0 L574.3 233.4 L572.2 234.8 L570.4 236.4 L568.8 238.3 L567.0 239.9 L564.9 241.2 L562.8 242.5 L561.3 244.4 L559.6 246.1 L557.7 247.5 L556.0 248.9 L554.1 250.5 L552.3 252.2 L550.4 253.6 L548.2 254.7 L546.2 256.0 L544.1 257.4 L542.4 259.3 L540.4 260.9 L537.9 261.3 L535.4 261.6 L532.9 261.9 L530.6 260.5 L528.1 261.0"/>
<path d="M611.4 172.2 L609.4 173.7 L608.1 175.7 L606.7 177.7 L605.5 179.9 L605.3 182.3 L605.1 184.7 L604.2 187.0 L603.3 189.3 L602.7 191.5 L602.4 193.8 L602.3 196.4 L601.4 198.6 L600.1 200.8 L601.0 203.1 L602.5 204.3 L604.6 203.7 L607.0 204.3 L609.1 206.1 L611.3 207.6 L613.8 207.2 L616.3 206.7 L618.7 207.2 L620.9 208.1 L623.1 209.2 L625.4 209.9 L627.7 210.6 L629.7 212.1 L631.1 214.2 L632.5 216.1 L634.4 217.7 L636.3 219.1 L637.7 221.0 L638.7 223.2 L639.7 225.4 L640.6 227.5 L641.1 229.6 L640.7 232.0 L640.1 234.3 L639.6 236.7 L639.2 239.1 L639.0 241.4 L639.2 243.4 L637.1 243.9 L634.4 244.3 L633.0 246.7 L632.1 249.0 L631.5 251.4 L631.0 253.8 L629.6 255.2 L630.1 257.2 L631.4 259.4 L633.0 261.1 L635.1 262.5 L637.2 263.8 L639.5 264.4 L641.2 264.9 L640.9 267.2 L640.3 269.5"/>
<path d="M511.2 259.2 L512.6 257.1 L513.3 254.7 L515.4 254.0 L518.0 254.4 L519.8 256.1 L520.1 258.7 L519.7 261.0 L518.7 263.2 L517.7 265.5 L514.9 265.4 L512.9 263.9 L512.5 261.3Z" stroke-width="1.1"/>
<path d="M521.1 264.4 L524.2 261.8 L528.8 262.5 L529.9 266.2 L525.5 268.2 L521.6 266.9Z" stroke-width="1.1"/>
<path d="M531.9 261.0 L537.1 258.4 L540.2 261.0 L536.6 264.4Z" stroke-width="1.1"/>
<path d="M716.3 172.0 L716.6 174.5 L716.0 177.0 L716.3 179.6 L717.1 181.9 L718.1 184.2 L718.4 186.6 L718.0 189.1 L717.9 191.7 L718.1 194.8 L721.2 195.5 L723.6 195.4 L726.0 195.3 L728.3 194.4 L729.0 191.8 L728.8 189.5 L730.0 187.1 L730.3 184.6 L730.0 182.1 L729.9 179.6 L729.2 177.1 L728.7 174.9 L727.9 172.5" stroke-width="1.3"/>
<path d="M717.4 196.9 L717.9 199.4 L718.4 201.9 L719.1 204.3 L720.9 206.3 L722.5 208.3 L723.5 210.5 L724.8 212.7 L726.1 214.9 L727.3 217.1 L729.2 219.3 L731.2 217.5 L732.8 215.3 L735.5 214.8 L738.1 215.0 L740.5 215.1 L742.8 216.1 L743.9 218.4 L745.3 220.4 L746.2 222.6 L747.6 224.8" stroke-width="1.0"/>
<path d="M765.5 216.1 L766.9 214.1 L768.8 212.3 L771.1 212.1 L773.7 212.0 L776.0 213.8 L775.0 216.4 L773.0 217.4 L772.9 219.5 L772.1 221.9 L771.1 224.4 L772.3 226.8 L773.7 228.9 L773.3 230.7 L771.1 230.3 L769.8 230.5 L768.6 228.5 L767.4 226.3 L766.8 224.0 L766.8 221.5 L766.3 219.1Z" stroke-width="1.1"/>
<path d="M1217.9 232.1 L1218.4 241.1 L1216.3 247.1" stroke-width="0.9"/>
<path d="M1227.4 272.1 L1229.6 273.6 L1231.6 275.1 L1233.0 277.2 L1233.7 279.8 L1234.2 282.4 L1235.1 284.7 L1235.8 287.1 L1236.7 289.4 L1238.2 291.5 L1239.9 293.5 L1240.9 295.9 L1242.3 297.9 L1244.6 299.2 L1246.7 300.7 L1248.6 302.3 L1250.6 303.9 L1251.4 306.4" stroke-width="0.9"/>
<path d="M1259.7 317.3 L1261.5 319.2 L1262.0 321.9 L1263.2 324.2 L1264.7 326.4 L1266.9 327.9 L1269.1 329.3 L1271.1 331.0 L1273.0 332.6 L1275.4 333.8 L1277.6 335.3 L1280.3 335.3" stroke-width="0.9"/>
<path d="M1288.1 339.2 L1295.8 343.1 L1303.5 344.4" stroke-width="0.9"/>
<path d="M1313.9 348.7 L1324.2 354.7 L1334.5 357.3" stroke-width="0.9"/>
<path d="M1368.1 427.7 L1375.8 424.4 L1381.5 416.6" stroke-width="0.9"/>
<path d="M472.0 652.5 L473.4 650.5 L475.3 649.0 L477.3 648.9 L479.6 648.7 L481.8 648.5 L483.2 649.8 L485.3 651.4 L486.2 649.1 L488.0 647.6 L490.1 647.8 L492.5 647.2 L494.9 646.9 L496.7 648.2 L498.4 649.9 L499.4 651.7 L496.8 652.4 L494.2 652.8 L493.0 654.9 L495.1 656.7 L496.7 658.0 L494.9 659.7 L495.2 661.8 L496.7 663.3 L494.8 664.4 L492.7 665.4 L490.9 663.5 L489.5 662.1 L487.1 661.4 L485.8 659.1 L485.3 656.8 L482.9 656.5 L480.8 655.6 L478.5 654.9 L476.1 655.1 L473.9 654.3Z" stroke-width="1.8"/>
<path d="M505.6 652.6 L508.7 650.5 L511.8 652.6 L508.7 655.2Z" stroke-width="1.35"/>
<path d="M535.5 643.9 L537.7 642.7 L539.9 641.9 L542.1 641.5 L544.8 641.1 L545.7 642.6 L544.2 644.3 L542.3 645.5 L540.0 647.1 L538.0 645.5Z" stroke-width="1.35"/>
<path d="M335.8 635.8 L338.4 632.5 L342.3 633.2 L342.3 637.1 L338.4 638.4Z" stroke-width="1.35"/>
<path d="M348.7 644.8 L351.3 643.5 L351.8 646.9 L349.2 648.5Z" stroke-width="1.5" fill="#000"/>
<path d="M390.0 659.0 L393.1 657.7 L394.6 660.8 L392.1 663.4 L389.5 661.6Z" stroke-width="1.35"/>
<path d="M385.2 676.8 L387.6 676.0 L390.1 674.8 L392.7 675.9 L394.6 677.8 L393.9 679.8 L393.2 682.1 L393.2 684.8 L392.5 687.4 L390.2 687.9 L388.9 685.2 L389.0 682.4 L387.6 680.0 L385.8 679.2Z" stroke-width="1.8"/>
<path d="M400.3 677.1 L403.4 675.8 L405.5 678.4 L402.9 680.5Z" stroke-width="1.35"/>
<path d="M219.6 647.0 L221.8 645.8 L223.9 644.2 L226.0 642.7 L228.2 641.5 L230.7 640.6 L233.0 639.5 L234.8 637.6 L234.0 640.3 L232.3 642.2 L230.5 644.0 L228.9 646.3 L226.5 647.6 L223.8 648.1 L221.3 647.7Z" stroke-width="1.35"/>
<path d="M267.8 745.7 L268.9 743.5 L269.9 741.3 L271.2 739.2 L273.6 739.2 L275.6 738.8 L277.3 739.2 L278.6 741.2 L277.4 743.1 L277.2 744.6 L275.2 745.2 L275.2 745.3 L275.1 747.4 L276.4 749.1 L276.4 749.7 L274.2 750.8 L271.8 750.2 L269.8 749.0 L268.7 747.5Z" stroke-width="1.6"/>
<path d="M317.7 566.1 L320.3 567.4 L323.4 568.7 L321.6 571.3 L317.7 570.0Z" stroke-width="1.35"/>
<path d="M391.3 532.6 L395.2 531.8 L399.0 533.4 L395.2 535.2Z" stroke-width="1.35"/>
<path d="M396.5 581.6 L400.3 580.8 L404.2 582.9 L401.6 586.0 L397.7 586.0Z" stroke-width="1.35"/>
<path d="M480.3 701.1 L482.9 700.3 L483.7 703.7 L481.1 704.7Z" stroke-width="1.2"/>
<path d="M505.5 718.3 L507.2 716.3 L509.1 714.6 L511.9 715.2 L513.1 717.4 L513.8 719.6 L512.7 721.7 L512.1 723.5 L510.1 723.5 L508.0 722.8 L506.7 720.7Z" stroke-width="1.7"/>
<path d="M509.5 728.7 L512.1 727.4 L513.4 730.5 L510.8 732.6Z" stroke-width="1.35"/>
<path d="M591.3 674.0 L593.5 675.3 L594.4 677.4 L592.9 679.3 L590.7 680.0 L588.5 681.7 L586.3 682.8 L583.7 682.8 L581.0 682.9 L578.5 683.5 L576.3 684.7 L574.1 686.1 L571.9 687.4" stroke-width="1.0"/>
<path d="M724.2 843.5 L726.8 843.0 L728.1 846.1 L725.5 848.2Z" stroke-width="1.5"/>
<path d="M752.9 839.2 L755.2 838.1 L757.2 836.8 L759.2 836.1 L761.7 836.5 L764.1 837.2 L766.2 835.8 L768.0 834.1 L769.3 832.2 L769.8 834.3 L770.9 836.6 L770.9 839.2 L770.0 841.3 L771.0 842.3 L773.4 843.0 L775.6 843.7 L775.7 845.7 L774.5 845.7 L772.3 846.5 L770.2 847.8 L768.7 849.8 L767.0 851.4 L765.3 853.1 L763.2 855.0 L760.6 854.1 L758.6 852.7 L757.4 850.7 L756.0 848.8 L754.6 846.8 L754.0 844.5 L753.6 842.1Z" stroke-width="1.7"/>
<path d="M995.5 804.5 L997.9 803.8 L1000.0 802.6 L1002.0 801.1 L1004.1 800.0 L1006.4 799.2 L1008.8 798.8 L1011.0 797.6 L1013.1 796.3 L1015.5 795.9 L1017.6 795.0 L1019.3 793.0 L1021.5 792.1 L1024.2 791.8 L1026.2 790.6 L1027.9 788.7 L1029.9 787.3 L1032.4 786.6 L1034.5 785.2 L1035.6 783.0 L1037.0 780.9 L1039.0 779.5 L1041.0 778.1 L1042.3 776.0 L1043.7 774.0 L1045.4 772.3 L1047.1 770.5 L1048.5 768.6 L1049.5 766.3 L1050.3 764.0 L1051.9 762.1 L1054.3 760.9 L1056.3 759.3 L1057.6 757.2 L1058.6 755.0 L1059.4 752.6 L1060.6 750.5 L1062.1 748.6 L1063.7 746.8 L1065.0 744.8 L1065.9 742.4 L1067.2 740.4 L1068.9 738.7 L1070.7 737.0 L1072.0 735.0 L1073.2 732.9 L1075.2 731.3 L1076.9 729.6 L1078.2 727.5 L1080.0 725.8 L1081.5 723.9 L1082.3 721.5 L1083.3 719.2 L1084.5 717.2 L1085.4 714.9 L1086.2 712.6 L1087.2 710.4 L1088.4 708.3 L1089.5 706.1 L1090.8 704.1 L1091.6 701.7 L1091.8 699.3 L1092.5 697.0 L1093.2 694.6 L1093.8 692.3 L1094.5 690.0 L1094.7 687.5 L1094.3 685.1 L1094.1 682.6 L1094.5 680.2 L1094.5 677.8 L1095.3 675.5 L1096.8 673.2 L1097.0 671.0 L1096.9 668.5 L1097.6 666.0 L1099.6 664.7 L1101.8 663.7 L1104.1 664.0 L1106.3 665.0 L1106.0 667.6 L1106.5 669.9 L1107.7 672.2 L1108.0 674.7 L1107.3 677.0 L1107.2 679.4 L1107.5 681.9 L1107.0 684.3 L1106.6 686.7 L1106.5 689.1 L1106.3 691.5 L1106.9 694.0 L1107.0 696.4 L1106.0 698.7 L1105.2 701.1 L1105.4 703.5 L1105.6 705.9 L1105.3 708.3 L1105.5 710.8 L1105.5 713.2 L1104.6 715.5 L1103.2 717.6 L1102.2 719.8 L1102.3 722.4 L1101.9 724.8 L1101.1 727.0 L1099.9 729.2 L1098.4 731.2 L1097.7 733.1 L1095.9 734.2 L1094.9 735.8 L1096.2 737.8 L1097.0 740.1 L1096.2 742.3 L1095.1 744.4 L1093.7 746.3 L1092.3 748.4 L1090.5 750.0 L1088.3 751.2 L1086.5 752.9 L1085.6 755.2 L1084.6 757.4 L1083.2 759.3 L1081.3 760.9 L1079.3 762.2 L1077.4 763.8 L1075.8 765.5 L1074.0 767.1 L1072.6 769.1 L1070.8 770.8 L1068.6 771.9 L1066.7 773.2 L1064.7 774.5 L1062.7 775.8 L1060.8 777.2 L1059.0 779.1 L1057.2 780.8 L1054.8 781.5 L1052.5 782.3 L1050.7 784.0 L1049.4 785.0 L1049.0 786.6 L1048.0 789.0 L1046.6 790.9 L1045.3 792.9 L1043.5 794.4 L1041.3 795.3 L1039.1 796.3 L1037.2 797.8 L1035.4 799.5 L1033.3 800.6 L1031.0 801.5 L1028.8 802.4 L1026.6 803.5 L1024.5 804.6 L1022.3 805.5 L1020.0 806.3 L1017.7 807.1 L1015.6 808.0 L1013.2 808.4 L1010.9 807.9 L1008.5 807.6 L1006.3 807.4 L1004.0 807.0 L1001.6 806.7 L999.3 806.0 L997.1 805.0Z" stroke-width="1.6"/>
<path d="M1054.5 757.1 L1056.7 755.8 L1057.9 753.5 L1059.0 750.9 L1061.6 750.1 L1064.0 749.2 L1066.3 748.2 L1068.9 747.5 L1070.9 746.2 L1072.6 744.5 L1074.1 743.3 L1073.3 745.4 L1072.7 747.5 L1071.1 749.0 L1069.3 750.7 L1067.2 752.0 L1064.9 753.0 L1062.9 754.5 L1060.9 756.1 L1058.6 757.0 L1056.4 757.8Z" stroke-width="1.4"/>
<path d="M1089.4 739.0 L1091.9 732.6 L1095.8 727.4 L1098.4 726.9 L1097.1 732.6 L1098.4 733.9" stroke-width="1.4"/>
<path d="M1165.5 673.7 L1168.1 672.2 L1169.4 675.3 L1166.8 676.3Z" stroke-width="1.3"/>
<path d="M1179.2 772.6 L1182.3 770.0 L1182.8 772.6 L1180.2 774.4Z" stroke-width="1.5" fill="#000"/>
<path d="M1051.2 815.7 L1053.2 813.1 L1054.5 815.7 L1052.7 819.0Z" stroke-width="1.3"/>
<path d="M924.1 812.5 L925.5 810.6 L927.5 809.2 L929.3 808.3 L931.7 807.9 L932.4 810.4 L932.9 812.7 L933.3 815.1 L933.3 817.5 L932.4 819.5 L931.7 821.7 L931.9 824.3 L931.9 826.8 L931.4 829.2 L930.6 831.4 L928.9 833.4 L928.1 835.8 L928.1 838.2 L928.0 840.6 L926.3 842.0 L924.0 842.9 L921.5 843.9 L921.5 841.2 L921.8 838.8 L922.1 836.5 L922.7 834.1 L922.9 831.7 L923.2 829.3 L923.1 826.9 L923.1 824.5 L923.7 822.2 L923.9 819.8 L923.7 817.4 L923.8 815.0Z" stroke-width="1.8"/>
<path d="M1165.5 674.5 L1168.8 672.2 L1169.9 675.3 L1166.8 676.8Z" stroke-width="1.3"/>
<path d="M1178.4 773.4 L1181.0 770.8 L1183.5 770.0 L1182.3 772.6 L1179.7 774.4Z" stroke-width="1.5" fill="#000"/>
<path d="M319.2 944.0 L318.4 941.7 L318.1 939.3 L317.5 936.9 L316.2 934.8 L315.3 932.6 L314.5 930.3 L313.5 928.1 L312.6 925.9 L312.2 923.3 L313.0 920.9 L313.0 918.5 L313.2 915.9 L315.3 914.4 L317.3 913.0 L318.6 910.9 L320.1 908.8 L322.3 907.7 L324.9 907.2 L327.0 906.1 L328.5 904.0 L330.3 902.4 L332.6 901.6 L334.9 900.8 L337.1 899.7 L339.0 898.2 L341.0 896.7 L343.1 895.5 L345.1 894.2 L347.0 892.8 L349.4 892.6 L351.8 892.2 L354.2 892.0 L356.5 892.6 L358.8 893.5 L361.2 894.2 L363.0 895.8 L365.0 897.1 L367.2 898.3 L369.5 899.4 L372.0 899.0 L374.4 898.3 L377.0 897.7 L379.6 898.2 L381.5 900.0 L383.4 901.6 L385.3 903.1 L387.2 904.7 L389.1 906.2 L391.3 907.3 L393.7 907.9 L396.1 908.6 L398.4 909.3 L400.5 910.4 L402.7 911.4 L405.3 911.0 L407.7 910.4 L410.0 912.0 L412.2 913.7 L414.7 913.2 L417.2 912.7 L419.4 913.7 L421.3 915.2 L423.6 916.1 L425.9 916.5 L427.9 915.4 L430.1 914.5 L432.5 913.8 L435.1 914.2 L437.6 914.6 L439.8 913.9 L442.2 913.2 L444.7 913.0 L447.3 913.8 L448.2 916.5 L448.7 918.5 L447.6 920.4 L447.0 922.8 L445.6 925.0 L443.4 926.1 L440.8 926.4 L438.5 926.0 L436.1 925.9 L433.6 926.8 L431.4 927.5 L428.8 927.1 L426.5 925.9 L424.2 925.2 L421.8 924.8 L419.5 924.1 L417.1 923.4 L414.8 922.6 L412.7 921.5 L410.6 920.3 L408.6 918.9 L406.9 916.8 L404.8 915.3 L402.1 915.7 L399.7 915.3 L397.6 914.0 L395.6 912.7 L393.4 911.7 L391.0 911.0 L388.7 910.1 L386.5 909.3 L384.3 908.3 L382.0 907.5 L379.5 907.2 L377.0 907.2 L374.6 907.2 L372.4 906.4 L370.1 905.3 L367.7 904.7 L365.3 904.9 L362.9 905.1 L360.4 904.6 L358.1 905.0 L356.0 906.6 L353.5 906.6 L350.9 906.7 L349.1 908.5 L347.1 909.9 L345.0 911.1 L342.9 912.2 L340.9 913.6 L338.9 914.8 L337.4 916.4 L335.8 918.3 L334.5 920.2 L333.0 922.1 L331.5 924.0 L330.7 926.4 L329.8 928.7 L328.1 930.4 L326.9 932.4 L326.5 934.7 L325.0 936.8 L323.4 938.8 L322.6 941.0 L322.4 943.6 L321.3 945.6Z" stroke-width="1.7"/>
<path d="M320.3 947.9 L324.2 948.7 L326.8 953.1 L322.9 951.8Z" stroke-width="1.2"/>
<path d="M344.9 1039.9 L347.4 1039.6 L349.6 1038.7 L351.8 1037.4 L354.2 1036.6 L356.7 1036.9 L359.2 1037.4 L361.6 1037.7 L364.0 1037.6 L366.4 1038.0 L368.8 1037.9 L371.3 1036.9 L373.8 1036.5 L376.2 1037.1 L378.6 1037.6 L381.0 1038.1 L383.3 1039.1 L385.6 1039.9 L388.1 1040.1 L390.5 1039.9 L393.0 1039.8 L395.4 1040.1 L396.5 1042.3 L393.9 1042.7 L391.5 1042.6 L393.4 1043.7 L395.8 1045.5 L392.7 1045.5 L390.2 1045.1 L387.8 1045.7 L385.7 1047.0 L383.6 1048.2 L381.3 1049.2 L379.3 1050.7 L377.7 1052.3 L375.7 1053.3 L373.5 1054.1 L371.1 1054.6 L368.7 1054.8 L366.3 1054.6 L363.9 1053.9 L361.7 1053.0 L359.7 1051.6 L357.3 1050.8 L354.9 1050.0 L353.0 1048.5 L351.4 1046.5 L349.6 1044.9 L347.8 1043.4 L346.2 1041.5Z" stroke-width="1.8"/>
<path d="M378.3 997.9 L380.7 997.5 L382.9 997.6 L385.3 997.9 L387.7 998.4 L389.6 1000.0 L391.8 1001.0 L394.1 1001.8 L396.3 1002.8 L398.7 1003.2 L401.0 1003.8 L400.9 1004.3 L399.5 1005.6 L397.9 1007.2 L395.5 1006.7 L393.3 1005.4 L391.1 1004.8 L388.6 1004.4 L386.4 1003.4 L384.5 1002.0 L382.4 1001.0 L380.3 999.7Z" stroke-width="1.5"/>
<path d="M312.1 1051.1 L315.2 1049.3 L318.3 1051.9 L316.5 1055.5 L313.1 1054.5Z" stroke-width="1.35"/>
<path d="M473.1 991.8 L477.7 990.0 L481.1 993.6 L478.3 997.7 L473.9 996.2Z" stroke-width="1.35"/>
<path d="M513.8 990.4 L516.0 988.9 L518.6 988.0 L520.7 989.6 L522.4 991.5 L523.2 993.0 L522.1 994.9 L521.0 996.4 L518.8 995.5 L516.6 994.6 L515.1 992.7Z" stroke-width="1.35"/>
<path d="M512.6 985.3 L515.9 984.0 L517.0 986.6 L513.9 987.4Z" stroke-width="1.35"/>
<path d="M479.7 924.5 L482.1 924.5 L484.7 924.9 L486.9 925.4 L489.3 926.4 L491.1 928.2 L492.5 930.3 L494.1 932.3 L494.0 934.5 L492.1 936.2 L490.2 934.8 L488.3 933.2 L486.2 931.9 L484.1 930.7 L481.8 929.9 L480.8 927.7Z" stroke-width="1.6"/>
<path d="M494.5 936.4 L497.0 936.0 L499.5 935.8 L501.8 936.1 L503.9 937.6 L505.5 939.6 L506.6 941.7 L507.9 944.0 L508.1 946.4 L508.3 949.0 L507.9 951.4 L507.4 953.9 L507.7 956.4 L508.3 959.0 L507.1 961.7 L504.5 959.6 L502.9 957.6 L501.3 955.8 L499.5 954.0 L498.0 952.1 L497.3 949.8 L495.9 947.8 L494.1 945.9 L492.6 943.7 L492.3 940.9 L493.4 938.6Z" stroke-width="1.6"/>
<path d="M160.3 865.3 L162.4 862.0 L164.2 864.0 L161.6 867.9Z" stroke-width="1.3"/>
<path d="M174.4 1068.2 L176.8 1067.4 L179.3 1066.7 L181.8 1066.8 L184.3 1067.2 L186.7 1067.4 L186.8 1068.1 L185.6 1069.4 L183.7 1070.3 L181.3 1071.4 L178.7 1071.2 L176.6 1069.9Z" stroke-width="1.5"/>
<path d="M244.2 1132.4 L246.8 1128.5 L250.6 1129.8 L250.1 1134.5 L246.0 1135.5Z" stroke-width="1.6"/>
<path d="M304.3 1091.6 L307.9 1090.1 L310.5 1091.6 L307.4 1093.7Z" stroke-width="1.3"/>
<path d="M543.5 883.8 L545.9 883.8 L548.4 884.0 L550.8 884.2 L553.0 885.4 L554.9 886.9 L557.0 888.2 L559.0 889.4 L561.0 890.8 L563.3 891.8 L565.5 892.9 L567.0 894.9 L568.5 897.2 L570.6 898.4 L573.5 898.4 L575.0 900.5 L572.9 902.5 L571.2 904.2 L569.4 906.2 L567.2 904.8 L565.1 903.5 L562.7 902.8 L561.0 901.0 L559.7 898.9 L557.5 897.8 L555.3 896.6 L553.7 894.7 L551.7 893.4 L549.5 892.2 L547.5 890.8 L545.8 889.0 L544.6 886.9Z" stroke-width="1.7"/>
<path d="M601.6 876.9 L606.3 875.1 L611.4 876.9 L608.1 880.0 L602.9 879.5Z" stroke-width="1.35"/>
<path d="M625.9 927.9 L628.1 926.9 L630.6 926.5 L633.0 925.8 L635.4 925.4 L638.0 925.7 L638.3 927.0 L636.4 928.7 L634.6 930.4 L633.5 932.6 L632.5 934.8 L631.2 937.0 L629.0 935.4 L627.3 933.5 L626.5 931.1Z" stroke-width="1.35"/>
<path d="M631.3 940.9 L633.9 939.4 L635.7 942.0 L633.1 943.5Z" stroke-width="1.35"/>
<path d="M586.9 974.1 L589.5 973.6 L592.1 973.2 L594.2 972.3 L596.5 971.4 L598.8 970.1 L600.5 970.7 L599.2 973.2 L596.9 974.4 L594.6 975.3 L592.1 975.7 L589.8 975.7Z" stroke-width="1.8"/>
<path d="M591.3 1104.0 L592.5 1101.9 L594.0 1100.0 L595.2 1097.9 L595.6 1095.2 L597.8 1095.4 L599.5 1097.6 L601.6 1099.0 L604.3 1098.7 L607.0 1098.8 L608.9 1100.5 L609.0 1103.2 L609.3 1105.7 L607.6 1105.3 L605.4 1104.3 L603.0 1103.8 L600.8 1103.6 L598.5 1103.6 L596.0 1102.8 L593.5 1102.6Z" stroke-width="1.35"/>
<path d="M744.1 1058.9 L746.6 1056.3 L748.2 1057.6 L746.1 1060.7Z" stroke-width="1.3"/>
<path d="M723.4 843.4 L726.8 842.9 L728.6 846.0 L725.5 848.5 L722.9 846.5Z" stroke-width="1.35"/>
<path d="M710.5 865.3 L713.9 862.7 L717.2 863.5 L715.7 869.7 L712.1 868.7Z" stroke-width="1.35"/>
<path d="M761.6 876.3 L764.2 876.6 L766.7 876.5 L769.0 876.2 L771.1 877.1 L773.5 878.0 L775.9 878.9 L778.3 879.3 L780.7 880.3 L782.7 882.0 L782.3 884.9 L779.9 885.9 L777.6 886.5 L775.2 886.8 L772.5 886.4 L770.9 884.2 L769.8 881.7 L767.8 880.0 L765.4 879.5 L763.0 878.5Z" stroke-width="1.6"/>
<path d="M772.5 889.3 L775.0 887.8 L776.6 890.4 L774.0 891.9Z" stroke-width="1.35"/>
<path d="M855.8 896.3 L859.7 894.5 L863.5 897.1 L859.7 898.9Z" stroke-width="1.35"/>
<path d="M739.0 917.2 L741.2 916.0 L743.2 914.5 L744.1 912.3 L745.1 910.0 L746.6 908.1 L748.2 907.3 L750.3 906.7 L752.7 906.2 L754.9 907.0 L757.5 907.8 L758.7 910.0 L758.8 912.8 L756.8 914.1 L754.5 915.0 L752.2 914.8 L749.4 914.5 L747.7 916.9 L746.8 919.2 L745.8 921.5 L744.7 923.9 L742.5 924.8 L740.2 923.8 L739.5 921.9 L739.3 919.4Z" stroke-width="1.6"/>
<path d="M748.2 908.4 L751.3 907.9 L752.3 911.8 L749.2 913.1Z" stroke-width="1.2"/>
<path d="M752.3 909.2 L755.9 908.9 L757.0 913.1 L753.4 914.6Z" stroke-width="1.2"/>
<path d="M762.6 913.7 L764.9 912.8 L767.4 912.3 L770.0 912.6 L771.3 914.0 L770.5 916.3 L768.9 917.9 L767.1 919.7 L767.9 922.1 L768.7 924.5 L770.2 926.5 L772.2 928.0 L774.2 929.6 L774.9 932.4 L772.4 933.3 L769.3 933.6 L768.0 930.7 L768.2 928.1 L767.6 925.7 L766.5 923.4 L765.4 921.3 L764.0 919.2 L763.2 916.8Z" stroke-width="1.6"/>
<path d="M855.8 896.3 L859.7 894.5 L864.3 897.1 L860.2 898.9Z" stroke-width="1.6"/>
<path d="M891.9 881.6 L897.1 882.6 L901.5 884.2 L899.7 886.7 L894.5 884.7Z" stroke-width="1.4" fill="#000"/>
<path d="M893.0 1000.8 L895.4 1000.0 L897.8 999.5 L899.9 1000.6 L901.7 1002.2 L903.0 1004.3 L902.4 1005.7 L899.7 1005.2 L897.4 1004.1 L895.3 1002.8Z" stroke-width="1.5"/>
<path d="M930.6 1018.9 L939.7 1018.9 L939.2 1020.9 L931.4 1020.9Z" stroke-width="1.2" fill="#000"/>
<path d="M1300.8 845.8 L1301.1 848.2 L1301.6 850.6 L1302.6 853.0 L1301.8 855.5 L1300.3 857.3 L1300.4 859.4 L1301.1 861.8 L1299.2 863.6 L1297.1 865.0 L1297.4 867.4 L1297.8 869.8 L1296.2 871.1 L1294.3 872.5 L1292.7 874.5 L1292.4 871.9 L1291.4 869.8 L1289.4 868.3 L1288.8 866.4 L1289.4 864.1 L1290.8 862.4 L1292.3 860.6 L1293.8 858.6 L1294.8 856.3 L1295.7 854.1 L1296.3 851.7 L1297.0 849.4 L1298.6 847.8Z" stroke-width="1.7"/>
<path d="M1304.8 853.7 L1308.2 852.4 L1310.0 854.2 L1307.4 856.3Z" stroke-width="1.4"/>
<path d="M1307.2 894.9 L1308.6 892.8 L1309.8 890.5 L1312.2 890.4 L1313.7 891.0 L1314.6 893.2 L1314.3 895.4 L1313.7 897.9 L1312.6 900.2 L1310.0 901.3 L1308.6 900.0 L1308.4 897.3Z" stroke-width="1.7"/>
<path d="M1319.0 972.4 L1322.1 968.5 L1325.5 967.8 L1326.3 971.1 L1322.9 974.5Z" stroke-width="1.5"/>
<path d="M1313.4 1047.3 L1315.9 1042.1 L1319.0 1042.6 L1320.1 1046.7 L1316.5 1048.5Z" stroke-width="1.5"/>
<path d="M1246.8 1136.3 L1250.6 1134.5 L1251.4 1136.3 L1248.8 1138.1Z" stroke-width="1.3"/>
<path d="M1338.4 1133.7 L1343.5 1132.4 L1342.3 1136.3 L1339.2 1135.8Z" stroke-width="1.3" fill="#000"/>
</g>
<g fill="none" stroke="#000" stroke-width="2.45" stroke-linejoin="round" stroke-linecap="round">
<path d="M511.3 254.0 L508.1 254.6 L507.2 252.1 L505.9 250.6 L503.9 251.5 L501.7 251.6 L499.4 251.5 L497.4 252.3 L495.4 253.4 L493.2 254.1 L491.6 252.7 L490.4 251.1 L487.3 251.1 L484.9 251.0 L484.8 249.6 L482.7 248.7 L481.0 247.9 L479.2 246.7 L476.8 246.0 L475.7 245.1 L474.0 244.9 L471.8 245.6 L470.4 247.5 L468.8 249.2 L466.6 249.8 L464.5 250.5 L462.5 251.5 L460.7 252.8 L458.8 254.0 L458.0 255.3 L458.3 257.2 L456.4 259.1 L454.3 260.5 L453.5 262.5 L453.3 265.2 L451.9 266.9 L449.5 267.8 L448.1 269.5 L446.8 271.3 L445.1 272.7 L443.7 274.4 L441.7 275.6 L439.8 277.0 L438.4 278.7 L436.6 280.1 L435.4 282.0 L434.5 284.1 L432.8 285.8 L431.6 287.7 L430.7 289.8 L430.3 292.1 L429.6 294.3 L428.8 296.5 L429.3 298.7 L429.6 301.0 L428.4 303.1 L428.0 305.3 L428.1 307.5 L427.7 309.7 L426.5 311.3 L424.8 312.1 L424.0 314.6 L423.2 317.1 L421.3 318.1 L419.5 319.4 L418.5 321.4 L417.3 323.3 L415.4 324.6 L413.6 325.6 L412.0 327.3 L410.4 328.8 L408.8 330.5 L407.0 331.8 L405.1 333.0 L403.2 334.2 L400.9 334.6 L399.0 335.6 L398.0 337.6 L396.5 339.3 L395.3 341.1 L395.5 343.1 L395.9 345.2 L395.3 347.5 L395.1 349.7 L396.3 351.8 L396.4 354.0 L396.4 356.3 L398.0 358.1 L399.1 360.0 L400.2 361.6 L400.9 363.6 L400.9 366.3 L402.4 368.0 L404.4 369.3 L405.3 371.3 L406.1 373.5 L407.5 375.2 L408.8 377.0 L409.8 379.1 L410.5 381.4 L410.7 383.6 L410.7 385.8 L411.1 388.0 L411.4 390.2 L410.8 392.5 L410.1 394.9 L411.2 397.1 L413.2 398.6 L415.2 399.9 L417.1 401.9 L416.4 404.5 L415.8 406.7 L415.4 408.8 L415.0 410.8 L415.1 413.3 L415.3 415.8 L416.6 417.6 L418.3 419.1 L420.5 420.5"/>
<path d="M420.5 420.5 L422.7 419.9 L424.8 419.0 L427.2 419.9 L429.5 420.5 L431.6 419.5 L433.9 419.5 L436.0 420.4 L438.3 420.1 L440.6 420.1 L442.7 421.0 L445.2 420.6 L447.8 419.6 L449.9 420.9 L451.7 422.8 L453.6 424.1 L455.2 425.8 L457.1 427.1 L459.4 427.2 L461.7 426.8 L464.1 425.9 L466.4 426.1 L468.6 427.2 L470.5 429.0"/>
<path d="M420.5 420.5 L421.8 422.2 L424.2 423.1 L426.5 424.7 L426.5 427.5 L426.1 429.8 L426.0 432.0 L425.3 434.3 L425.0 436.2 L424.8 438.3 L424.9 440.7 L424.7 442.6 L424.6 444.6 L425.4 446.9 L424.8 449.4 L422.5 450.5 L420.5 451.2 L419.7 453.0 L420.2 455.2 L420.0 456.7 L418.1 457.6 L416.9 459.6 L415.2 461.2 L412.9 461.3 L410.7 461.9 L408.7 462.4 L406.5 462.6 L404.5 463.5 L403.0 465.6 L401.2 466.6 L398.5 466.4 L396.2 467.1 L394.6 468.6 L392.6 470.0 L391.1 471.8 L389.9 473.7 L388.7 475.5 L388.2 477.9 L387.5 480.2 L385.9 481.7 L384.2 483.2 L382.0 484.2 L379.9 485.2 L378.6 486.9 L376.7 488.2 L374.5 489.1 L373.3 491.0 L373.0 493.8 L371.5 495.3 L369.2 495.7 L368.2 498.0 L369.7 499.2 L367.5 501.3"/>
<path d="M411.9 438.5 L418.4 439.1 L423.5 437.3" stroke-width="1.6"/>
<path d="M414.5 430.8 L421.0 432.1" stroke-width="1.6"/>
<path d="M342.3 434.7 L346.1 438.5 L351.3 442.4" stroke-width="2.2"/>
<path d="M391.3 364.2 L394.6 365.0 L393.9 367.6" stroke-width="1.6"/>
<path d="M399.8 390.8 L402.9 392.1 L402.4 395.2" stroke-width="1.6"/>
<path d="M494.5 421.0 L497.1 423.1" stroke-width="1.6"/>
<path d="M219.2 369.2 L219.9 371.5 L219.8 373.8 L218.3 375.8 L217.3 377.8 L217.2 380.3 L215.6 382.0 L213.3 383.1 L211.6 384.5 L210.6 386.3 L208.4 386.6 L206.2 386.3 L203.8 386.6 L201.7 387.9 L200.5 390.1 L199.5 392.0 L199.7 394.2 L199.5 395.9 L200.7 397.4 L201.7 399.5 L202.5 401.7" stroke-width="1.9"/>
<path d="M199.2 393.3 L195.0 390.8 L191.7 389.7 L188.7 388.7" stroke-width="1.7"/>
<path d="M198.3 398.3 L194.2 400.0 L190.0 401.7 L185.0 400.8 L180.0 399.7 L177.5 399.2" stroke-width="1.8"/>
<path d="M190.0 401.7 L187.5 405.8 L189.2 410.0 L186.7 414.2 L183.3 416.7 L180.8 420.0" stroke-width="1.8"/>
<path d="M186.7 414.2 L190.8 416.7 L194.2 419.2 L193.3 422.5" stroke-width="2.0"/>
<path d="M189.2 420.0 L186.7 424.2 L185.0 428.3 L183.3 431.7 L182.0 435.8" stroke-width="2.4"/>
<path d="M160.8 416.7 L161.3 420.8 L159.2 424.2 L160.0 427.5 L156.7 430.0 L155.8 433.3" stroke-width="2.0"/>
<path d="M470.0 245.0 L472.0 246.3 L474.4 245.7 L476.6 246.3 L478.6 247.5 L480.6 248.4 L482.3 249.9 L484.0 251.4 L486.3 251.8 L488.6 252.3 L490.6 253.4 L492.4 252.7 L494.0 251.6 L497.0 252.4 L499.0 253.0 L500.7 252.4 L503.2 250.0 L506.2 248.5 L508.1 251.1 L508.7 254.0"/>
<path d="M723.2 175.5 L721.8 177.2 L721.1 179.3 L719.5 180.8 L717.5 181.3 L715.6 182.6 L714.5 184.5 L712.7 185.6 L711.2 187.0 L712.1 188.7 L711.6 187.8 L713.0 186.3 L715.5 185.3 L716.8 187.9 L718.2 189.9 L720.5 190.5 L722.4 189.6 L721.8 191.5 L720.8 193.6 L719.7 195.1 L718.1 196.5 L715.9 197.2 L714.1 198.5 L712.2 198.9 L713.6 199.3 L715.0 201.0 L716.1 203.1 L717.4 204.8 L717.9 206.9 L719.1 208.6 L722.2 209.5 L723.6 210.4 L724.1 213.0 L725.0 215.2 L726.5 216.8 L728.4 218.0 L729.1 218.5 L729.2 217.8 L731.7 217.5 L734.0 217.0 L736.2 217.0 L738.1 217.7 L739.8 217.7 L742.1 217.0 L743.0 218.9 L744.5 220.5 L747.0 221.7 L747.8 223.8 L747.5 226.3 L748.7 228.2 L747.0 229.4 L745.7 231.3 L745.3 233.6 L743.7 235.1 L743.2 237.4 L744.7 239.3" stroke-width="1.5"/>
<path d="M743.5 239.8 L743.5 242.1 L743.8 244.2 L743.9 246.5 L743.2 248.8 L743.0 250.9 L743.5 253.1 L744.0 255.3 L744.8 257.4 L746.2 259.6 L745.8 261.8 L744.4 263.8 L744.2 266.0 L744.0 268.2 L743.6 270.4 L743.3 272.7 L741.9 274.5 L740.6 276.4 L740.7 278.8 L739.8 280.8 L737.8 282.5 L737.7 284.8 L738.8 287.2 L739.0 289.5 L739.3 291.4 L740.2 293.1 L740.4 295.3 L739.5 297.7 L738.4 300.1 L738.2 302.2 L737.7 304.2 L736.7 306.2 L736.6 308.5 L737.2 311.2 L735.8 313.2 L733.1 313.4 L730.6 313.7 L729.5 316.0 L731.1 316.2 L732.7 316.5 L734.4 318.9 L736.0 319.9 L737.6 321.2 L739.8 322.2 L741.6 323.6 L741.7 326.2 L742.2 328.4 L743.3 330.4 L745.2 331.8 L747.3 333.1 L748.0 335.2 L748.2 337.3 L748.3 339.4 L747.5 341.6 L747.4 343.8 L749.8 345.3 L749.5 347.7 L748.0 349.6 L747.1 351.7 L747.2 354.0 L746.8 356.2 L745.8 358.1 L745.0 360.2 L744.0 362.2 L743.1 364.2 L742.3 366.3 L740.9 368.1 L740.4 370.2 L740.6 372.7 L739.6 374.7 L738.5 376.6 L737.7 378.7 L736.1 380.3 L734.8 382.2 L734.7 384.5 L735.0 386.9 L734.6 389.1 L733.6 391.0 L733.1 393.2 L733.1 395.4 L732.3 397.6 L730.2 399.1 L728.9 400.9 L728.0 402.9 L726.3 404.5 L725.3 406.5 L724.8 408.7 L724.2 410.9 L724.0 413.2 L723.7 415.5 L722.8 417.4 L723.4 419.2 L724.3 421.3 L724.7 423.8 L725.7 425.6 L727.5 427.0 L729.4 428.4 L732.0 429.4 L733.9 430.9 L734.0 433.4 L733.7 436.0 L733.5 438.6 L734.2 440.8 L736.1 442.3 L737.3 444.2 L738.6 446.1 L740.4 447.6 L741.7 449.3 L742.5 451.0 L744.1 452.7"/>
<path d="M749.2 343.1 L750.5 340.3 L753.2 340.9 L755.7 342.1 L757.8 341.8 L760.0 340.9 L762.1 340.9 L764.0 342.1 L765.9 343.4 L768.1 344.1 L770.0 345.3 L771.4 347.2 L773.8 347.8 L775.8 349.3 L775.6 351.9 L776.0 354.1 L776.6 356.4 L775.6 358.6 L775.6 360.9 L775.4 363.2 L773.6 365.1 L772.2 367.1 L772.1 369.7 L773.2 372.0 L774.3 374.0 L775.8 375.9 L777.3 377.6 L778.2 379.5 L779.7 381.1 L781.2 382.8 L781.7 385.3 L782.7 387.7 L785.1 388.5 L787.3 389.2 L789.4 390.0 L791.6 390.5 L793.5 391.8 L795.4 393.1 L797.7 393.5 L799.8 394.2"/>
<path d="M779.7 236.0 L781.8 235.1 L784.1 234.9 L786.3 234.3 L788.6 233.7 L790.8 235.1 L793.0 235.9 L795.4 235.2 L797.6 234.3 L799.9 234.1 L802.2 234.6 L804.5 235.3 L806.4 236.3 L808.5 237.0 L811.1 236.3 L813.2 237.3" stroke-width="1.8"/>
<path d="M790.0 238.5 L801.6 242.4" stroke-width="1.8"/>
<path d="M804.2 248.4 L810.6 248.9 L817.1 247.1" stroke-width="2.0"/>
<path d="M786.1 253.5 L788.3 254.1 L790.3 255.1 L792.5 256.0 L793.8 257.6 L795.7 258.0 L797.8 257.5 L800.1 258.3 L802.5 259.1 L804.7 258.8 L806.9 258.4 L809.0 257.2 L811.0 256.0 L813.2 255.8" stroke-width="2.0"/>
<path d="M780.5 267.5 L782.9 267.3 L785.2 267.5 L787.0 268.8 L789.2 269.7 L791.4 270.2 L793.7 269.9 L795.9 268.8 L798.1 268.2 L800.4 268.4 L802.6 268.0 L804.9 268.3 L807.3 269.2 L809.5 269.0 L811.8 269.1 L814.0 269.4 L816.0 269.0 L818.0 269.5 L820.5 269.5" stroke-width="2.2"/>
<path d="M783.5 270.3 L785.5 271.9 L787.8 272.2 L790.2 272.2 L792.4 271.4 L794.7 271.0 L797.0 271.0 L799.4 271.8 L801.7 271.8 L803.8 270.3 L805.9 269.1 L808.2 268.9 L810.6 269.5" stroke-width="1.3"/>
<path d="M837.7 242.4 L841.6 247.6 L845.5 252.7 L848.8 253.3" stroke-width="2.0"/>
<path d="M837.7 270.0 L835.6 269.3 L833.2 269.9 L831.4 270.5 L829.5 270.6 L827.2 271.0 L826.6 273.4 L825.6 275.4 L823.4 276.6 L821.2 277.8 L819.6 279.4 L818.8 281.5 L817.4 283.4 L815.5 284.6 L813.9 286.3 L812.2 287.6 L809.7 288.3 L809.4 290.7" stroke-width="2.0"/>
<path d="M825.6 300.5 L824.1 305.6 L821.0 306.9 L818.9 312.6" stroke-width="2.0"/>
<path d="M835.9 311.6 L835.2 317.3 L833.4 321.1 L835.9 327.6 L837.7 333.3" stroke-width="2.0"/>
<path d="M847.3 316.7 L849.4 322.4 L850.9 327.6" stroke-width="1.8"/>
<path d="M623.5 375.3 L627.9 377.1 L632.6 376.1" stroke-width="2.4"/>
<path d="M582.0 461.3 L583.5 462.3" stroke-width="4.5"/>
<path d="M494.8 421.8 L496.6 423.1" stroke-width="2.0"/>
<path d="M470.0 428.7 L472.1 429.5 L473.9 430.9 L476.0 431.7 L478.2 432.1 L480.2 433.1 L482.1 434.3 L484.2 435.0 L486.3 435.7 L488.3 436.6 L490.5 437.1 L492.7 437.5 L494.6 438.7 L496.2 440.6 L498.2 441.6 L500.9 440.5 L503.6 439.1 L505.5 440.6 L506.8 443.9 L508.4 446.0 L510.5 446.3 L512.9 446.3 L515.1 446.9 L516.5 448.7 L517.8 450.8 L520.1 451.4 L522.4 451.9 L523.8 453.8 L525.9 454.6 L528.6 454.7 L530.0 456.6 L530.6 459.3 L532.3 460.6 L534.7 461.4 L535.8 463.4 L536.6 465.7 L538.6 466.8 L540.9 467.6 L542.3 469.4 L543.4 471.5 L545.4 472.5 L547.1 473.9 L547.8 476.1 L549.7 477.3 L552.2 478.3 L553.9 479.8 L555.6 481.2 L556.2 483.5 L555.8 486.5 L556.2 489.0 L558.0 490.4 L560.3 491.5"/>
<path d="M911.8 179.2 L911.3 176.6 L916.5 174.0 L924.2 172.2"/>
<path d="M944.3 172.2 L948.7 174.8 L951.3 176.6"/>
<path d="M1220.5 172.2 L1219.9 174.4 L1219.7 176.6 L1218.2 178.1 L1216.6 179.4 L1215.0 180.9 L1214.0 183.3 L1215.2 185.8 L1215.8 187.8 L1215.9 190.1 L1215.9 192.3 L1215.6 194.5 L1215.8 196.7 L1215.6 198.9 L1214.1 201.0 L1213.7 203.1 L1214.6 205.4 L1215.1 207.8 L1214.6 210.0 L1214.0 212.0 L1214.2 213.8 L1214.3 215.9 L1213.8 218.3 L1213.7 220.5 L1214.6 222.6 L1215.6 224.6 L1215.1 227.0 L1214.6 229.4 L1216.0 231.3 L1216.1 233.3 L1214.7 235.3 L1215.5 237.6 L1216.4 239.9 L1215.8 242.0 L1215.5 244.2 L1214.6 246.2 L1214.6 248.4 L1216.2 250.3 L1217.3 252.3 L1216.6 254.8 L1217.2 256.9 L1219.0 258.6 L1219.3 260.9 L1218.9 263.5 L1220.5 265.3 L1222.2 266.7 L1224.3 267.8 L1226.4 268.9 L1227.8 270.5 L1228.9 272.5 L1230.8 273.9 L1233.6 274.9 L1234.4 277.4 L1233.3 280.1 L1233.5 282.5 L1235.3 283.9 L1237.0 285.4 L1239.0 286.6 L1240.4 288.3 L1241.1 290.6 L1242.3 292.4 L1244.3 293.7 L1245.9 295.2 L1246.8 297.3 L1247.9 299.3 L1249.4 300.9 L1250.9 302.5 L1252.2 304.3 L1253.1 306.4 L1253.7 308.6 L1254.2 310.9 L1255.7 312.5 L1258.3 313.5 L1260.0 315.0 L1260.8 317.1 L1261.4 319.3 L1262.9 321.0 L1265.2 321.9 L1266.5 323.7 L1267.2 326.2 L1269.0 327.5 L1270.7 328.9 L1272.6 330.1 L1274.5 331.2 L1276.5 332.3 L1278.7 332.8 L1280.4 334.4 L1281.8 336.4 L1284.1 336.9 L1286.5 336.9 L1288.6 337.7 L1290.5 338.8 L1292.8 338.9 L1295.1 339.1 L1297.1 339.8 L1299.3 340.0 L1301.4 340.5 L1303.5 341.6 L1305.4 342.8 L1307.5 343.6 L1309.7 344.0 L1311.8 344.8 L1313.6 346.2 L1315.5 347.3 L1317.6 348.1 L1319.5 349.3 L1321.1 350.8 L1322.8 352.5 L1324.8 353.5 L1326.9 354.2 L1329.1 354.7 L1331.3 355.2 L1333.2 356.4 L1335.4 356.8 L1337.7 356.9 L1339.8 357.5 L1341.8 358.5 L1343.9 360.0 L1346.1 358.8 L1347.9 356.6 L1350.0 356.0 L1352.3 356.1 L1354.6 356.3 L1356.9 356.8 L1359.2 357.2 L1361.3 357.1 L1363.5 356.2 L1365.6 355.5 L1367.9 356.4 L1370.1 355.7 L1371.9 353.5 L1374.1 353.0 L1376.3 353.0 L1378.5 353.0 L1380.8 352.5 L1382.6 351.3 L1383.9 349.2 L1385.6 347.0 L1387.9 346.1 L1390.1 346.4 L1392.3 346.6 L1394.1 345.7 L1395.7 344.2 L1397.9 343.7 L1400.4 344.0 L1402.7 343.7 L1404.5 342.5 L1406.5 341.5 L1408.6 340.8 L1410.6 340.0" stroke-width="2.25"/>
<path d="M1359.0 356.0 L1360.5 357.6 L1362.3 359.0 L1363.5 360.8 L1364.0 363.3 L1364.6 365.5 L1366.1 367.1 L1367.9 368.6 L1369.8 369.9 L1371.5 371.4 L1372.0 373.8 L1373.6 375.4 L1375.8 376.4 L1376.5 378.7 L1377.7 380.6 L1379.4 382.0 L1381.0 383.6 L1381.6 385.8 L1381.7 388.1 L1382.1 390.3 L1382.3 392.5 L1383.0 394.5 L1384.0 396.6 L1385.1 398.7 L1385.5 400.9 L1384.9 403.1 L1383.5 405.2 L1382.8 407.3 L1383.6 409.6 L1384.2 412.1 L1383.7 414.3 L1382.7 416.3 L1381.0 418.0 L1379.9 419.9 L1379.2 422.2 L1377.5 423.7 L1375.5 424.8 L1373.9 426.0 L1372.2 427.4 L1370.0 428.0 L1368.1 429.1 L1366.5 430.8 L1364.2 431.3 L1362.2 432.2 L1360.8 434.1 L1358.8 435.0 L1356.7 435.7 L1354.6 436.5 L1352.6 437.3 L1350.7 438.5 L1348.9 439.9 L1346.9 440.8 L1344.8 441.5 L1343.1 443.1 L1341.8 445.0 L1339.5 445.6 L1337.0 446.1 L1335.5 447.7 L1334.7 450.2 L1333.6 452.3 L1331.2 452.9 L1328.7 453.4 L1327.2 455.0 L1326.2 457.3 L1324.8 459.0 L1322.9 460.2 L1321.4 461.9 L1320.0 463.7 L1317.9 464.7 L1315.7 465.4 L1313.3 465.7 L1311.1 466.1 L1309.5 467.9 L1307.6 469.0 L1305.3 469.3 L1303.2 469.8 L1301.0 469.9 L1298.9 470.8 L1297.0 472.4 L1294.9 473.1 L1292.7 473.1 L1290.5 473.5 L1288.4 474.3 L1286.3 474.9 L1284.1 475.4 L1282.2 476.4 L1280.1 477.3 L1277.9 478.0 L1275.6 478.4 L1273.4 478.1 L1271.3 478.1 L1270.1 479.5 L1268.4 480.4 L1265.7 480.6 L1263.9 481.9 L1263.2 484.1 L1261.8 485.8 L1260.3 487.9 L1262.7 489.3 L1263.5 489.0 L1264.9 488.0 L1267.1 487.3 L1269.4 487.9 L1270.6 489.7 L1271.3 491.5 L1272.2 493.3 L1273.1 495.3" stroke-width="2.25"/>
<path d="M1261.0 487.6 L1258.3 485.8 L1256.2 487.8 L1254.9 489.9 L1254.3 492.1 L1254.7 494.5 L1253.6 496.6 L1251.1 496.4 L1248.7 495.3 L1246.6 495.9 L1244.3 496.3 L1242.0 497.8 L1240.9 499.8 L1241.3 502.2 L1241.0 504.6 L1239.2 506.0 L1237.8 507.7 L1236.9 510.4 L1235.3 511.9 L1233.1 511.7 L1231.1 513.1 L1230.1 515.0 L1229.6 516.8 L1227.7 516.6 L1225.6 516.1 L1224.1 514.2 L1223.1 512.4 L1220.6 512.3 L1218.1 512.2 L1216.0 511.3 L1214.0 510.2 L1211.8 509.7 L1209.5 509.6 L1207.5 508.5 L1205.7 507.2 L1204.0 505.7 L1202.3 504.3 L1201.4 502.1 L1200.9 499.1 L1198.5 498.2 L1196.3 498.0 L1194.0 498.5 L1191.6 499.1 L1189.5 498.8 L1187.3 498.7 L1184.9 498.4 L1183.1 496.8 L1181.3 495.4 L1179.3 494.3 L1177.2 494.1 L1175.0 494.5 L1172.8 494.2 L1170.1 493.1 L1167.5 493.5 L1165.9 495.3 L1164.4 497.3 L1162.6 498.7 L1160.5 499.8 L1158.7 501.7 L1157.8 504.0 L1157.4 506.2 L1157.7 508.6 L1158.3 511.1 L1157.2 513.2 L1154.9 514.3 L1153.6 516.1 L1153.1 518.4 L1152.0 520.3 L1150.7 522.1 L1149.0 523.6 L1147.1 525.0 L1145.5 526.5 L1143.9 527.9 L1143.3 530.3 L1142.7 532.7 L1140.4 533.5 L1138.1 533.9 L1136.8 535.9 L1136.1 538.4 L1134.5 540.0" stroke-width="2.25"/>
<path d="M1303.5 343.1 L1304.8 345.1 L1304.4 347.4 L1303.7 349.6 L1303.8 351.5 L1303.1 353.5 L1302.4 355.7 L1301.6 357.8 L1299.6 358.6 L1297.5 359.1 L1295.7 360.4 L1294.0 362.1 L1292.2 364.0 L1289.8 364.7 L1287.5 363.3 L1285.4 362.4 L1283.3 361.6 L1281.0 360.6 L1278.7 361.2 L1276.6 362.4 L1274.4 362.5 L1272.2 362.5 L1270.3 363.9 L1269.3 365.6 L1267.7 366.5 L1265.2 367.2 L1263.3 368.4 L1262.3 370.6 L1260.0 371.2 L1257.6 370.5 L1255.4 371.0 L1253.4 372.1 L1251.1 372.2 L1249.0 372.8 L1247.2 374.3 L1245.4 375.6 L1243.3 376.3 L1241.1 377.0 L1239.3 378.2 L1237.9 380.0 L1236.9 382.2 L1235.2 383.5 L1233.3 384.7 L1232.1 386.6 L1231.4 388.4 L1229.5 389.7 L1227.2 391.1 L1227.0 392.8 L1224.9 393.3 L1222.6 393.4 L1220.9 392.9 L1219.0 393.1 L1217.0 393.9 L1214.8 394.4 L1212.3 394.2 L1210.1 394.9 L1208.7 396.9 L1206.8 398.0" stroke-width="2.1"/>
<path d="M372.5 653.9 L373.2 650.0 L376.6 649.5 L377.1 652.1" stroke-width="1.8"/>
<path d="M201.6 682.3 L202.9 675.8 L205.5 671.9 L208.1 671.9 L205.5 677.1 L204.2 682.3" stroke-width="1.6"/>
<path d="M174.5 720.5 L175.6 718.4 L176.3 716.2 L177.7 714.3 L179.0 712.4 L179.7 710.3 L181.2 708.6 L183.4 710.1 L181.9 712.4 L180.0 714.2 L179.6 716.5 L178.9 718.8 L177.1 720.5" stroke-width="1.8"/>
<path d="M281.6 737.7 L285.5 736.5 L289.4 739.0 L290.6 741.6 L286.8 740.8 L282.9 740.3" stroke-width="1.8"/>
<path d="M292.5 744.2 L294.5 749.4 L295.8 746.8" stroke-width="1.8"/>
<path d="M391.3 798.4 L395.2 796.6 L399.0 797.1 L400.8 799.7" stroke-width="1.8"/>
<path d="M559.0 490.0 L560.9 491.4 L561.5 493.7 L562.5 495.5 L562.9 497.5 L564.4 499.5 L565.7 501.6 L565.0 503.9 L564.8 506.1 L565.4 508.3 L565.5 510.5 L565.9 512.8 L567.1 514.9 L568.0 517.2 L569.4 519.1 L572.2 519.4 L574.9 519.1 L577.0 519.9 L578.8 521.3 L580.5 522.8 L581.2 525.2 L581.9 526.9 L583.6 528.6 L584.6 530.5 L586.6 531.3 L588.4 532.3 L590.0 534.0 L591.9 535.2 L593.2 537.1 L593.8 539.4 L594.2 541.4 L594.4 543.4 L594.6 545.7 L596.2 547.7 L599.0 548.3 L601.5 548.9 L603.2 550.5 L604.5 552.5 L606.3 553.8 L607.8 555.4 L609.0 557.1 L609.6 559.5 L610.3 561.8 L612.2 562.9 L614.2 563.6 L616.0 565.0 L617.8 566.5 L618.9 568.6 L619.1 570.8 L619.6 573.0 L620.9 574.9 L621.1 577.1 L620.4 579.7 L620.8 582.0 L622.8 583.4 L625.1 583.8 L627.5 584.8 L629.2 587.1 L629.3 589.6 L628.5 591.8 L628.2 593.9 L628.7 595.7 L629.2 597.5 L629.4 599.9 L630.6 601.5 L632.0 602.8 L633.3 604.7 L634.1 606.6 L634.1 608.9 L633.2 611.0 L631.6 612.8 L630.0 614.4 L628.9 616.2 L628.2 618.4 L626.9 620.2 L624.8 621.3 L623.8 623.3 L623.4 625.6 L622.6 627.7 L621.6 629.7 L620.2 631.4"/>
<path d="M591.3 674.5 L588.5 674.1 L587.0 676.0 L585.2 677.3 L583.4 678.6 L581.6 679.7 L579.3 680.2 L577.7 682.0 L576.2 683.9 L574.0 684.3 L571.8 685.0 L569.6 685.4 L567.4 686.0 L565.6 687.3 L563.4 687.9 L561.4 688.9 L560.4 691.5 L558.9 693.3 L556.5 693.5 L553.8 693.4 L551.2 693.7 L549.0 696.0 L551.3 698.5" stroke-width="2.4"/>
<path d="M773.2 677.1 L774.1 680.0 L772.9 682.2 L770.3 683.2 L767.9 683.6 L765.9 684.5 L763.7 685.0 L761.5 685.5 L759.7 686.9 L757.7 688.2 L755.4 688.2 L753.2 688.3 L751.1 689.3 L748.8 688.9 L747.0 690.1 L746.2 692.6 L744.2 693.2 L742.7 694.8 L742.8 697.1 L742.4 699.0 L742.2 701.1 L742.2 703.6 L743.7 705.3 L746.3 706.2 L748.6 707.6 L749.3 710.1 L749.4 712.5 L750.4 714.4 L750.4 716.5 L750.6 718.7 L752.2 720.9 L751.2 723.3 L749.4 724.9 L748.9 726.9 L749.9 729.0 L749.2 731.3" stroke-width="2.4"/>
<path d="M773.2 680.5 L776.6 683.5" stroke-width="1.8"/>
<path d="M751.3 723.5 L756.5 724.3" stroke-width="1.8"/>
<path d="M744.8 690.0 L753.9 689.2 L760.3 688.2" stroke-width="1.5"/>
<path d="M657.9 786.3 L662.3 786.8 L661.5 790.6 L662.3 795.8 L663.5 799.7" stroke-width="2.3"/>
<path d="M560.3 841.5 L562.7 841.7 L564.9 842.1 L566.6 843.3 L568.3 842.6 L570.3 841.4 L572.6 841.2 L573.4 840.7 L571.8 841.2 L570.3 842.9 L569.6 845.3 L569.8 847.4 L569.6 849.8 L570.7 851.8 L572.0 853.7 L573.2 855.7 L575.4 856.8 L577.4 857.3 L579.2 858.7 L580.1 859.4 L578.3 859.3 L576.2 860.2 L574.3 861.7 L572.2 863.0 L570.1 863.6 L567.8 863.6 L565.6 863.7 L563.6 864.4 L561.5 865.4 L559.0 865.0" stroke-width="1.9"/>
<path d="M1134.5 539.0 L1137.9 542.9 L1133.7 545.5 L1133.2 548.8" stroke-width="2.0"/>
<path d="M950.0 657.7 L951.8 659.0 L954.1 659.5 L955.9 659.6 L958.4 659.7 L960.4 659.0 L962.0 657.1 L963.7 655.2 L966.0 653.2 L968.9 654.1 L970.2 656.9 L971.0 659.5 L971.8 660.9 L973.4 662.1 L975.2 663.8 L976.5 665.7 L978.0 667.4 L979.1 669.3 L980.0 671.4 L979.9 673.9 L978.4 676.4 L978.5 678.7 L980.0 680.7 L981.7 682.7 L983.1 684.8 L982.5 687.1 L980.7 689.5 L980.5 691.7 L981.2 693.7 L980.6 695.7 L980.1 697.9 L980.4 700.3 L979.4 702.3 L978.2 704.6 L979.7 706.9 L980.8 709.0 L980.5 711.2 L979.9 713.3 L980.1 715.6 L980.4 717.9 L979.6 720.0 L979.1 722.2 L979.8 724.5 L980.3 726.1 L980.6 727.9 L981.1 730.2 L982.1 732.2 L983.3 734.1 L984.4 736.1 L984.6 738.4 L984.8 740.7 L985.5 742.9 L987.5 744.5 L988.8 746.8 L987.9 749.1 L986.9 751.2 L986.5 753.4 L986.2 755.6 L986.1 757.9" stroke-width="2.0"/>
<path d="M955.2 660.3 L951.3 668.1 L944.8 668.1 L941.0 666.0" stroke-width="1.9"/>
<path d="M951.3 668.1 L951.9 670.3 L953.2 672.1 L955.8 673.0 L958.0 673.3 L958.4 676.1 L958.8 679.2 L960.8 680.1 L962.9 681.3 L963.3 683.3 L962.9 685.5 L962.2 687.7 L960.9 689.5 L959.0 691.1 L958.4 693.2 L959.0 695.9" stroke-width="1.9"/>
<path d="M960.3 678.4 L955.2 682.3 L950.5 683.0" stroke-width="1.8"/>
<path d="M979.7 718.4 L984.8 722.3 L987.4 725.4" stroke-width="1.6"/>
<path d="M982.3 732.6 L977.1 736.5 L973.7 735.7" stroke-width="1.6"/>
<path d="M987.4 740.3 L993.9 741.6 L992.6 746.0" stroke-width="1.6"/>
<path d="M950.0 657.7 L949.5 662.4" stroke-width="1.5"/>
<path d="M960.3 657.7 L961.1 662.4" stroke-width="1.5"/>
<path d="M966.8 655.2 L967.8 659.3" stroke-width="1.5"/>
<path d="M973.2 659.0 L974.8 655.2" stroke-width="1.5"/>
<path d="M932.5 690.0 L933.2 686.6 L938.4 686.1 L944.3 686.6" stroke-width="2.0"/>
<path d="M1006.8 782.9 L1010.6 789.4 L1014.5 793.2 L1017.1 795.8" stroke-width="2.2"/>
<path d="M565.5 862.7 L563.3 863.4 L561.3 864.7 L559.0 865.2 L557.9 867.2 L556.7 869.2 L555.6 871.3 L554.6 873.5 L553.8 875.9 L554.8 878.3 L556.4 880.2 L557.6 881.6 L559.7 882.4 L562.0 882.5 L564.2 883.4" stroke-width="1.9"/>
</g>
<circle cx="773.5" cy="234.6" r="3.9" fill="#000"/>
<text x="774.0" y="233.9" font-size="18.23" text-anchor="start" textLength="89.0" lengthAdjust="spacingAndGlyphs" fill="#000" >Норильск</text>
<circle cx="420.8" cy="421.1" r="3.9" fill="#000"/>
<text x="421.3" y="420.4" font-size="18.23" text-anchor="start" textLength="156.1" lengthAdjust="spacingAndGlyphs" fill="#000" >Ханты-Мансийск</text>
<circle cx="224.2" cy="489.3" r="3.9" fill="#000"/>
<text x="224.7" y="488.6" font-size="18.23" text-anchor="start" textLength="130.2" lengthAdjust="spacingAndGlyphs" fill="#000" >Екатеринбург</text>
<circle cx="278.8" cy="565.0" r="3.9" fill="#000"/>
<text x="279.3" y="564.3" font-size="18.23" text-anchor="start" textLength="66.0" lengthAdjust="spacingAndGlyphs" fill="#000" >Курган</text>
<circle cx="413.8" cy="627.8" r="3.9" fill="#000"/>
<text x="414.3" y="627.1" font-size="18.23" text-anchor="start" textLength="47.7" lengthAdjust="spacingAndGlyphs" fill="#000" >Омск</text>
<circle cx="639.5" cy="628.4" r="3.9" fill="#000"/>
<text x="640.0" y="627.7" font-size="18.23" text-anchor="start" textLength="55.4" lengthAdjust="spacingAndGlyphs" fill="#000" >Томск</text>
<circle cx="590.8" cy="668.4" r="3.9" fill="#000"/>
<text x="591.3" y="667.7" font-size="18.23" text-anchor="start" textLength="120.7" lengthAdjust="spacingAndGlyphs" fill="#000" >Новосибирск</text>
<circle cx="783.8" cy="661.2" r="3.9" fill="#000"/>
<text x="784.3" y="660.5" font-size="18.23" text-anchor="start" textLength="109.1" lengthAdjust="spacingAndGlyphs" fill="#000" >Красноярск</text>
<circle cx="663.0" cy="721.6" r="3.9" fill="#000"/>
<text x="663.5" y="720.9" font-size="18.23" text-anchor="start" textLength="121.2" lengthAdjust="spacingAndGlyphs" fill="#000" >Новокузнецк</text>
<circle cx="803.2" cy="801.4" r="3.9" fill="#000"/>
<text x="803.7" y="800.7" font-size="18.23" text-anchor="start" textLength="61.2" lengthAdjust="spacingAndGlyphs" fill="#000" >Кызыл</text>
<circle cx="1006.8" cy="784.3" r="3.9" fill="#000"/>
<text x="1007.3" y="783.6" font-size="18.23" text-anchor="start" textLength="76.4" lengthAdjust="spacingAndGlyphs" fill="#000" >Иркутск</text>
<circle cx="1075.5" cy="795.0" r="3.9" fill="#000"/>
<text x="1076.0" y="794.3" font-size="18.23" text-anchor="start" textLength="83.6" lengthAdjust="spacingAndGlyphs" fill="#000" >Улан-Удэ</text>
<circle cx="1196.0" cy="775.4" r="3.9" fill="#000"/>
<text x="1196.5" y="774.7" font-size="18.23" text-anchor="start" textLength="44.8" lengthAdjust="spacingAndGlyphs" fill="#000" >Чита</text>
</g>
<rect x="155.5" y="171.5" width="1256.0" height="970.0" fill="none" stroke="#000" stroke-width="1.67"/>
<text x="141.2" y="1077.8" font-size="24.48" text-anchor="end" textLength="60.5" lengthAdjust="spacingAndGlyphs" fill="#000" >40°N</text>
<text x="141.2" y="899.6" font-size="24.48" text-anchor="end" textLength="60.5" lengthAdjust="spacingAndGlyphs" fill="#000" >45°N</text>
<text x="141.2" y="718.5" font-size="24.48" text-anchor="end" textLength="60.5" lengthAdjust="spacingAndGlyphs" fill="#000" >50°N</text>
<text x="141.2" y="531.7" font-size="24.48" text-anchor="end" textLength="60.5" lengthAdjust="spacingAndGlyphs" fill="#000" >55°N</text>
<text x="141.2" y="333.0" font-size="24.48" text-anchor="end" textLength="60.5" lengthAdjust="spacingAndGlyphs" fill="#000" >60°N</text>
<text x="155.4" y="1174.0" font-size="24.48" text-anchor="middle" textLength="57.7" lengthAdjust="spacingAndGlyphs" fill="#000" >70°E</text>
<text x="416.1" y="1174.0" font-size="24.48" text-anchor="middle" textLength="57.7" lengthAdjust="spacingAndGlyphs" fill="#000" >80°E</text>
<text x="669.2" y="1174.0" font-size="24.48" text-anchor="middle" textLength="57.7" lengthAdjust="spacingAndGlyphs" fill="#000" >90°E</text>
<text x="918.5" y="1174.0" font-size="24.48" text-anchor="middle" textLength="73.0" lengthAdjust="spacingAndGlyphs" fill="#000" >100°E</text>
<text x="1167.7" y="1174.0" font-size="24.48" text-anchor="middle" textLength="73.0" lengthAdjust="spacingAndGlyphs" fill="#000" >110°E</text>
<g shape-rendering="crispEdges">
<rect x="212.60" y="1191.0" width="23.43" height="48.5" fill="#7c06ff"/>
<rect x="235.43" y="1191.0" width="23.43" height="48.5" fill="#7216ff"/>
<rect x="258.26" y="1191.0" width="23.43" height="48.5" fill="#6826fe"/>
<rect x="281.08" y="1191.0" width="23.43" height="48.5" fill="#5e35fe"/>
<rect x="303.91" y="1191.0" width="23.43" height="48.5" fill="#5247fc"/>
<rect x="326.74" y="1191.0" width="23.43" height="48.5" fill="#4856fb"/>
<rect x="349.57" y="1191.0" width="23.43" height="48.5" fill="#3e65fa"/>
<rect x="372.40" y="1191.0" width="23.43" height="48.5" fill="#3473f8"/>
<rect x="395.22" y="1191.0" width="23.43" height="48.5" fill="#2981f6"/>
<rect x="418.05" y="1191.0" width="23.43" height="48.5" fill="#208ef4"/>
<rect x="440.88" y="1191.0" width="23.43" height="48.5" fill="#169bf2"/>
<rect x="463.71" y="1191.0" width="23.43" height="48.5" fill="#0ca7ef"/>
<rect x="486.54" y="1191.0" width="23.43" height="48.5" fill="#00b5eb"/>
<rect x="509.36" y="1191.0" width="23.43" height="48.5" fill="#0ac0e8"/>
<rect x="532.19" y="1191.0" width="23.43" height="48.5" fill="#14cae5"/>
<rect x="555.02" y="1191.0" width="23.43" height="48.5" fill="#1fd3e1"/>
<rect x="577.85" y="1191.0" width="23.43" height="48.5" fill="#28dbde"/>
<rect x="600.68" y="1191.0" width="23.43" height="48.5" fill="#32e3da"/>
<rect x="623.50" y="1191.0" width="23.43" height="48.5" fill="#3dead5"/>
<rect x="646.33" y="1191.0" width="23.43" height="48.5" fill="#46efd1"/>
<rect x="669.16" y="1191.0" width="23.43" height="48.5" fill="#50f4cc"/>
<rect x="691.99" y="1191.0" width="23.43" height="48.5" fill="#5df9c7"/>
<rect x="714.82" y="1191.0" width="23.43" height="48.5" fill="#66fcc2"/>
<rect x="737.64" y="1191.0" width="23.43" height="48.5" fill="#70febc"/>
<rect x="760.47" y="1191.0" width="23.43" height="48.5" fill="#7affb7"/>
<rect x="783.30" y="1191.0" width="23.43" height="48.5" fill="#84ffb2"/>
<rect x="806.13" y="1191.0" width="23.43" height="48.5" fill="#8efeac"/>
<rect x="828.96" y="1191.0" width="23.43" height="48.5" fill="#99fca6"/>
<rect x="851.78" y="1191.0" width="23.43" height="48.5" fill="#a2f9a0"/>
<rect x="874.61" y="1191.0" width="23.43" height="48.5" fill="#aef498"/>
<rect x="897.44" y="1191.0" width="23.43" height="48.5" fill="#b9ef92"/>
<rect x="920.27" y="1191.0" width="23.43" height="48.5" fill="#c2ea8c"/>
<rect x="943.10" y="1191.0" width="23.43" height="48.5" fill="#cce385"/>
<rect x="965.92" y="1191.0" width="23.43" height="48.5" fill="#d6db7e"/>
<rect x="988.75" y="1191.0" width="23.43" height="48.5" fill="#e0d377"/>
<rect x="1011.58" y="1191.0" width="23.43" height="48.5" fill="#ebca70"/>
<rect x="1034.41" y="1191.0" width="23.43" height="48.5" fill="#f4c069"/>
<rect x="1057.24" y="1191.0" width="23.43" height="48.5" fill="#ffb360"/>
<rect x="1080.06" y="1191.0" width="23.43" height="48.5" fill="#ffa759"/>
<rect x="1102.89" y="1191.0" width="23.43" height="48.5" fill="#ff9b52"/>
<rect x="1125.72" y="1191.0" width="23.43" height="48.5" fill="#ff8e4a"/>
<rect x="1148.55" y="1191.0" width="23.43" height="48.5" fill="#ff8143"/>
<rect x="1171.38" y="1191.0" width="23.43" height="48.5" fill="#ff733b"/>
<rect x="1194.20" y="1191.0" width="23.43" height="48.5" fill="#ff6533"/>
<rect x="1217.03" y="1191.0" width="23.43" height="48.5" fill="#ff562c"/>
<rect x="1239.86" y="1191.0" width="23.43" height="48.5" fill="#ff4724"/>
<rect x="1262.69" y="1191.0" width="23.43" height="48.5" fill="#ff351b"/>
<rect x="1285.52" y="1191.0" width="23.43" height="48.5" fill="#ff2613"/>
<rect x="1308.34" y="1191.0" width="23.43" height="48.5" fill="#ff160b"/>
<rect x="1331.17" y="1191.0" width="23.43" height="48.5" fill="#ff0603"/>
</g>
<path d="M213.6 1191.0 L155.5 1215.25 L213.6 1239.5Z" fill="#8000ff"/>
<path d="M1353.0 1191.0 L1411 1215.25 L1353.0 1239.5Z" fill="#ff0000"/>
<path d="M155.5 1215.25 L212.6 1191.0 L1354.0 1191.0 L1411 1215.25 L1354.0 1239.5 L212.6 1239.5Z" fill="none" stroke="#000" stroke-width="1.3" stroke-linejoin="miter"/>
<path d="M212.6 1239.5 v7.5" stroke="#000" stroke-width="1.6"/>
<text x="212.6" y="1268.0" font-size="24.48" text-anchor="middle" textLength="30.5" lengthAdjust="spacingAndGlyphs" fill="#000" >55</text>
<path d="M440.9 1239.5 v7.5" stroke="#000" stroke-width="1.6"/>
<text x="440.9" y="1268.0" font-size="24.48" text-anchor="middle" textLength="30.5" lengthAdjust="spacingAndGlyphs" fill="#000" >79</text>
<path d="M669.2 1239.5 v7.5" stroke="#000" stroke-width="1.6"/>
<text x="669.2" y="1268.0" font-size="24.48" text-anchor="middle" textLength="45.8" lengthAdjust="spacingAndGlyphs" fill="#000" >103</text>
<path d="M897.4 1239.5 v7.5" stroke="#000" stroke-width="1.6"/>
<text x="897.4" y="1268.0" font-size="24.48" text-anchor="middle" textLength="45.8" lengthAdjust="spacingAndGlyphs" fill="#000" >127</text>
<path d="M1125.7 1239.5 v7.5" stroke="#000" stroke-width="1.6"/>
<text x="1125.7" y="1268.0" font-size="24.48" text-anchor="middle" textLength="45.8" lengthAdjust="spacingAndGlyphs" fill="#000" >151</text>
<path d="M1354.0 1239.5 v7.5" stroke="#000" stroke-width="1.6"/>
<text x="1354.0" y="1268.0" font-size="24.48" text-anchor="middle" textLength="45.8" lengthAdjust="spacingAndGlyphs" fill="#000" >175</text>
<g fill="#2a2a2a">
<text x="17.3" y="1430.7" font-size="14.08">Сибирский центр ФГБУ «НИЦ «Планета»</text>
<text x="17.3" y="1447.5" font-size="14.08">Россия, 630099, г. Новосибирск, ул. Советская, 30</text>
<text x="17.3" y="1464.2" font-size="14.08">Тел.: (383) 363-46-05, Факс: (383) 363-46-05</text>
<text x="17.3" y="1480.6" font-size="14.08">E-Mail: <tspan fill="#000" textLength="201" lengthAdjust="spacingAndGlyphs" font-size="13.2">alexk@rcpod.ru, www.rcpod.ru</tspan></text>
</g>
<text x="1241.6" y="1347.7" font-size="17.5" textLength="219.3" lengthAdjust="spacingAndGlyphs">КА NOAA-20/(CRIS/ATMS)</text>
<text x="1241.6" y="1368.6" font-size="17.5" textLength="165.3" lengthAdjust="spacingAndGlyphs">2025-10-29 05:47:38</text>
<text x="1241.6" y="1389.5" font-size="17.5" textLength="165.3" lengthAdjust="spacingAndGlyphs">2025-10-29 07:26:50</text>
<text x="1241.6" y="1410.4" font-size="17.5" textLength="165.3" lengthAdjust="spacingAndGlyphs">2025-10-29 09:10:50</text>
<g transform="translate(345,1385) scale(0.077419)">
<path d="M135 105 H1403 M135 1335 H1403" stroke="#c8c8c8" stroke-width="10" fill="none"/>
<path d="M135 100 V1340 M1403 100 V1340" stroke="#111" stroke-width="13" fill="none"/>
<path d="M1300 355 C1180 280 980 240 800 242 C480 245 225 440 222 715 C225 990 480 1190 800 1193 C980 1195 1180 1150 1300 1075 V895 C1220 920 1130 928 1050 925 C940 915 862 830 860 715 C862 600 940 510 1050 500 C1130 495 1220 510 1300 540Z" fill="#fff" stroke="#000" stroke-width="22" stroke-linejoin="miter"/>
<g font-weight="bold" font-size="152" fill="#111">
<text x="425" y="600" textLength="362" lengthAdjust="spacingAndGlyphs">ИСО</text>
<text x="355" y="770" textLength="405" lengthAdjust="spacingAndGlyphs">9001</text>
<text x="360" y="936" textLength="470" lengthAdjust="spacingAndGlyphs">-2015</text>
</g>
<defs><path id="arcT" d="M300 385 C520 130 1080 110 1345 300"/><path id="arcB" d="M480 1215 C700 1330 1000 1330 1190 1225"/></defs>
<text font-weight="bold" font-size="84" fill="#222"><textPath href="#arcT" textLength="1130" lengthAdjust="spacingAndGlyphs">ДОБРОСОВЕСТНЫЙ</textPath></text>
<text font-weight="bold" font-size="78" fill="#222"><textPath href="#arcB" textLength="730" lengthAdjust="spacingAndGlyphs">ПОСТАВЩИК</textPath></text>
</g>
</svg>
</body></html>
